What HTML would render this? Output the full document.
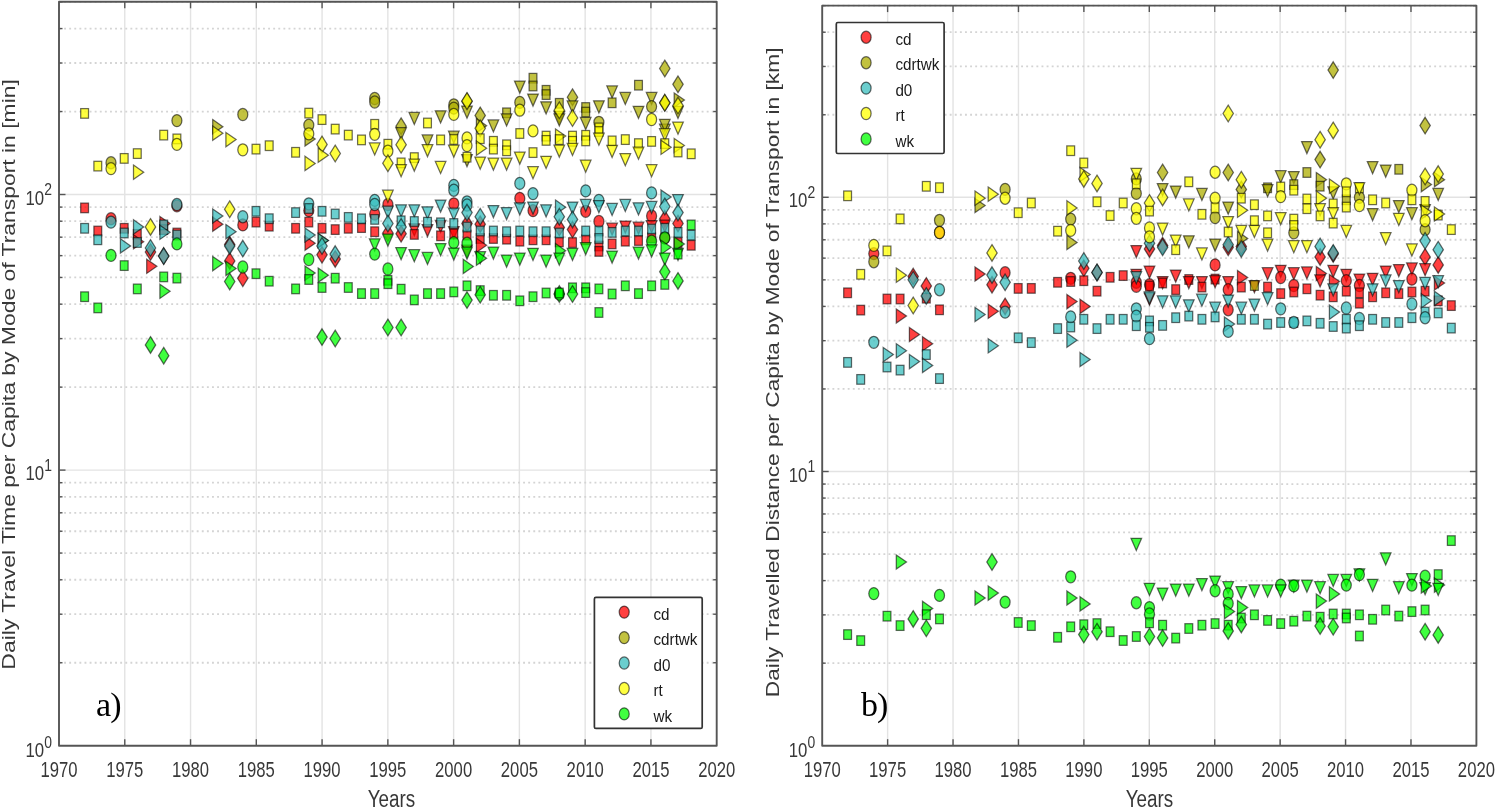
<!DOCTYPE html><html><head><meta charset="utf-8"><style>html,body{margin:0;padding:0;background:#fff;overflow:hidden}svg{display:block;filter:blur(0.3px)}</style></head><body>
<svg width="1496" height="809" viewBox="0 0 1496 809" font-family='"Liberation Sans", sans-serif'>
<rect width="1496" height="809" fill="#fff"/>
<line x1="124.77" y1="1.80" x2="124.77" y2="745.70" stroke="#e3e3e3" stroke-width="1.4"/>
<line x1="190.54" y1="1.80" x2="190.54" y2="745.70" stroke="#e3e3e3" stroke-width="1.4"/>
<line x1="256.31" y1="1.80" x2="256.31" y2="745.70" stroke="#e3e3e3" stroke-width="1.4"/>
<line x1="322.08" y1="1.80" x2="322.08" y2="745.70" stroke="#e3e3e3" stroke-width="1.4"/>
<line x1="387.85" y1="1.80" x2="387.85" y2="745.70" stroke="#e3e3e3" stroke-width="1.4"/>
<line x1="453.62" y1="1.80" x2="453.62" y2="745.70" stroke="#e3e3e3" stroke-width="1.4"/>
<line x1="519.39" y1="1.80" x2="519.39" y2="745.70" stroke="#e3e3e3" stroke-width="1.4"/>
<line x1="585.16" y1="1.80" x2="585.16" y2="745.70" stroke="#e3e3e3" stroke-width="1.4"/>
<line x1="650.93" y1="1.80" x2="650.93" y2="745.70" stroke="#e3e3e3" stroke-width="1.4"/>
<line x1="59.00" y1="662.74" x2="716.70" y2="662.74" stroke="#d4d4d4" stroke-width="1.8" stroke-dasharray="1.9 3.2"/>
<line x1="59.00" y1="614.21" x2="716.70" y2="614.21" stroke="#d4d4d4" stroke-width="1.8" stroke-dasharray="1.9 3.2"/>
<line x1="59.00" y1="579.77" x2="716.70" y2="579.77" stroke="#d4d4d4" stroke-width="1.8" stroke-dasharray="1.9 3.2"/>
<line x1="59.00" y1="553.06" x2="716.70" y2="553.06" stroke="#d4d4d4" stroke-width="1.8" stroke-dasharray="1.9 3.2"/>
<line x1="59.00" y1="531.24" x2="716.70" y2="531.24" stroke="#d4d4d4" stroke-width="1.8" stroke-dasharray="1.9 3.2"/>
<line x1="59.00" y1="512.79" x2="716.70" y2="512.79" stroke="#d4d4d4" stroke-width="1.8" stroke-dasharray="1.9 3.2"/>
<line x1="59.00" y1="496.81" x2="716.70" y2="496.81" stroke="#d4d4d4" stroke-width="1.8" stroke-dasharray="1.9 3.2"/>
<line x1="59.00" y1="482.71" x2="716.70" y2="482.71" stroke="#d4d4d4" stroke-width="1.8" stroke-dasharray="1.9 3.2"/>
<line x1="59.00" y1="387.14" x2="716.70" y2="387.14" stroke="#d4d4d4" stroke-width="1.8" stroke-dasharray="1.9 3.2"/>
<line x1="59.00" y1="338.61" x2="716.70" y2="338.61" stroke="#d4d4d4" stroke-width="1.8" stroke-dasharray="1.9 3.2"/>
<line x1="59.00" y1="304.17" x2="716.70" y2="304.17" stroke="#d4d4d4" stroke-width="1.8" stroke-dasharray="1.9 3.2"/>
<line x1="59.00" y1="277.46" x2="716.70" y2="277.46" stroke="#d4d4d4" stroke-width="1.8" stroke-dasharray="1.9 3.2"/>
<line x1="59.00" y1="255.64" x2="716.70" y2="255.64" stroke="#d4d4d4" stroke-width="1.8" stroke-dasharray="1.9 3.2"/>
<line x1="59.00" y1="237.19" x2="716.70" y2="237.19" stroke="#d4d4d4" stroke-width="1.8" stroke-dasharray="1.9 3.2"/>
<line x1="59.00" y1="221.21" x2="716.70" y2="221.21" stroke="#d4d4d4" stroke-width="1.8" stroke-dasharray="1.9 3.2"/>
<line x1="59.00" y1="207.11" x2="716.70" y2="207.11" stroke="#d4d4d4" stroke-width="1.8" stroke-dasharray="1.9 3.2"/>
<line x1="59.00" y1="111.54" x2="716.70" y2="111.54" stroke="#d4d4d4" stroke-width="1.8" stroke-dasharray="1.9 3.2"/>
<line x1="59.00" y1="63.01" x2="716.70" y2="63.01" stroke="#d4d4d4" stroke-width="1.8" stroke-dasharray="1.9 3.2"/>
<line x1="59.00" y1="28.57" x2="716.70" y2="28.57" stroke="#d4d4d4" stroke-width="1.8" stroke-dasharray="1.9 3.2"/>
<line x1="59.00" y1="1.86" x2="716.70" y2="1.86" stroke="#d4d4d4" stroke-width="1.8" stroke-dasharray="1.9 3.2"/>
<line x1="59.00" y1="470.10" x2="716.70" y2="470.10" stroke="#e3e3e3" stroke-width="1.4"/>
<line x1="59.00" y1="194.50" x2="716.70" y2="194.50" stroke="#e3e3e3" stroke-width="1.4"/>
<line x1="887.62" y1="5.60" x2="887.62" y2="745.70" stroke="#e3e3e3" stroke-width="1.4"/>
<line x1="953.04" y1="5.60" x2="953.04" y2="745.70" stroke="#e3e3e3" stroke-width="1.4"/>
<line x1="1018.46" y1="5.60" x2="1018.46" y2="745.70" stroke="#e3e3e3" stroke-width="1.4"/>
<line x1="1083.88" y1="5.60" x2="1083.88" y2="745.70" stroke="#e3e3e3" stroke-width="1.4"/>
<line x1="1149.30" y1="5.60" x2="1149.30" y2="745.70" stroke="#e3e3e3" stroke-width="1.4"/>
<line x1="1214.72" y1="5.60" x2="1214.72" y2="745.70" stroke="#e3e3e3" stroke-width="1.4"/>
<line x1="1280.14" y1="5.60" x2="1280.14" y2="745.70" stroke="#e3e3e3" stroke-width="1.4"/>
<line x1="1345.56" y1="5.60" x2="1345.56" y2="745.70" stroke="#e3e3e3" stroke-width="1.4"/>
<line x1="1410.98" y1="5.60" x2="1410.98" y2="745.70" stroke="#e3e3e3" stroke-width="1.4"/>
<line x1="822.20" y1="663.16" x2="1476.40" y2="663.16" stroke="#d4d4d4" stroke-width="1.8" stroke-dasharray="1.9 3.2"/>
<line x1="822.20" y1="614.87" x2="1476.40" y2="614.87" stroke="#d4d4d4" stroke-width="1.8" stroke-dasharray="1.9 3.2"/>
<line x1="822.20" y1="580.62" x2="1476.40" y2="580.62" stroke="#d4d4d4" stroke-width="1.8" stroke-dasharray="1.9 3.2"/>
<line x1="822.20" y1="554.04" x2="1476.40" y2="554.04" stroke="#d4d4d4" stroke-width="1.8" stroke-dasharray="1.9 3.2"/>
<line x1="822.20" y1="532.33" x2="1476.40" y2="532.33" stroke="#d4d4d4" stroke-width="1.8" stroke-dasharray="1.9 3.2"/>
<line x1="822.20" y1="513.97" x2="1476.40" y2="513.97" stroke="#d4d4d4" stroke-width="1.8" stroke-dasharray="1.9 3.2"/>
<line x1="822.20" y1="498.07" x2="1476.40" y2="498.07" stroke="#d4d4d4" stroke-width="1.8" stroke-dasharray="1.9 3.2"/>
<line x1="822.20" y1="484.05" x2="1476.40" y2="484.05" stroke="#d4d4d4" stroke-width="1.8" stroke-dasharray="1.9 3.2"/>
<line x1="822.20" y1="388.96" x2="1476.40" y2="388.96" stroke="#d4d4d4" stroke-width="1.8" stroke-dasharray="1.9 3.2"/>
<line x1="822.20" y1="340.67" x2="1476.40" y2="340.67" stroke="#d4d4d4" stroke-width="1.8" stroke-dasharray="1.9 3.2"/>
<line x1="822.20" y1="306.42" x2="1476.40" y2="306.42" stroke="#d4d4d4" stroke-width="1.8" stroke-dasharray="1.9 3.2"/>
<line x1="822.20" y1="279.84" x2="1476.40" y2="279.84" stroke="#d4d4d4" stroke-width="1.8" stroke-dasharray="1.9 3.2"/>
<line x1="822.20" y1="258.13" x2="1476.40" y2="258.13" stroke="#d4d4d4" stroke-width="1.8" stroke-dasharray="1.9 3.2"/>
<line x1="822.20" y1="239.77" x2="1476.40" y2="239.77" stroke="#d4d4d4" stroke-width="1.8" stroke-dasharray="1.9 3.2"/>
<line x1="822.20" y1="223.87" x2="1476.40" y2="223.87" stroke="#d4d4d4" stroke-width="1.8" stroke-dasharray="1.9 3.2"/>
<line x1="822.20" y1="209.85" x2="1476.40" y2="209.85" stroke="#d4d4d4" stroke-width="1.8" stroke-dasharray="1.9 3.2"/>
<line x1="822.20" y1="114.76" x2="1476.40" y2="114.76" stroke="#d4d4d4" stroke-width="1.8" stroke-dasharray="1.9 3.2"/>
<line x1="822.20" y1="66.47" x2="1476.40" y2="66.47" stroke="#d4d4d4" stroke-width="1.8" stroke-dasharray="1.9 3.2"/>
<line x1="822.20" y1="32.22" x2="1476.40" y2="32.22" stroke="#d4d4d4" stroke-width="1.8" stroke-dasharray="1.9 3.2"/>
<line x1="822.20" y1="5.64" x2="1476.40" y2="5.64" stroke="#d4d4d4" stroke-width="1.8" stroke-dasharray="1.9 3.2"/>
<line x1="822.20" y1="471.50" x2="1476.40" y2="471.50" stroke="#e3e3e3" stroke-width="1.4"/>
<line x1="822.20" y1="197.30" x2="1476.40" y2="197.30" stroke="#e3e3e3" stroke-width="1.4"/>
<rect x="80.7" y="203.1" width="7.8" height="9.6" fill="#ff0000" fill-opacity="0.75" stroke="#000" stroke-opacity="0.58" stroke-width="1.25"/>
<rect x="93.9" y="226.2" width="7.8" height="9.6" fill="#ff0000" fill-opacity="0.75" stroke="#000" stroke-opacity="0.58" stroke-width="1.25"/>
<ellipse cx="111.0" cy="218.7" rx="5.0" ry="6.05" fill="#ff0000" fill-opacity="0.75" stroke="#000" stroke-opacity="0.58" stroke-width="1.25"/>
<rect x="120.3" y="223.5" width="7.8" height="9.6" fill="#ff0000" fill-opacity="0.75" stroke="#000" stroke-opacity="0.58" stroke-width="1.25"/>
<rect x="133.4" y="229.6" width="7.8" height="9.6" fill="#ff0000" fill-opacity="0.75" stroke="#000" stroke-opacity="0.58" stroke-width="1.25"/>
<path d="M133.5 234.7L143.7 241.8L133.5 248.9Z" fill="#ff0000" fill-opacity="0.75" stroke="#000" stroke-opacity="0.58" stroke-width="1.25"/>
<path d="M150.5 243.7L155.7 252.0L150.5 260.3L145.3 252.0Z" fill="#ff0000" fill-opacity="0.75" stroke="#000" stroke-opacity="0.58" stroke-width="1.25"/>
<path d="M146.7 259.2L156.9 266.3L146.7 273.4Z" fill="#ff0000" fill-opacity="0.75" stroke="#000" stroke-opacity="0.58" stroke-width="1.25"/>
<path d="M159.9 216.4L170.1 223.5L159.9 230.6Z" fill="#ff0000" fill-opacity="0.75" stroke="#000" stroke-opacity="0.58" stroke-width="1.25"/>
<rect x="159.8" y="224.8" width="7.8" height="9.6" fill="#ff0000" fill-opacity="0.75" stroke="#000" stroke-opacity="0.58" stroke-width="1.25"/>
<path d="M163.7 247.8L168.9 256.1L163.7 264.4L158.5 256.1Z" fill="#ff0000" fill-opacity="0.75" stroke="#000" stroke-opacity="0.58" stroke-width="1.25"/>
<ellipse cx="176.9" cy="205.8" rx="5.0" ry="6.05" fill="#ff0000" fill-opacity="0.75" stroke="#000" stroke-opacity="0.58" stroke-width="1.25"/>
<rect x="173.0" y="228.2" width="7.8" height="9.6" fill="#ff0000" fill-opacity="0.75" stroke="#000" stroke-opacity="0.58" stroke-width="1.25"/>
<path d="M212.7 217.1L222.9 224.2L212.7 231.3Z" fill="#ff0000" fill-opacity="0.75" stroke="#000" stroke-opacity="0.58" stroke-width="1.25"/>
<path d="M229.7 236.3L234.9 244.6L229.7 252.9L224.5 244.6Z" fill="#ff0000" fill-opacity="0.75" stroke="#000" stroke-opacity="0.58" stroke-width="1.25"/>
<path d="M229.7 252.6L234.9 260.9L229.7 269.2L224.5 260.9Z" fill="#ff0000" fill-opacity="0.75" stroke="#000" stroke-opacity="0.58" stroke-width="1.25"/>
<ellipse cx="242.8" cy="224.9" rx="5.0" ry="6.05" fill="#ff0000" fill-opacity="0.75" stroke="#000" stroke-opacity="0.58" stroke-width="1.25"/>
<path d="M242.8 270.0L248.0 278.3L242.8 286.6L237.6 278.3Z" fill="#ff0000" fill-opacity="0.75" stroke="#000" stroke-opacity="0.58" stroke-width="1.25"/>
<rect x="252.1" y="217.3" width="7.8" height="9.6" fill="#ff0000" fill-opacity="0.75" stroke="#000" stroke-opacity="0.58" stroke-width="1.25"/>
<rect x="265.3" y="221.4" width="7.8" height="9.6" fill="#ff0000" fill-opacity="0.75" stroke="#000" stroke-opacity="0.58" stroke-width="1.25"/>
<rect x="291.7" y="223.5" width="7.8" height="9.6" fill="#ff0000" fill-opacity="0.75" stroke="#000" stroke-opacity="0.58" stroke-width="1.25"/>
<ellipse cx="308.8" cy="210.6" rx="5.0" ry="6.05" fill="#ff0000" fill-opacity="0.75" stroke="#000" stroke-opacity="0.58" stroke-width="1.25"/>
<rect x="304.9" y="217.3" width="7.8" height="9.6" fill="#ff0000" fill-opacity="0.75" stroke="#000" stroke-opacity="0.58" stroke-width="1.25"/>
<path d="M305.0 236.1L315.2 243.2L305.0 250.3Z" fill="#ff0000" fill-opacity="0.75" stroke="#000" stroke-opacity="0.58" stroke-width="1.25"/>
<rect x="318.1" y="223.5" width="7.8" height="9.6" fill="#ff0000" fill-opacity="0.75" stroke="#000" stroke-opacity="0.58" stroke-width="1.25"/>
<path d="M322.0 246.5L327.2 254.8L322.0 263.1L316.8 254.8Z" fill="#ff0000" fill-opacity="0.75" stroke="#000" stroke-opacity="0.58" stroke-width="1.25"/>
<rect x="331.3" y="224.8" width="7.8" height="9.6" fill="#ff0000" fill-opacity="0.75" stroke="#000" stroke-opacity="0.58" stroke-width="1.25"/>
<path d="M335.2 250.6L340.4 258.9L335.2 267.2L330.0 258.9Z" fill="#ff0000" fill-opacity="0.75" stroke="#000" stroke-opacity="0.58" stroke-width="1.25"/>
<rect x="344.4" y="223.5" width="7.8" height="9.6" fill="#ff0000" fill-opacity="0.75" stroke="#000" stroke-opacity="0.58" stroke-width="1.25"/>
<rect x="357.6" y="222.8" width="7.8" height="9.6" fill="#ff0000" fill-opacity="0.75" stroke="#000" stroke-opacity="0.58" stroke-width="1.25"/>
<ellipse cx="374.7" cy="214.0" rx="5.0" ry="6.05" fill="#ff0000" fill-opacity="0.75" stroke="#000" stroke-opacity="0.58" stroke-width="1.25"/>
<rect x="370.8" y="226.9" width="7.8" height="9.6" fill="#ff0000" fill-opacity="0.75" stroke="#000" stroke-opacity="0.58" stroke-width="1.25"/>
<ellipse cx="387.9" cy="204.5" rx="5.0" ry="6.05" fill="#ff0000" fill-opacity="0.75" stroke="#000" stroke-opacity="0.58" stroke-width="1.25"/>
<path d="M387.9 224.7L393.1 233.0L387.9 241.3L382.7 233.0Z" fill="#ff0000" fill-opacity="0.75" stroke="#000" stroke-opacity="0.58" stroke-width="1.25"/>
<path d="M401.1 225.4L406.3 233.7L401.1 242.0L395.9 233.7Z" fill="#ff0000" fill-opacity="0.75" stroke="#000" stroke-opacity="0.58" stroke-width="1.25"/>
<path d="M409.0 223.8L419.6 223.8L414.3 235.9Z" fill="#ff0000" fill-opacity="0.75" stroke="#000" stroke-opacity="0.58" stroke-width="1.25"/>
<rect x="410.4" y="229.6" width="7.8" height="9.6" fill="#ff0000" fill-opacity="0.75" stroke="#000" stroke-opacity="0.58" stroke-width="1.25"/>
<path d="M422.2 224.5L432.8 224.5L427.5 236.6Z" fill="#ff0000" fill-opacity="0.75" stroke="#000" stroke-opacity="0.58" stroke-width="1.25"/>
<path d="M435.3 220.4L445.9 220.4L440.6 232.5Z" fill="#ff0000" fill-opacity="0.75" stroke="#000" stroke-opacity="0.58" stroke-width="1.25"/>
<rect x="436.7" y="231.0" width="7.8" height="9.6" fill="#ff0000" fill-opacity="0.75" stroke="#000" stroke-opacity="0.58" stroke-width="1.25"/>
<ellipse cx="453.8" cy="203.8" rx="5.0" ry="6.05" fill="#ff0000" fill-opacity="0.75" stroke="#000" stroke-opacity="0.58" stroke-width="1.25"/>
<path d="M448.5 226.6L459.1 226.6L453.8 238.7Z" fill="#ff0000" fill-opacity="0.75" stroke="#000" stroke-opacity="0.58" stroke-width="1.25"/>
<rect x="449.9" y="229.2" width="7.8" height="9.6" fill="#ff0000" fill-opacity="0.75" stroke="#000" stroke-opacity="0.58" stroke-width="1.25"/>
<path d="M467.0 215.2L472.2 223.5L467.0 231.8L461.8 223.5Z" fill="#ff0000" fill-opacity="0.75" stroke="#000" stroke-opacity="0.58" stroke-width="1.25"/>
<rect x="463.1" y="230.3" width="7.8" height="9.6" fill="#ff0000" fill-opacity="0.75" stroke="#000" stroke-opacity="0.58" stroke-width="1.25"/>
<path d="M461.7 245.2L472.3 245.2L467.0 257.3Z" fill="#ff0000" fill-opacity="0.75" stroke="#000" stroke-opacity="0.58" stroke-width="1.25"/>
<path d="M480.2 215.9L485.4 224.2L480.2 232.5L475.0 224.2Z" fill="#ff0000" fill-opacity="0.75" stroke="#000" stroke-opacity="0.58" stroke-width="1.25"/>
<rect x="476.3" y="233.7" width="7.8" height="9.6" fill="#ff0000" fill-opacity="0.75" stroke="#000" stroke-opacity="0.58" stroke-width="1.25"/>
<path d="M476.4 238.2L486.6 245.3L476.4 252.4Z" fill="#ff0000" fill-opacity="0.75" stroke="#000" stroke-opacity="0.58" stroke-width="1.25"/>
<rect x="489.5" y="233.7" width="7.8" height="9.6" fill="#ff0000" fill-opacity="0.75" stroke="#000" stroke-opacity="0.58" stroke-width="1.25"/>
<rect x="502.7" y="234.4" width="7.8" height="9.6" fill="#ff0000" fill-opacity="0.75" stroke="#000" stroke-opacity="0.58" stroke-width="1.25"/>
<ellipse cx="519.8" cy="198.4" rx="5.0" ry="6.05" fill="#ff0000" fill-opacity="0.75" stroke="#000" stroke-opacity="0.58" stroke-width="1.25"/>
<rect x="515.9" y="236.4" width="7.8" height="9.6" fill="#ff0000" fill-opacity="0.75" stroke="#000" stroke-opacity="0.58" stroke-width="1.25"/>
<ellipse cx="533.0" cy="210.6" rx="5.0" ry="6.05" fill="#ff0000" fill-opacity="0.75" stroke="#000" stroke-opacity="0.58" stroke-width="1.25"/>
<rect x="529.1" y="235.0" width="7.8" height="9.6" fill="#ff0000" fill-opacity="0.75" stroke="#000" stroke-opacity="0.58" stroke-width="1.25"/>
<rect x="542.2" y="235.0" width="7.8" height="9.6" fill="#ff0000" fill-opacity="0.75" stroke="#000" stroke-opacity="0.58" stroke-width="1.25"/>
<path d="M559.3 219.3L564.5 227.6L559.3 235.9L554.1 227.6Z" fill="#ff0000" fill-opacity="0.75" stroke="#000" stroke-opacity="0.58" stroke-width="1.25"/>
<rect x="555.4" y="237.1" width="7.8" height="9.6" fill="#ff0000" fill-opacity="0.75" stroke="#000" stroke-opacity="0.58" stroke-width="1.25"/>
<path d="M572.5 221.3L577.7 229.6L572.5 237.9L567.3 229.6Z" fill="#ff0000" fill-opacity="0.75" stroke="#000" stroke-opacity="0.58" stroke-width="1.25"/>
<rect x="568.6" y="237.8" width="7.8" height="9.6" fill="#ff0000" fill-opacity="0.75" stroke="#000" stroke-opacity="0.58" stroke-width="1.25"/>
<ellipse cx="585.7" cy="211.3" rx="5.0" ry="6.05" fill="#ff0000" fill-opacity="0.75" stroke="#000" stroke-opacity="0.58" stroke-width="1.25"/>
<rect x="581.8" y="235.0" width="7.8" height="9.6" fill="#ff0000" fill-opacity="0.75" stroke="#000" stroke-opacity="0.58" stroke-width="1.25"/>
<ellipse cx="598.9" cy="221.5" rx="5.0" ry="6.05" fill="#ff0000" fill-opacity="0.75" stroke="#000" stroke-opacity="0.58" stroke-width="1.25"/>
<rect x="595.0" y="241.2" width="7.8" height="9.6" fill="#ff0000" fill-opacity="0.75" stroke="#000" stroke-opacity="0.58" stroke-width="1.25"/>
<rect x="595.0" y="246.6" width="7.8" height="9.6" fill="#ff0000" fill-opacity="0.75" stroke="#000" stroke-opacity="0.58" stroke-width="1.25"/>
<path d="M606.8 223.2L617.4 223.2L612.1 235.3Z" fill="#ff0000" fill-opacity="0.75" stroke="#000" stroke-opacity="0.58" stroke-width="1.25"/>
<rect x="608.2" y="239.1" width="7.8" height="9.6" fill="#ff0000" fill-opacity="0.75" stroke="#000" stroke-opacity="0.58" stroke-width="1.25"/>
<path d="M620.0 221.1L630.6 221.1L625.3 233.2Z" fill="#ff0000" fill-opacity="0.75" stroke="#000" stroke-opacity="0.58" stroke-width="1.25"/>
<rect x="621.4" y="236.4" width="7.8" height="9.6" fill="#ff0000" fill-opacity="0.75" stroke="#000" stroke-opacity="0.58" stroke-width="1.25"/>
<path d="M633.2 222.2L643.8 222.2L638.5 234.3Z" fill="#ff0000" fill-opacity="0.75" stroke="#000" stroke-opacity="0.58" stroke-width="1.25"/>
<rect x="634.6" y="235.7" width="7.8" height="9.6" fill="#ff0000" fill-opacity="0.75" stroke="#000" stroke-opacity="0.58" stroke-width="1.25"/>
<ellipse cx="651.6" cy="216.0" rx="5.0" ry="6.05" fill="#ff0000" fill-opacity="0.75" stroke="#000" stroke-opacity="0.58" stroke-width="1.25"/>
<path d="M646.3 220.7L656.9 220.7L651.6 232.8Z" fill="#ff0000" fill-opacity="0.75" stroke="#000" stroke-opacity="0.58" stroke-width="1.25"/>
<rect x="647.7" y="233.0" width="7.8" height="9.6" fill="#ff0000" fill-opacity="0.75" stroke="#000" stroke-opacity="0.58" stroke-width="1.25"/>
<path d="M664.8 210.5L670.0 218.8L664.8 227.1L659.6 218.8Z" fill="#ff0000" fill-opacity="0.75" stroke="#000" stroke-opacity="0.58" stroke-width="1.25"/>
<path d="M659.5 220.2L670.1 220.2L664.8 232.3Z" fill="#ff0000" fill-opacity="0.75" stroke="#000" stroke-opacity="0.58" stroke-width="1.25"/>
<ellipse cx="664.8" cy="237.8" rx="5.0" ry="6.05" fill="#ff0000" fill-opacity="0.75" stroke="#000" stroke-opacity="0.58" stroke-width="1.25"/>
<path d="M678.0 215.2L683.2 223.5L678.0 231.8L672.8 223.5Z" fill="#ff0000" fill-opacity="0.75" stroke="#000" stroke-opacity="0.58" stroke-width="1.25"/>
<rect x="674.1" y="237.8" width="7.8" height="9.6" fill="#ff0000" fill-opacity="0.75" stroke="#000" stroke-opacity="0.58" stroke-width="1.25"/>
<rect x="687.3" y="240.5" width="7.8" height="9.6" fill="#ff0000" fill-opacity="0.75" stroke="#000" stroke-opacity="0.58" stroke-width="1.25"/>
<rect x="843.7" y="288.0" width="7.8" height="9.6" fill="#ff0000" fill-opacity="0.75" stroke="#000" stroke-opacity="0.58" stroke-width="1.25"/>
<rect x="856.8" y="305.3" width="7.8" height="9.6" fill="#ff0000" fill-opacity="0.75" stroke="#000" stroke-opacity="0.58" stroke-width="1.25"/>
<ellipse cx="873.8" cy="253.6" rx="5.0" ry="6.05" fill="#ff0000" fill-opacity="0.75" stroke="#000" stroke-opacity="0.58" stroke-width="1.25"/>
<rect x="883.1" y="294.2" width="7.8" height="9.6" fill="#ff0000" fill-opacity="0.75" stroke="#000" stroke-opacity="0.58" stroke-width="1.25"/>
<rect x="896.2" y="294.2" width="7.8" height="9.6" fill="#ff0000" fill-opacity="0.75" stroke="#000" stroke-opacity="0.58" stroke-width="1.25"/>
<path d="M896.3 308.9L906.5 316.0L896.3 323.1Z" fill="#ff0000" fill-opacity="0.75" stroke="#000" stroke-opacity="0.58" stroke-width="1.25"/>
<path d="M913.2 268.3L918.4 276.6L913.2 284.9L908.0 276.6Z" fill="#ff0000" fill-opacity="0.75" stroke="#000" stroke-opacity="0.58" stroke-width="1.25"/>
<path d="M909.4 327.4L919.6 334.5L909.4 341.6Z" fill="#ff0000" fill-opacity="0.75" stroke="#000" stroke-opacity="0.58" stroke-width="1.25"/>
<path d="M926.3 277.6L931.5 285.9L926.3 294.2L921.1 285.9Z" fill="#ff0000" fill-opacity="0.75" stroke="#000" stroke-opacity="0.58" stroke-width="1.25"/>
<rect x="922.4" y="293.4" width="7.8" height="9.6" fill="#ff0000" fill-opacity="0.75" stroke="#000" stroke-opacity="0.58" stroke-width="1.25"/>
<path d="M922.5 336.7L932.7 343.8L922.5 350.9Z" fill="#ff0000" fill-opacity="0.75" stroke="#000" stroke-opacity="0.58" stroke-width="1.25"/>
<ellipse cx="939.5" cy="232.5" rx="5.0" ry="6.05" fill="#ff0000" fill-opacity="0.75" stroke="#000" stroke-opacity="0.58" stroke-width="1.25"/>
<rect x="935.6" y="305.0" width="7.8" height="9.6" fill="#ff0000" fill-opacity="0.75" stroke="#000" stroke-opacity="0.58" stroke-width="1.25"/>
<path d="M975.0 266.9L985.2 274.0L975.0 281.1Z" fill="#ff0000" fill-opacity="0.75" stroke="#000" stroke-opacity="0.58" stroke-width="1.25"/>
<path d="M992.0 276.4L997.2 284.7L992.0 293.0L986.8 284.7Z" fill="#ff0000" fill-opacity="0.75" stroke="#000" stroke-opacity="0.58" stroke-width="1.25"/>
<path d="M988.2 304.2L998.4 311.3L988.2 318.4Z" fill="#ff0000" fill-opacity="0.75" stroke="#000" stroke-opacity="0.58" stroke-width="1.25"/>
<ellipse cx="1005.1" cy="272.7" rx="5.0" ry="6.05" fill="#ff0000" fill-opacity="0.75" stroke="#000" stroke-opacity="0.58" stroke-width="1.25"/>
<path d="M1005.1 298.1L1010.3 306.4L1005.1 314.7L999.9 306.4Z" fill="#ff0000" fill-opacity="0.75" stroke="#000" stroke-opacity="0.58" stroke-width="1.25"/>
<rect x="1014.3" y="283.6" width="7.8" height="9.6" fill="#ff0000" fill-opacity="0.75" stroke="#000" stroke-opacity="0.58" stroke-width="1.25"/>
<rect x="1027.4" y="283.6" width="7.8" height="9.6" fill="#ff0000" fill-opacity="0.75" stroke="#000" stroke-opacity="0.58" stroke-width="1.25"/>
<rect x="1053.7" y="277.5" width="7.8" height="9.6" fill="#ff0000" fill-opacity="0.75" stroke="#000" stroke-opacity="0.58" stroke-width="1.25"/>
<ellipse cx="1070.7" cy="278.3" rx="5.0" ry="6.05" fill="#ff0000" fill-opacity="0.75" stroke="#000" stroke-opacity="0.58" stroke-width="1.25"/>
<rect x="1066.8" y="276.7" width="7.8" height="9.6" fill="#ff0000" fill-opacity="0.75" stroke="#000" stroke-opacity="0.58" stroke-width="1.25"/>
<path d="M1066.9 294.5L1077.1 301.6L1066.9 308.7Z" fill="#ff0000" fill-opacity="0.75" stroke="#000" stroke-opacity="0.58" stroke-width="1.25"/>
<path d="M1083.8 260.0L1089.0 268.3L1083.8 276.6L1078.6 268.3Z" fill="#ff0000" fill-opacity="0.75" stroke="#000" stroke-opacity="0.58" stroke-width="1.25"/>
<rect x="1079.9" y="275.9" width="7.8" height="9.6" fill="#ff0000" fill-opacity="0.75" stroke="#000" stroke-opacity="0.58" stroke-width="1.25"/>
<path d="M1080.0 299.3L1090.2 306.4L1080.0 313.5Z" fill="#ff0000" fill-opacity="0.75" stroke="#000" stroke-opacity="0.58" stroke-width="1.25"/>
<path d="M1097.0 264.1L1102.2 272.4L1097.0 280.7L1091.8 272.4Z" fill="#ff0000" fill-opacity="0.75" stroke="#000" stroke-opacity="0.58" stroke-width="1.25"/>
<rect x="1093.1" y="286.4" width="7.8" height="9.6" fill="#ff0000" fill-opacity="0.75" stroke="#000" stroke-opacity="0.58" stroke-width="1.25"/>
<rect x="1106.2" y="272.5" width="7.8" height="9.6" fill="#ff0000" fill-opacity="0.75" stroke="#000" stroke-opacity="0.58" stroke-width="1.25"/>
<rect x="1119.3" y="270.8" width="7.8" height="9.6" fill="#ff0000" fill-opacity="0.75" stroke="#000" stroke-opacity="0.58" stroke-width="1.25"/>
<path d="M1131.0 245.5L1141.6 245.5L1136.3 257.6Z" fill="#ff0000" fill-opacity="0.75" stroke="#000" stroke-opacity="0.58" stroke-width="1.25"/>
<path d="M1131.0 269.3L1141.6 269.3L1136.3 281.4Z" fill="#ff0000" fill-opacity="0.75" stroke="#000" stroke-opacity="0.58" stroke-width="1.25"/>
<ellipse cx="1136.3" cy="282.3" rx="5.0" ry="6.05" fill="#ff0000" fill-opacity="0.75" stroke="#000" stroke-opacity="0.58" stroke-width="1.25"/>
<ellipse cx="1136.3" cy="286.3" rx="5.0" ry="6.05" fill="#ff0000" fill-opacity="0.75" stroke="#000" stroke-opacity="0.58" stroke-width="1.25"/>
<path d="M1149.5 240.6L1154.7 248.9L1149.5 257.2L1144.3 248.9Z" fill="#ff0000" fill-opacity="0.75" stroke="#000" stroke-opacity="0.58" stroke-width="1.25"/>
<path d="M1144.2 266.1L1154.8 266.1L1149.5 278.2Z" fill="#ff0000" fill-opacity="0.75" stroke="#000" stroke-opacity="0.58" stroke-width="1.25"/>
<ellipse cx="1149.5" cy="284.7" rx="5.0" ry="6.05" fill="#ff0000" fill-opacity="0.75" stroke="#000" stroke-opacity="0.58" stroke-width="1.25"/>
<rect x="1145.6" y="281.2" width="7.8" height="9.6" fill="#ff0000" fill-opacity="0.75" stroke="#000" stroke-opacity="0.58" stroke-width="1.25"/>
<path d="M1144.2 293.2L1154.8 293.2L1149.5 305.3Z" fill="#ff0000" fill-opacity="0.75" stroke="#000" stroke-opacity="0.58" stroke-width="1.25"/>
<path d="M1162.6 237.3L1167.8 245.6L1162.6 253.9L1157.4 245.6Z" fill="#ff0000" fill-opacity="0.75" stroke="#000" stroke-opacity="0.58" stroke-width="1.25"/>
<path d="M1157.3 276.5L1167.9 276.5L1162.6 288.6Z" fill="#ff0000" fill-opacity="0.75" stroke="#000" stroke-opacity="0.58" stroke-width="1.25"/>
<rect x="1158.7" y="278.2" width="7.8" height="9.6" fill="#ff0000" fill-opacity="0.75" stroke="#000" stroke-opacity="0.58" stroke-width="1.25"/>
<path d="M1170.4 270.1L1181.0 270.1L1175.7 282.2Z" fill="#ff0000" fill-opacity="0.75" stroke="#000" stroke-opacity="0.58" stroke-width="1.25"/>
<rect x="1171.8" y="284.8" width="7.8" height="9.6" fill="#ff0000" fill-opacity="0.75" stroke="#000" stroke-opacity="0.58" stroke-width="1.25"/>
<rect x="1184.9" y="274.7" width="7.8" height="9.6" fill="#ff0000" fill-opacity="0.75" stroke="#000" stroke-opacity="0.58" stroke-width="1.25"/>
<path d="M1183.5 276.5L1194.1 276.5L1188.8 288.6Z" fill="#ff0000" fill-opacity="0.75" stroke="#000" stroke-opacity="0.58" stroke-width="1.25"/>
<path d="M1196.6 276.5L1207.2 276.5L1201.9 288.6Z" fill="#ff0000" fill-opacity="0.75" stroke="#000" stroke-opacity="0.58" stroke-width="1.25"/>
<rect x="1198.0" y="282.3" width="7.8" height="9.6" fill="#ff0000" fill-opacity="0.75" stroke="#000" stroke-opacity="0.58" stroke-width="1.25"/>
<ellipse cx="1215.1" cy="264.9" rx="5.0" ry="6.05" fill="#ff0000" fill-opacity="0.75" stroke="#000" stroke-opacity="0.58" stroke-width="1.25"/>
<rect x="1211.2" y="274.3" width="7.8" height="9.6" fill="#ff0000" fill-opacity="0.75" stroke="#000" stroke-opacity="0.58" stroke-width="1.25"/>
<path d="M1209.8 275.7L1220.4 275.7L1215.1 287.8Z" fill="#ff0000" fill-opacity="0.75" stroke="#000" stroke-opacity="0.58" stroke-width="1.25"/>
<path d="M1228.2 239.0L1233.4 247.3L1228.2 255.6L1223.0 247.3Z" fill="#ff0000" fill-opacity="0.75" stroke="#000" stroke-opacity="0.58" stroke-width="1.25"/>
<path d="M1222.9 276.5L1233.5 276.5L1228.2 288.6Z" fill="#ff0000" fill-opacity="0.75" stroke="#000" stroke-opacity="0.58" stroke-width="1.25"/>
<ellipse cx="1228.2" cy="289.6" rx="5.0" ry="6.05" fill="#ff0000" fill-opacity="0.75" stroke="#000" stroke-opacity="0.58" stroke-width="1.25"/>
<ellipse cx="1228.2" cy="309.7" rx="5.0" ry="6.05" fill="#ff0000" fill-opacity="0.75" stroke="#000" stroke-opacity="0.58" stroke-width="1.25"/>
<path d="M1241.3 238.1L1246.5 246.4L1241.3 254.7L1236.1 246.4Z" fill="#ff0000" fill-opacity="0.75" stroke="#000" stroke-opacity="0.58" stroke-width="1.25"/>
<path d="M1237.5 270.4L1247.7 277.5L1237.5 284.6Z" fill="#ff0000" fill-opacity="0.75" stroke="#000" stroke-opacity="0.58" stroke-width="1.25"/>
<rect x="1237.4" y="282.3" width="7.8" height="9.6" fill="#ff0000" fill-opacity="0.75" stroke="#000" stroke-opacity="0.58" stroke-width="1.25"/>
<path d="M1249.1 280.7L1259.7 280.7L1254.4 292.8Z" fill="#ff0000" fill-opacity="0.75" stroke="#000" stroke-opacity="0.58" stroke-width="1.25"/>
<path d="M1262.3 267.7L1272.9 267.7L1267.6 279.8Z" fill="#ff0000" fill-opacity="0.75" stroke="#000" stroke-opacity="0.58" stroke-width="1.25"/>
<rect x="1263.7" y="282.3" width="7.8" height="9.6" fill="#ff0000" fill-opacity="0.75" stroke="#000" stroke-opacity="0.58" stroke-width="1.25"/>
<path d="M1275.4 265.3L1286.0 265.3L1280.7 277.4Z" fill="#ff0000" fill-opacity="0.75" stroke="#000" stroke-opacity="0.58" stroke-width="1.25"/>
<ellipse cx="1280.7" cy="277.5" rx="5.0" ry="6.05" fill="#ff0000" fill-opacity="0.75" stroke="#000" stroke-opacity="0.58" stroke-width="1.25"/>
<rect x="1276.8" y="288.8" width="7.8" height="9.6" fill="#ff0000" fill-opacity="0.75" stroke="#000" stroke-opacity="0.58" stroke-width="1.25"/>
<path d="M1288.5 267.7L1299.1 267.7L1293.8 279.8Z" fill="#ff0000" fill-opacity="0.75" stroke="#000" stroke-opacity="0.58" stroke-width="1.25"/>
<ellipse cx="1293.8" cy="285.5" rx="5.0" ry="6.05" fill="#ff0000" fill-opacity="0.75" stroke="#000" stroke-opacity="0.58" stroke-width="1.25"/>
<rect x="1289.9" y="287.2" width="7.8" height="9.6" fill="#ff0000" fill-opacity="0.75" stroke="#000" stroke-opacity="0.58" stroke-width="1.25"/>
<path d="M1301.6 266.9L1312.2 266.9L1306.9 279.0Z" fill="#ff0000" fill-opacity="0.75" stroke="#000" stroke-opacity="0.58" stroke-width="1.25"/>
<rect x="1303.0" y="284.0" width="7.8" height="9.6" fill="#ff0000" fill-opacity="0.75" stroke="#000" stroke-opacity="0.58" stroke-width="1.25"/>
<path d="M1320.1 248.6L1325.3 256.9L1320.1 265.2L1314.9 256.9Z" fill="#ff0000" fill-opacity="0.75" stroke="#000" stroke-opacity="0.58" stroke-width="1.25"/>
<path d="M1316.3 266.4L1326.5 273.5L1316.3 280.6Z" fill="#ff0000" fill-opacity="0.75" stroke="#000" stroke-opacity="0.58" stroke-width="1.25"/>
<path d="M1314.8 274.9L1325.4 274.9L1320.1 287.0Z" fill="#ff0000" fill-opacity="0.75" stroke="#000" stroke-opacity="0.58" stroke-width="1.25"/>
<rect x="1316.2" y="290.4" width="7.8" height="9.6" fill="#ff0000" fill-opacity="0.75" stroke="#000" stroke-opacity="0.58" stroke-width="1.25"/>
<path d="M1333.2 245.7L1338.4 254.0L1333.2 262.3L1328.0 254.0Z" fill="#ff0000" fill-opacity="0.75" stroke="#000" stroke-opacity="0.58" stroke-width="1.25"/>
<path d="M1327.9 265.3L1338.5 265.3L1333.2 277.4Z" fill="#ff0000" fill-opacity="0.75" stroke="#000" stroke-opacity="0.58" stroke-width="1.25"/>
<path d="M1329.4 274.4L1339.6 281.5L1329.4 288.6Z" fill="#ff0000" fill-opacity="0.75" stroke="#000" stroke-opacity="0.58" stroke-width="1.25"/>
<rect x="1329.3" y="292.0" width="7.8" height="9.6" fill="#ff0000" fill-opacity="0.75" stroke="#000" stroke-opacity="0.58" stroke-width="1.25"/>
<path d="M1341.0 269.3L1351.6 269.3L1346.3 281.4Z" fill="#ff0000" fill-opacity="0.75" stroke="#000" stroke-opacity="0.58" stroke-width="1.25"/>
<ellipse cx="1346.3" cy="280.7" rx="5.0" ry="6.05" fill="#ff0000" fill-opacity="0.75" stroke="#000" stroke-opacity="0.58" stroke-width="1.25"/>
<rect x="1342.4" y="286.4" width="7.8" height="9.6" fill="#ff0000" fill-opacity="0.75" stroke="#000" stroke-opacity="0.58" stroke-width="1.25"/>
<path d="M1354.1 274.1L1364.7 274.1L1359.4 286.2Z" fill="#ff0000" fill-opacity="0.75" stroke="#000" stroke-opacity="0.58" stroke-width="1.25"/>
<ellipse cx="1359.4" cy="285.5" rx="5.0" ry="6.05" fill="#ff0000" fill-opacity="0.75" stroke="#000" stroke-opacity="0.58" stroke-width="1.25"/>
<rect x="1355.5" y="288.0" width="7.8" height="9.6" fill="#ff0000" fill-opacity="0.75" stroke="#000" stroke-opacity="0.58" stroke-width="1.25"/>
<rect x="1355.5" y="298.4" width="7.8" height="9.6" fill="#ff0000" fill-opacity="0.75" stroke="#000" stroke-opacity="0.58" stroke-width="1.25"/>
<path d="M1367.3 273.3L1377.9 273.3L1372.6 285.4Z" fill="#ff0000" fill-opacity="0.75" stroke="#000" stroke-opacity="0.58" stroke-width="1.25"/>
<rect x="1368.7" y="292.0" width="7.8" height="9.6" fill="#ff0000" fill-opacity="0.75" stroke="#000" stroke-opacity="0.58" stroke-width="1.25"/>
<path d="M1380.4 266.1L1391.0 266.1L1385.7 278.2Z" fill="#ff0000" fill-opacity="0.75" stroke="#000" stroke-opacity="0.58" stroke-width="1.25"/>
<rect x="1381.8" y="288.0" width="7.8" height="9.6" fill="#ff0000" fill-opacity="0.75" stroke="#000" stroke-opacity="0.58" stroke-width="1.25"/>
<path d="M1393.5 264.5L1404.1 264.5L1398.8 276.6Z" fill="#ff0000" fill-opacity="0.75" stroke="#000" stroke-opacity="0.58" stroke-width="1.25"/>
<rect x="1394.9" y="288.8" width="7.8" height="9.6" fill="#ff0000" fill-opacity="0.75" stroke="#000" stroke-opacity="0.58" stroke-width="1.25"/>
<path d="M1406.6 262.9L1417.2 262.9L1411.9 275.0Z" fill="#ff0000" fill-opacity="0.75" stroke="#000" stroke-opacity="0.58" stroke-width="1.25"/>
<ellipse cx="1411.9" cy="279.1" rx="5.0" ry="6.05" fill="#ff0000" fill-opacity="0.75" stroke="#000" stroke-opacity="0.58" stroke-width="1.25"/>
<rect x="1408.0" y="287.2" width="7.8" height="9.6" fill="#ff0000" fill-opacity="0.75" stroke="#000" stroke-opacity="0.58" stroke-width="1.25"/>
<path d="M1425.1 248.6L1430.3 256.9L1425.1 265.2L1419.9 256.9Z" fill="#ff0000" fill-opacity="0.75" stroke="#000" stroke-opacity="0.58" stroke-width="1.25"/>
<path d="M1419.8 263.7L1430.4 263.7L1425.1 275.8Z" fill="#ff0000" fill-opacity="0.75" stroke="#000" stroke-opacity="0.58" stroke-width="1.25"/>
<rect x="1421.2" y="286.4" width="7.8" height="9.6" fill="#ff0000" fill-opacity="0.75" stroke="#000" stroke-opacity="0.58" stroke-width="1.25"/>
<path d="M1438.2 256.6L1443.4 264.9L1438.2 273.2L1433.0 264.9Z" fill="#ff0000" fill-opacity="0.75" stroke="#000" stroke-opacity="0.58" stroke-width="1.25"/>
<path d="M1434.4 275.9L1444.6 283.0L1434.4 290.1Z" fill="#ff0000" fill-opacity="0.75" stroke="#000" stroke-opacity="0.58" stroke-width="1.25"/>
<rect x="1434.3" y="296.0" width="7.8" height="9.6" fill="#ff0000" fill-opacity="0.75" stroke="#000" stroke-opacity="0.58" stroke-width="1.25"/>
<rect x="1447.4" y="300.8" width="7.8" height="9.6" fill="#ff0000" fill-opacity="0.75" stroke="#000" stroke-opacity="0.58" stroke-width="1.25"/>
<ellipse cx="111.0" cy="162.7" rx="5.0" ry="6.05" fill="#aeae00" fill-opacity="0.75" stroke="#000" stroke-opacity="0.58" stroke-width="1.25"/>
<ellipse cx="176.9" cy="120.6" rx="5.0" ry="6.05" fill="#aeae00" fill-opacity="0.75" stroke="#000" stroke-opacity="0.58" stroke-width="1.25"/>
<path d="M212.7 119.6L222.9 126.7L212.7 133.8Z" fill="#aeae00" fill-opacity="0.75" stroke="#000" stroke-opacity="0.58" stroke-width="1.25"/>
<ellipse cx="242.8" cy="114.5" rx="5.0" ry="6.05" fill="#aeae00" fill-opacity="0.75" stroke="#000" stroke-opacity="0.58" stroke-width="1.25"/>
<ellipse cx="308.8" cy="125.1" rx="5.0" ry="6.05" fill="#aeae00" fill-opacity="0.75" stroke="#000" stroke-opacity="0.58" stroke-width="1.25"/>
<path d="M305.0 131.9L315.2 139.0L305.0 146.1Z" fill="#aeae00" fill-opacity="0.75" stroke="#000" stroke-opacity="0.58" stroke-width="1.25"/>
<ellipse cx="374.7" cy="98.5" rx="5.0" ry="6.05" fill="#aeae00" fill-opacity="0.75" stroke="#000" stroke-opacity="0.58" stroke-width="1.25"/>
<ellipse cx="374.7" cy="102.0" rx="5.0" ry="6.05" fill="#aeae00" fill-opacity="0.75" stroke="#000" stroke-opacity="0.58" stroke-width="1.25"/>
<path d="M401.1 117.9L406.3 126.2L401.1 134.5L395.9 126.2Z" fill="#aeae00" fill-opacity="0.75" stroke="#000" stroke-opacity="0.58" stroke-width="1.25"/>
<path d="M395.8 127.7L406.4 127.7L401.1 139.8Z" fill="#aeae00" fill-opacity="0.75" stroke="#000" stroke-opacity="0.58" stroke-width="1.25"/>
<path d="M409.0 112.4L419.6 112.4L414.3 124.5Z" fill="#aeae00" fill-opacity="0.75" stroke="#000" stroke-opacity="0.58" stroke-width="1.25"/>
<path d="M422.2 134.9L432.8 134.9L427.5 147.0Z" fill="#aeae00" fill-opacity="0.75" stroke="#000" stroke-opacity="0.58" stroke-width="1.25"/>
<path d="M435.3 110.8L445.9 110.8L440.6 122.9Z" fill="#aeae00" fill-opacity="0.75" stroke="#000" stroke-opacity="0.58" stroke-width="1.25"/>
<ellipse cx="453.8" cy="104.8" rx="5.0" ry="6.05" fill="#aeae00" fill-opacity="0.75" stroke="#000" stroke-opacity="0.58" stroke-width="1.25"/>
<ellipse cx="453.8" cy="108.1" rx="5.0" ry="6.05" fill="#aeae00" fill-opacity="0.75" stroke="#000" stroke-opacity="0.58" stroke-width="1.25"/>
<path d="M448.5 131.2L459.1 131.2L453.8 143.3Z" fill="#aeae00" fill-opacity="0.75" stroke="#000" stroke-opacity="0.58" stroke-width="1.25"/>
<path d="M467.0 93.2L472.2 101.5L467.0 109.8L461.8 101.5Z" fill="#aeae00" fill-opacity="0.75" stroke="#000" stroke-opacity="0.58" stroke-width="1.25"/>
<path d="M461.7 106.1L472.3 106.1L467.0 118.2Z" fill="#aeae00" fill-opacity="0.75" stroke="#000" stroke-opacity="0.58" stroke-width="1.25"/>
<path d="M461.7 154.5L472.3 154.5L467.0 166.6Z" fill="#aeae00" fill-opacity="0.75" stroke="#000" stroke-opacity="0.58" stroke-width="1.25"/>
<path d="M480.2 107.1L485.4 115.4L480.2 123.7L475.0 115.4Z" fill="#aeae00" fill-opacity="0.75" stroke="#000" stroke-opacity="0.58" stroke-width="1.25"/>
<path d="M476.4 118.6L486.6 125.7L476.4 132.8Z" fill="#aeae00" fill-opacity="0.75" stroke="#000" stroke-opacity="0.58" stroke-width="1.25"/>
<path d="M488.1 119.9L498.7 119.9L493.4 132.0Z" fill="#aeae00" fill-opacity="0.75" stroke="#000" stroke-opacity="0.58" stroke-width="1.25"/>
<rect x="502.7" y="108.0" width="7.8" height="9.6" fill="#aeae00" fill-opacity="0.75" stroke="#000" stroke-opacity="0.58" stroke-width="1.25"/>
<path d="M501.3 113.9L511.9 113.9L506.6 126.0Z" fill="#aeae00" fill-opacity="0.75" stroke="#000" stroke-opacity="0.58" stroke-width="1.25"/>
<path d="M514.5 81.0L525.1 81.0L519.8 93.1Z" fill="#aeae00" fill-opacity="0.75" stroke="#000" stroke-opacity="0.58" stroke-width="1.25"/>
<ellipse cx="519.8" cy="102.4" rx="5.0" ry="6.05" fill="#aeae00" fill-opacity="0.75" stroke="#000" stroke-opacity="0.58" stroke-width="1.25"/>
<rect x="529.1" y="73.4" width="7.8" height="9.6" fill="#aeae00" fill-opacity="0.75" stroke="#000" stroke-opacity="0.58" stroke-width="1.25"/>
<rect x="529.1" y="81.2" width="7.8" height="9.6" fill="#aeae00" fill-opacity="0.75" stroke="#000" stroke-opacity="0.58" stroke-width="1.25"/>
<path d="M527.7 94.0L538.3 94.0L533.0 106.1Z" fill="#aeae00" fill-opacity="0.75" stroke="#000" stroke-opacity="0.58" stroke-width="1.25"/>
<rect x="542.2" y="85.5" width="7.8" height="9.6" fill="#aeae00" fill-opacity="0.75" stroke="#000" stroke-opacity="0.58" stroke-width="1.25"/>
<rect x="542.2" y="89.8" width="7.8" height="9.6" fill="#aeae00" fill-opacity="0.75" stroke="#000" stroke-opacity="0.58" stroke-width="1.25"/>
<path d="M540.8 101.8L551.4 101.8L546.1 113.9Z" fill="#aeae00" fill-opacity="0.75" stroke="#000" stroke-opacity="0.58" stroke-width="1.25"/>
<rect x="555.4" y="98.5" width="7.8" height="9.6" fill="#aeae00" fill-opacity="0.75" stroke="#000" stroke-opacity="0.58" stroke-width="1.25"/>
<path d="M554.0 111.3L564.6 111.3L559.3 123.4Z" fill="#aeae00" fill-opacity="0.75" stroke="#000" stroke-opacity="0.58" stroke-width="1.25"/>
<path d="M554.0 113.9L564.6 113.9L559.3 126.0Z" fill="#aeae00" fill-opacity="0.75" stroke="#000" stroke-opacity="0.58" stroke-width="1.25"/>
<path d="M572.5 88.9L577.7 97.2L572.5 105.5L567.3 97.2Z" fill="#aeae00" fill-opacity="0.75" stroke="#000" stroke-opacity="0.58" stroke-width="1.25"/>
<path d="M567.2 100.9L577.8 100.9L572.5 113.0Z" fill="#aeae00" fill-opacity="0.75" stroke="#000" stroke-opacity="0.58" stroke-width="1.25"/>
<rect x="581.8" y="102.7" width="7.8" height="9.6" fill="#aeae00" fill-opacity="0.75" stroke="#000" stroke-opacity="0.58" stroke-width="1.25"/>
<rect x="581.8" y="107.3" width="7.8" height="9.6" fill="#aeae00" fill-opacity="0.75" stroke="#000" stroke-opacity="0.58" stroke-width="1.25"/>
<path d="M580.4 117.4L591.0 117.4L585.7 129.5Z" fill="#aeae00" fill-opacity="0.75" stroke="#000" stroke-opacity="0.58" stroke-width="1.25"/>
<path d="M593.6 100.8L604.2 100.8L598.9 112.9Z" fill="#aeae00" fill-opacity="0.75" stroke="#000" stroke-opacity="0.58" stroke-width="1.25"/>
<ellipse cx="598.9" cy="122.3" rx="5.0" ry="6.05" fill="#aeae00" fill-opacity="0.75" stroke="#000" stroke-opacity="0.58" stroke-width="1.25"/>
<path d="M606.8 85.9L617.4 85.9L612.1 98.0Z" fill="#aeae00" fill-opacity="0.75" stroke="#000" stroke-opacity="0.58" stroke-width="1.25"/>
<rect x="608.2" y="98.0" width="7.8" height="9.6" fill="#aeae00" fill-opacity="0.75" stroke="#000" stroke-opacity="0.58" stroke-width="1.25"/>
<path d="M620.0 92.4L630.6 92.4L625.3 104.5Z" fill="#aeae00" fill-opacity="0.75" stroke="#000" stroke-opacity="0.58" stroke-width="1.25"/>
<rect x="634.6" y="80.4" width="7.8" height="9.6" fill="#aeae00" fill-opacity="0.75" stroke="#000" stroke-opacity="0.58" stroke-width="1.25"/>
<path d="M633.2 106.3L643.8 106.3L638.5 118.4Z" fill="#aeae00" fill-opacity="0.75" stroke="#000" stroke-opacity="0.58" stroke-width="1.25"/>
<path d="M646.3 92.4L656.9 92.4L651.6 104.5Z" fill="#aeae00" fill-opacity="0.75" stroke="#000" stroke-opacity="0.58" stroke-width="1.25"/>
<ellipse cx="651.6" cy="106.6" rx="5.0" ry="6.05" fill="#aeae00" fill-opacity="0.75" stroke="#000" stroke-opacity="0.58" stroke-width="1.25"/>
<path d="M664.8 60.2L670.0 68.5L664.8 76.8L659.6 68.5Z" fill="#aeae00" fill-opacity="0.75" stroke="#000" stroke-opacity="0.58" stroke-width="1.25"/>
<path d="M664.8 94.5L670.0 102.8L664.8 111.1L659.6 102.8Z" fill="#aeae00" fill-opacity="0.75" stroke="#000" stroke-opacity="0.58" stroke-width="1.25"/>
<path d="M659.5 124.2L670.1 124.2L664.8 136.3Z" fill="#aeae00" fill-opacity="0.75" stroke="#000" stroke-opacity="0.58" stroke-width="1.25"/>
<path d="M659.5 119.3L670.1 119.3L664.8 131.4Z" fill="#aeae00" fill-opacity="0.75" stroke="#000" stroke-opacity="0.58" stroke-width="1.25"/>
<path d="M678.0 76.0L683.2 84.3L678.0 92.6L672.8 84.3Z" fill="#aeae00" fill-opacity="0.75" stroke="#000" stroke-opacity="0.58" stroke-width="1.25"/>
<path d="M674.2 93.0L684.4 100.1L674.2 107.2Z" fill="#aeae00" fill-opacity="0.75" stroke="#000" stroke-opacity="0.58" stroke-width="1.25"/>
<path d="M672.7 106.3L683.3 106.3L678.0 118.4Z" fill="#aeae00" fill-opacity="0.75" stroke="#000" stroke-opacity="0.58" stroke-width="1.25"/>
<path d="M318.2 233.4L328.4 240.5L318.2 247.6Z" fill="#aeae00" fill-opacity="0.75" stroke="#000" stroke-opacity="0.58" stroke-width="1.25"/>
<ellipse cx="873.8" cy="261.7" rx="5.0" ry="6.05" fill="#aeae00" fill-opacity="0.75" stroke="#000" stroke-opacity="0.58" stroke-width="1.25"/>
<ellipse cx="939.5" cy="220.3" rx="5.0" ry="6.05" fill="#aeae00" fill-opacity="0.75" stroke="#000" stroke-opacity="0.58" stroke-width="1.25"/>
<path d="M975.0 198.4L985.2 205.5L975.0 212.6Z" fill="#aeae00" fill-opacity="0.75" stroke="#000" stroke-opacity="0.58" stroke-width="1.25"/>
<ellipse cx="1005.1" cy="189.4" rx="5.0" ry="6.05" fill="#aeae00" fill-opacity="0.75" stroke="#000" stroke-opacity="0.58" stroke-width="1.25"/>
<ellipse cx="1070.7" cy="219.1" rx="5.0" ry="6.05" fill="#aeae00" fill-opacity="0.75" stroke="#000" stroke-opacity="0.58" stroke-width="1.25"/>
<path d="M1066.9 235.3L1077.1 242.4L1066.9 249.5Z" fill="#aeae00" fill-opacity="0.75" stroke="#000" stroke-opacity="0.58" stroke-width="1.25"/>
<ellipse cx="1136.3" cy="178.9" rx="5.0" ry="6.05" fill="#aeae00" fill-opacity="0.75" stroke="#000" stroke-opacity="0.58" stroke-width="1.25"/>
<ellipse cx="1136.3" cy="193.4" rx="5.0" ry="6.05" fill="#aeae00" fill-opacity="0.75" stroke="#000" stroke-opacity="0.58" stroke-width="1.25"/>
<path d="M1162.6 164.2L1167.8 172.5L1162.6 180.8L1157.4 172.5Z" fill="#aeae00" fill-opacity="0.75" stroke="#000" stroke-opacity="0.58" stroke-width="1.25"/>
<path d="M1157.3 183.6L1167.9 183.6L1162.6 195.7Z" fill="#aeae00" fill-opacity="0.75" stroke="#000" stroke-opacity="0.58" stroke-width="1.25"/>
<path d="M1170.4 186.0L1181.0 186.0L1175.7 198.1Z" fill="#aeae00" fill-opacity="0.75" stroke="#000" stroke-opacity="0.58" stroke-width="1.25"/>
<path d="M1183.5 235.8L1194.1 235.8L1188.8 247.9Z" fill="#aeae00" fill-opacity="0.75" stroke="#000" stroke-opacity="0.58" stroke-width="1.25"/>
<path d="M1196.6 188.4L1207.2 188.4L1201.9 200.5Z" fill="#aeae00" fill-opacity="0.75" stroke="#000" stroke-opacity="0.58" stroke-width="1.25"/>
<ellipse cx="1215.1" cy="217.5" rx="5.0" ry="6.05" fill="#aeae00" fill-opacity="0.75" stroke="#000" stroke-opacity="0.58" stroke-width="1.25"/>
<path d="M1209.8 239.0L1220.4 239.0L1215.1 251.1Z" fill="#aeae00" fill-opacity="0.75" stroke="#000" stroke-opacity="0.58" stroke-width="1.25"/>
<path d="M1228.2 164.2L1233.4 172.5L1228.2 180.8L1223.0 172.5Z" fill="#aeae00" fill-opacity="0.75" stroke="#000" stroke-opacity="0.58" stroke-width="1.25"/>
<path d="M1222.9 202.1L1233.5 202.1L1228.2 214.2Z" fill="#aeae00" fill-opacity="0.75" stroke="#000" stroke-opacity="0.58" stroke-width="1.25"/>
<path d="M1241.3 181.1L1246.5 189.4L1241.3 197.7L1236.1 189.4Z" fill="#aeae00" fill-opacity="0.75" stroke="#000" stroke-opacity="0.58" stroke-width="1.25"/>
<path d="M1237.5 231.3L1247.7 238.4L1237.5 245.5Z" fill="#aeae00" fill-opacity="0.75" stroke="#000" stroke-opacity="0.58" stroke-width="1.25"/>
<rect x="1250.5" y="280.7" width="7.8" height="9.6" fill="#aeae00" fill-opacity="0.75" stroke="#000" stroke-opacity="0.58" stroke-width="1.25"/>
<rect x="1263.7" y="183.0" width="7.8" height="9.6" fill="#aeae00" fill-opacity="0.75" stroke="#000" stroke-opacity="0.58" stroke-width="1.25"/>
<path d="M1262.3 184.7L1272.9 184.7L1267.6 196.8Z" fill="#aeae00" fill-opacity="0.75" stroke="#000" stroke-opacity="0.58" stroke-width="1.25"/>
<path d="M1275.4 170.7L1286.0 170.7L1280.7 182.8Z" fill="#aeae00" fill-opacity="0.75" stroke="#000" stroke-opacity="0.58" stroke-width="1.25"/>
<path d="M1288.5 171.5L1299.1 171.5L1293.8 183.6Z" fill="#aeae00" fill-opacity="0.75" stroke="#000" stroke-opacity="0.58" stroke-width="1.25"/>
<rect x="1289.9" y="179.8" width="7.8" height="9.6" fill="#aeae00" fill-opacity="0.75" stroke="#000" stroke-opacity="0.58" stroke-width="1.25"/>
<ellipse cx="1293.8" cy="232.8" rx="5.0" ry="6.05" fill="#aeae00" fill-opacity="0.75" stroke="#000" stroke-opacity="0.58" stroke-width="1.25"/>
<path d="M1301.6 141.5L1312.2 141.5L1306.9 153.6Z" fill="#aeae00" fill-opacity="0.75" stroke="#000" stroke-opacity="0.58" stroke-width="1.25"/>
<rect x="1303.0" y="167.7" width="7.8" height="9.6" fill="#aeae00" fill-opacity="0.75" stroke="#000" stroke-opacity="0.58" stroke-width="1.25"/>
<path d="M1320.1 151.3L1325.3 159.6L1320.1 167.9L1314.9 159.6Z" fill="#aeae00" fill-opacity="0.75" stroke="#000" stroke-opacity="0.58" stroke-width="1.25"/>
<path d="M1316.3 172.6L1326.5 179.7L1316.3 186.8Z" fill="#aeae00" fill-opacity="0.75" stroke="#000" stroke-opacity="0.58" stroke-width="1.25"/>
<rect x="1316.2" y="181.4" width="7.8" height="9.6" fill="#aeae00" fill-opacity="0.75" stroke="#000" stroke-opacity="0.58" stroke-width="1.25"/>
<path d="M1333.2 61.8L1338.4 70.1L1333.2 78.4L1328.0 70.1Z" fill="#aeae00" fill-opacity="0.75" stroke="#000" stroke-opacity="0.58" stroke-width="1.25"/>
<path d="M1327.9 186.8L1338.5 186.8L1333.2 198.9Z" fill="#aeae00" fill-opacity="0.75" stroke="#000" stroke-opacity="0.58" stroke-width="1.25"/>
<rect x="1342.4" y="195.0" width="7.8" height="9.6" fill="#aeae00" fill-opacity="0.75" stroke="#000" stroke-opacity="0.58" stroke-width="1.25"/>
<ellipse cx="1359.4" cy="197.4" rx="5.0" ry="6.05" fill="#aeae00" fill-opacity="0.75" stroke="#000" stroke-opacity="0.58" stroke-width="1.25"/>
<path d="M1367.3 161.6L1377.9 161.6L1372.6 173.7Z" fill="#aeae00" fill-opacity="0.75" stroke="#000" stroke-opacity="0.58" stroke-width="1.25"/>
<path d="M1367.3 208.5L1377.9 208.5L1372.6 220.6Z" fill="#aeae00" fill-opacity="0.75" stroke="#000" stroke-opacity="0.58" stroke-width="1.25"/>
<path d="M1380.4 165.1L1391.0 165.1L1385.7 177.2Z" fill="#aeae00" fill-opacity="0.75" stroke="#000" stroke-opacity="0.58" stroke-width="1.25"/>
<rect x="1394.9" y="164.5" width="7.8" height="9.6" fill="#aeae00" fill-opacity="0.75" stroke="#000" stroke-opacity="0.58" stroke-width="1.25"/>
<path d="M1393.5 200.5L1404.1 200.5L1398.8 212.6Z" fill="#aeae00" fill-opacity="0.75" stroke="#000" stroke-opacity="0.58" stroke-width="1.25"/>
<path d="M1406.6 207.7L1417.2 207.7L1411.9 219.8Z" fill="#aeae00" fill-opacity="0.75" stroke="#000" stroke-opacity="0.58" stroke-width="1.25"/>
<path d="M1425.1 117.3L1430.3 125.6L1425.1 133.9L1419.9 125.6Z" fill="#aeae00" fill-opacity="0.75" stroke="#000" stroke-opacity="0.58" stroke-width="1.25"/>
<path d="M1421.3 177.5L1431.5 184.6L1421.3 191.7Z" fill="#aeae00" fill-opacity="0.75" stroke="#000" stroke-opacity="0.58" stroke-width="1.25"/>
<path d="M1419.8 204.5L1430.4 204.5L1425.1 216.6Z" fill="#aeae00" fill-opacity="0.75" stroke="#000" stroke-opacity="0.58" stroke-width="1.25"/>
<ellipse cx="1425.1" cy="229.6" rx="5.0" ry="6.05" fill="#aeae00" fill-opacity="0.75" stroke="#000" stroke-opacity="0.58" stroke-width="1.25"/>
<path d="M1434.4 172.6L1444.6 179.7L1434.4 186.8Z" fill="#aeae00" fill-opacity="0.75" stroke="#000" stroke-opacity="0.58" stroke-width="1.25"/>
<path d="M1432.9 188.4L1443.5 188.4L1438.2 200.5Z" fill="#aeae00" fill-opacity="0.75" stroke="#000" stroke-opacity="0.58" stroke-width="1.25"/>
<rect x="80.7" y="223.5" width="7.8" height="9.6" fill="#3abebe" fill-opacity="0.75" stroke="#000" stroke-opacity="0.58" stroke-width="1.25"/>
<rect x="93.9" y="235.0" width="7.8" height="9.6" fill="#3abebe" fill-opacity="0.75" stroke="#000" stroke-opacity="0.58" stroke-width="1.25"/>
<ellipse cx="111.0" cy="222.1" rx="5.0" ry="6.05" fill="#3abebe" fill-opacity="0.75" stroke="#000" stroke-opacity="0.58" stroke-width="1.25"/>
<rect x="120.3" y="228.2" width="7.8" height="9.6" fill="#3abebe" fill-opacity="0.75" stroke="#000" stroke-opacity="0.58" stroke-width="1.25"/>
<path d="M120.4 238.8L130.6 245.9L120.4 253.0Z" fill="#3abebe" fill-opacity="0.75" stroke="#000" stroke-opacity="0.58" stroke-width="1.25"/>
<path d="M133.5 219.8L143.7 226.9L133.5 234.0Z" fill="#3abebe" fill-opacity="0.75" stroke="#000" stroke-opacity="0.58" stroke-width="1.25"/>
<rect x="133.4" y="237.7" width="7.8" height="9.6" fill="#3abebe" fill-opacity="0.75" stroke="#000" stroke-opacity="0.58" stroke-width="1.25"/>
<path d="M150.5 239.7L155.7 248.0L150.5 256.3L145.3 248.0Z" fill="#3abebe" fill-opacity="0.75" stroke="#000" stroke-opacity="0.58" stroke-width="1.25"/>
<rect x="159.8" y="220.1" width="7.8" height="9.6" fill="#3abebe" fill-opacity="0.75" stroke="#000" stroke-opacity="0.58" stroke-width="1.25"/>
<path d="M159.9 225.2L170.1 232.3L159.9 239.4Z" fill="#3abebe" fill-opacity="0.75" stroke="#000" stroke-opacity="0.58" stroke-width="1.25"/>
<path d="M163.7 247.8L168.9 256.1L163.7 264.4L158.5 256.1Z" fill="#3abebe" fill-opacity="0.75" stroke="#000" stroke-opacity="0.58" stroke-width="1.25"/>
<ellipse cx="176.9" cy="204.5" rx="5.0" ry="6.05" fill="#3abebe" fill-opacity="0.75" stroke="#000" stroke-opacity="0.58" stroke-width="1.25"/>
<rect x="173.0" y="230.2" width="7.8" height="9.6" fill="#3abebe" fill-opacity="0.75" stroke="#000" stroke-opacity="0.58" stroke-width="1.25"/>
<path d="M212.7 208.9L222.9 216.0L212.7 223.1Z" fill="#3abebe" fill-opacity="0.75" stroke="#000" stroke-opacity="0.58" stroke-width="1.25"/>
<path d="M225.9 224.6L236.1 231.7L225.9 238.8Z" fill="#3abebe" fill-opacity="0.75" stroke="#000" stroke-opacity="0.58" stroke-width="1.25"/>
<path d="M229.7 237.6L234.9 245.9L229.7 254.2L224.5 245.9Z" fill="#3abebe" fill-opacity="0.75" stroke="#000" stroke-opacity="0.58" stroke-width="1.25"/>
<ellipse cx="242.8" cy="216.7" rx="5.0" ry="6.05" fill="#3abebe" fill-opacity="0.75" stroke="#000" stroke-opacity="0.58" stroke-width="1.25"/>
<path d="M242.8 240.3L248.0 248.6L242.8 256.9L237.6 248.6Z" fill="#3abebe" fill-opacity="0.75" stroke="#000" stroke-opacity="0.58" stroke-width="1.25"/>
<rect x="252.1" y="206.5" width="7.8" height="9.6" fill="#3abebe" fill-opacity="0.75" stroke="#000" stroke-opacity="0.58" stroke-width="1.25"/>
<rect x="265.3" y="213.9" width="7.8" height="9.6" fill="#3abebe" fill-opacity="0.75" stroke="#000" stroke-opacity="0.58" stroke-width="1.25"/>
<rect x="291.7" y="207.8" width="7.8" height="9.6" fill="#3abebe" fill-opacity="0.75" stroke="#000" stroke-opacity="0.58" stroke-width="1.25"/>
<ellipse cx="308.8" cy="203.8" rx="5.0" ry="6.05" fill="#3abebe" fill-opacity="0.75" stroke="#000" stroke-opacity="0.58" stroke-width="1.25"/>
<rect x="304.9" y="203.7" width="7.8" height="9.6" fill="#3abebe" fill-opacity="0.75" stroke="#000" stroke-opacity="0.58" stroke-width="1.25"/>
<path d="M305.0 227.9L315.2 235.0L305.0 242.1Z" fill="#3abebe" fill-opacity="0.75" stroke="#000" stroke-opacity="0.58" stroke-width="1.25"/>
<rect x="318.1" y="206.5" width="7.8" height="9.6" fill="#3abebe" fill-opacity="0.75" stroke="#000" stroke-opacity="0.58" stroke-width="1.25"/>
<path d="M318.2 233.4L328.4 240.5L318.2 247.6Z" fill="#3abebe" fill-opacity="0.75" stroke="#000" stroke-opacity="0.58" stroke-width="1.25"/>
<path d="M322.0 237.7L327.2 246.0L322.0 254.3L316.8 246.0Z" fill="#3abebe" fill-opacity="0.75" stroke="#000" stroke-opacity="0.58" stroke-width="1.25"/>
<rect x="331.3" y="209.2" width="7.8" height="9.6" fill="#3abebe" fill-opacity="0.75" stroke="#000" stroke-opacity="0.58" stroke-width="1.25"/>
<path d="M335.2 245.8L340.4 254.1L335.2 262.4L330.0 254.1Z" fill="#3abebe" fill-opacity="0.75" stroke="#000" stroke-opacity="0.58" stroke-width="1.25"/>
<rect x="344.4" y="212.6" width="7.8" height="9.6" fill="#3abebe" fill-opacity="0.75" stroke="#000" stroke-opacity="0.58" stroke-width="1.25"/>
<rect x="357.6" y="214.0" width="7.8" height="9.6" fill="#3abebe" fill-opacity="0.75" stroke="#000" stroke-opacity="0.58" stroke-width="1.25"/>
<ellipse cx="374.7" cy="200.4" rx="5.0" ry="6.05" fill="#3abebe" fill-opacity="0.75" stroke="#000" stroke-opacity="0.58" stroke-width="1.25"/>
<ellipse cx="374.7" cy="204.5" rx="5.0" ry="6.05" fill="#3abebe" fill-opacity="0.75" stroke="#000" stroke-opacity="0.58" stroke-width="1.25"/>
<rect x="370.8" y="214.6" width="7.8" height="9.6" fill="#3abebe" fill-opacity="0.75" stroke="#000" stroke-opacity="0.58" stroke-width="1.25"/>
<path d="M382.6 206.2L393.2 206.2L387.9 218.3Z" fill="#3abebe" fill-opacity="0.75" stroke="#000" stroke-opacity="0.58" stroke-width="1.25"/>
<path d="M387.9 215.2L393.1 223.5L387.9 231.8L382.7 223.5Z" fill="#3abebe" fill-opacity="0.75" stroke="#000" stroke-opacity="0.58" stroke-width="1.25"/>
<path d="M395.8 204.8L406.4 204.8L401.1 216.9Z" fill="#3abebe" fill-opacity="0.75" stroke="#000" stroke-opacity="0.58" stroke-width="1.25"/>
<rect x="397.2" y="216.0" width="7.8" height="9.6" fill="#3abebe" fill-opacity="0.75" stroke="#000" stroke-opacity="0.58" stroke-width="1.25"/>
<path d="M401.1 218.6L406.3 226.9L401.1 235.2L395.9 226.9Z" fill="#3abebe" fill-opacity="0.75" stroke="#000" stroke-opacity="0.58" stroke-width="1.25"/>
<path d="M409.0 204.8L419.6 204.8L414.3 216.9Z" fill="#3abebe" fill-opacity="0.75" stroke="#000" stroke-opacity="0.58" stroke-width="1.25"/>
<rect x="410.4" y="216.7" width="7.8" height="9.6" fill="#3abebe" fill-opacity="0.75" stroke="#000" stroke-opacity="0.58" stroke-width="1.25"/>
<path d="M422.2 206.8L432.8 206.8L427.5 218.9Z" fill="#3abebe" fill-opacity="0.75" stroke="#000" stroke-opacity="0.58" stroke-width="1.25"/>
<rect x="423.6" y="217.4" width="7.8" height="9.6" fill="#3abebe" fill-opacity="0.75" stroke="#000" stroke-opacity="0.58" stroke-width="1.25"/>
<path d="M435.3 200.0L445.9 200.0L440.6 212.1Z" fill="#3abebe" fill-opacity="0.75" stroke="#000" stroke-opacity="0.58" stroke-width="1.25"/>
<rect x="436.7" y="218.0" width="7.8" height="9.6" fill="#3abebe" fill-opacity="0.75" stroke="#000" stroke-opacity="0.58" stroke-width="1.25"/>
<ellipse cx="453.8" cy="185.4" rx="5.0" ry="6.05" fill="#3abebe" fill-opacity="0.75" stroke="#000" stroke-opacity="0.58" stroke-width="1.25"/>
<ellipse cx="453.8" cy="190.2" rx="5.0" ry="6.05" fill="#3abebe" fill-opacity="0.75" stroke="#000" stroke-opacity="0.58" stroke-width="1.25"/>
<path d="M448.5 208.2L459.1 208.2L453.8 220.3Z" fill="#3abebe" fill-opacity="0.75" stroke="#000" stroke-opacity="0.58" stroke-width="1.25"/>
<rect x="449.9" y="218.7" width="7.8" height="9.6" fill="#3abebe" fill-opacity="0.75" stroke="#000" stroke-opacity="0.58" stroke-width="1.25"/>
<ellipse cx="467.0" cy="201.8" rx="5.0" ry="6.05" fill="#3abebe" fill-opacity="0.75" stroke="#000" stroke-opacity="0.58" stroke-width="1.25"/>
<ellipse cx="467.0" cy="205.0" rx="5.0" ry="6.05" fill="#3abebe" fill-opacity="0.75" stroke="#000" stroke-opacity="0.58" stroke-width="1.25"/>
<path d="M467.0 204.3L472.2 212.6L467.0 220.9L461.8 212.6Z" fill="#3abebe" fill-opacity="0.75" stroke="#000" stroke-opacity="0.58" stroke-width="1.25"/>
<rect x="463.1" y="222.2" width="7.8" height="9.6" fill="#3abebe" fill-opacity="0.75" stroke="#000" stroke-opacity="0.58" stroke-width="1.25"/>
<path d="M480.2 208.4L485.4 216.7L480.2 225.0L475.0 216.7Z" fill="#3abebe" fill-opacity="0.75" stroke="#000" stroke-opacity="0.58" stroke-width="1.25"/>
<rect x="476.3" y="226.2" width="7.8" height="9.6" fill="#3abebe" fill-opacity="0.75" stroke="#000" stroke-opacity="0.58" stroke-width="1.25"/>
<path d="M488.1 205.5L498.7 205.5L493.4 217.6Z" fill="#3abebe" fill-opacity="0.75" stroke="#000" stroke-opacity="0.58" stroke-width="1.25"/>
<rect x="489.5" y="226.2" width="7.8" height="9.6" fill="#3abebe" fill-opacity="0.75" stroke="#000" stroke-opacity="0.58" stroke-width="1.25"/>
<path d="M501.3 207.5L511.9 207.5L506.6 219.6Z" fill="#3abebe" fill-opacity="0.75" stroke="#000" stroke-opacity="0.58" stroke-width="1.25"/>
<rect x="502.7" y="226.9" width="7.8" height="9.6" fill="#3abebe" fill-opacity="0.75" stroke="#000" stroke-opacity="0.58" stroke-width="1.25"/>
<ellipse cx="519.8" cy="183.4" rx="5.0" ry="6.05" fill="#3abebe" fill-opacity="0.75" stroke="#000" stroke-opacity="0.58" stroke-width="1.25"/>
<path d="M514.5 202.8L525.1 202.8L519.8 214.9Z" fill="#3abebe" fill-opacity="0.75" stroke="#000" stroke-opacity="0.58" stroke-width="1.25"/>
<rect x="515.9" y="226.2" width="7.8" height="9.6" fill="#3abebe" fill-opacity="0.75" stroke="#000" stroke-opacity="0.58" stroke-width="1.25"/>
<ellipse cx="533.0" cy="193.6" rx="5.0" ry="6.05" fill="#3abebe" fill-opacity="0.75" stroke="#000" stroke-opacity="0.58" stroke-width="1.25"/>
<path d="M527.7 202.1L538.3 202.1L533.0 214.2Z" fill="#3abebe" fill-opacity="0.75" stroke="#000" stroke-opacity="0.58" stroke-width="1.25"/>
<rect x="529.1" y="226.9" width="7.8" height="9.6" fill="#3abebe" fill-opacity="0.75" stroke="#000" stroke-opacity="0.58" stroke-width="1.25"/>
<path d="M540.8 204.8L551.4 204.8L546.1 216.9Z" fill="#3abebe" fill-opacity="0.75" stroke="#000" stroke-opacity="0.58" stroke-width="1.25"/>
<rect x="542.2" y="226.9" width="7.8" height="9.6" fill="#3abebe" fill-opacity="0.75" stroke="#000" stroke-opacity="0.58" stroke-width="1.25"/>
<path d="M555.5 200.1L565.7 207.2L555.5 214.3Z" fill="#3abebe" fill-opacity="0.75" stroke="#000" stroke-opacity="0.58" stroke-width="1.25"/>
<path d="M559.3 208.4L564.5 216.7L559.3 225.0L554.1 216.7Z" fill="#3abebe" fill-opacity="0.75" stroke="#000" stroke-opacity="0.58" stroke-width="1.25"/>
<rect x="555.4" y="228.2" width="7.8" height="9.6" fill="#3abebe" fill-opacity="0.75" stroke="#000" stroke-opacity="0.58" stroke-width="1.25"/>
<path d="M567.2 202.1L577.8 202.1L572.5 214.2Z" fill="#3abebe" fill-opacity="0.75" stroke="#000" stroke-opacity="0.58" stroke-width="1.25"/>
<path d="M572.5 211.1L577.7 219.4L572.5 227.7L567.3 219.4Z" fill="#3abebe" fill-opacity="0.75" stroke="#000" stroke-opacity="0.58" stroke-width="1.25"/>
<ellipse cx="585.7" cy="190.9" rx="5.0" ry="6.05" fill="#3abebe" fill-opacity="0.75" stroke="#000" stroke-opacity="0.58" stroke-width="1.25"/>
<path d="M580.4 199.4L591.0 199.4L585.7 211.5Z" fill="#3abebe" fill-opacity="0.75" stroke="#000" stroke-opacity="0.58" stroke-width="1.25"/>
<rect x="581.8" y="226.2" width="7.8" height="9.6" fill="#3abebe" fill-opacity="0.75" stroke="#000" stroke-opacity="0.58" stroke-width="1.25"/>
<ellipse cx="598.9" cy="200.4" rx="5.0" ry="6.05" fill="#3abebe" fill-opacity="0.75" stroke="#000" stroke-opacity="0.58" stroke-width="1.25"/>
<path d="M593.6 200.7L604.2 200.7L598.9 212.8Z" fill="#3abebe" fill-opacity="0.75" stroke="#000" stroke-opacity="0.58" stroke-width="1.25"/>
<rect x="595.0" y="226.2" width="7.8" height="9.6" fill="#3abebe" fill-opacity="0.75" stroke="#000" stroke-opacity="0.58" stroke-width="1.25"/>
<rect x="595.0" y="233.7" width="7.8" height="9.6" fill="#3abebe" fill-opacity="0.75" stroke="#000" stroke-opacity="0.58" stroke-width="1.25"/>
<path d="M606.8 203.4L617.4 203.4L612.1 215.5Z" fill="#3abebe" fill-opacity="0.75" stroke="#000" stroke-opacity="0.58" stroke-width="1.25"/>
<rect x="608.2" y="227.6" width="7.8" height="9.6" fill="#3abebe" fill-opacity="0.75" stroke="#000" stroke-opacity="0.58" stroke-width="1.25"/>
<path d="M620.0 199.4L630.6 199.4L625.3 211.5Z" fill="#3abebe" fill-opacity="0.75" stroke="#000" stroke-opacity="0.58" stroke-width="1.25"/>
<rect x="621.4" y="226.2" width="7.8" height="9.6" fill="#3abebe" fill-opacity="0.75" stroke="#000" stroke-opacity="0.58" stroke-width="1.25"/>
<path d="M633.2 202.8L643.8 202.8L638.5 214.9Z" fill="#3abebe" fill-opacity="0.75" stroke="#000" stroke-opacity="0.58" stroke-width="1.25"/>
<rect x="634.6" y="226.2" width="7.8" height="9.6" fill="#3abebe" fill-opacity="0.75" stroke="#000" stroke-opacity="0.58" stroke-width="1.25"/>
<ellipse cx="651.6" cy="192.9" rx="5.0" ry="6.05" fill="#3abebe" fill-opacity="0.75" stroke="#000" stroke-opacity="0.58" stroke-width="1.25"/>
<path d="M646.3 201.4L656.9 201.4L651.6 213.5Z" fill="#3abebe" fill-opacity="0.75" stroke="#000" stroke-opacity="0.58" stroke-width="1.25"/>
<rect x="647.7" y="224.2" width="7.8" height="9.6" fill="#3abebe" fill-opacity="0.75" stroke="#000" stroke-opacity="0.58" stroke-width="1.25"/>
<path d="M661.0 189.9L671.2 197.0L661.0 204.1Z" fill="#3abebe" fill-opacity="0.75" stroke="#000" stroke-opacity="0.58" stroke-width="1.25"/>
<path d="M664.8 198.2L670.0 206.5L664.8 214.8L659.6 206.5Z" fill="#3abebe" fill-opacity="0.75" stroke="#000" stroke-opacity="0.58" stroke-width="1.25"/>
<rect x="660.9" y="223.5" width="7.8" height="9.6" fill="#3abebe" fill-opacity="0.75" stroke="#000" stroke-opacity="0.58" stroke-width="1.25"/>
<path d="M672.7 194.6L683.3 194.6L678.0 206.7Z" fill="#3abebe" fill-opacity="0.75" stroke="#000" stroke-opacity="0.58" stroke-width="1.25"/>
<path d="M678.0 204.3L683.2 212.6L678.0 220.9L672.8 212.6Z" fill="#3abebe" fill-opacity="0.75" stroke="#000" stroke-opacity="0.58" stroke-width="1.25"/>
<rect x="674.1" y="227.6" width="7.8" height="9.6" fill="#3abebe" fill-opacity="0.75" stroke="#000" stroke-opacity="0.58" stroke-width="1.25"/>
<rect x="687.3" y="230.3" width="7.8" height="9.6" fill="#3abebe" fill-opacity="0.75" stroke="#000" stroke-opacity="0.58" stroke-width="1.25"/>
<rect x="843.7" y="357.6" width="7.8" height="9.6" fill="#3abebe" fill-opacity="0.75" stroke="#000" stroke-opacity="0.58" stroke-width="1.25"/>
<rect x="856.8" y="374.6" width="7.8" height="9.6" fill="#3abebe" fill-opacity="0.75" stroke="#000" stroke-opacity="0.58" stroke-width="1.25"/>
<ellipse cx="873.8" cy="342.3" rx="5.0" ry="6.05" fill="#3abebe" fill-opacity="0.75" stroke="#000" stroke-opacity="0.58" stroke-width="1.25"/>
<path d="M883.2 347.5L893.4 354.6L883.2 361.7Z" fill="#3abebe" fill-opacity="0.75" stroke="#000" stroke-opacity="0.58" stroke-width="1.25"/>
<rect x="883.1" y="362.2" width="7.8" height="9.6" fill="#3abebe" fill-opacity="0.75" stroke="#000" stroke-opacity="0.58" stroke-width="1.25"/>
<path d="M896.3 343.7L906.5 350.8L896.3 357.9Z" fill="#3abebe" fill-opacity="0.75" stroke="#000" stroke-opacity="0.58" stroke-width="1.25"/>
<rect x="896.2" y="365.3" width="7.8" height="9.6" fill="#3abebe" fill-opacity="0.75" stroke="#000" stroke-opacity="0.58" stroke-width="1.25"/>
<path d="M913.2 271.4L918.4 279.7L913.2 288.0L908.0 279.7Z" fill="#3abebe" fill-opacity="0.75" stroke="#000" stroke-opacity="0.58" stroke-width="1.25"/>
<path d="M909.4 354.5L919.6 361.6L909.4 368.7Z" fill="#3abebe" fill-opacity="0.75" stroke="#000" stroke-opacity="0.58" stroke-width="1.25"/>
<path d="M926.3 287.6L931.5 295.9L926.3 304.2L921.1 295.9Z" fill="#3abebe" fill-opacity="0.75" stroke="#000" stroke-opacity="0.58" stroke-width="1.25"/>
<rect x="922.4" y="349.8" width="7.8" height="9.6" fill="#3abebe" fill-opacity="0.75" stroke="#000" stroke-opacity="0.58" stroke-width="1.25"/>
<path d="M922.5 358.3L932.7 365.4L922.5 372.5Z" fill="#3abebe" fill-opacity="0.75" stroke="#000" stroke-opacity="0.58" stroke-width="1.25"/>
<ellipse cx="939.5" cy="289.7" rx="5.0" ry="6.05" fill="#3abebe" fill-opacity="0.75" stroke="#000" stroke-opacity="0.58" stroke-width="1.25"/>
<rect x="935.6" y="373.8" width="7.8" height="9.6" fill="#3abebe" fill-opacity="0.75" stroke="#000" stroke-opacity="0.58" stroke-width="1.25"/>
<path d="M975.0 307.4L985.2 314.5L975.0 321.6Z" fill="#3abebe" fill-opacity="0.75" stroke="#000" stroke-opacity="0.58" stroke-width="1.25"/>
<path d="M992.0 266.8L997.2 275.1L992.0 283.4L986.8 275.1Z" fill="#3abebe" fill-opacity="0.75" stroke="#000" stroke-opacity="0.58" stroke-width="1.25"/>
<path d="M988.2 338.7L998.4 345.8L988.2 352.9Z" fill="#3abebe" fill-opacity="0.75" stroke="#000" stroke-opacity="0.58" stroke-width="1.25"/>
<path d="M1005.1 274.0L1010.3 282.3L1005.1 290.6L999.9 282.3Z" fill="#3abebe" fill-opacity="0.75" stroke="#000" stroke-opacity="0.58" stroke-width="1.25"/>
<ellipse cx="1005.1" cy="312.1" rx="5.0" ry="6.05" fill="#3abebe" fill-opacity="0.75" stroke="#000" stroke-opacity="0.58" stroke-width="1.25"/>
<rect x="1014.3" y="333.0" width="7.8" height="9.6" fill="#3abebe" fill-opacity="0.75" stroke="#000" stroke-opacity="0.58" stroke-width="1.25"/>
<rect x="1027.4" y="337.8" width="7.8" height="9.6" fill="#3abebe" fill-opacity="0.75" stroke="#000" stroke-opacity="0.58" stroke-width="1.25"/>
<rect x="1053.7" y="323.8" width="7.8" height="9.6" fill="#3abebe" fill-opacity="0.75" stroke="#000" stroke-opacity="0.58" stroke-width="1.25"/>
<ellipse cx="1070.7" cy="316.9" rx="5.0" ry="6.05" fill="#3abebe" fill-opacity="0.75" stroke="#000" stroke-opacity="0.58" stroke-width="1.25"/>
<rect x="1066.8" y="322.2" width="7.8" height="9.6" fill="#3abebe" fill-opacity="0.75" stroke="#000" stroke-opacity="0.58" stroke-width="1.25"/>
<path d="M1066.9 333.1L1077.1 340.2L1066.9 347.3Z" fill="#3abebe" fill-opacity="0.75" stroke="#000" stroke-opacity="0.58" stroke-width="1.25"/>
<path d="M1083.8 252.7L1089.0 261.0L1083.8 269.3L1078.6 261.0Z" fill="#3abebe" fill-opacity="0.75" stroke="#000" stroke-opacity="0.58" stroke-width="1.25"/>
<rect x="1079.9" y="314.5" width="7.8" height="9.6" fill="#3abebe" fill-opacity="0.75" stroke="#000" stroke-opacity="0.58" stroke-width="1.25"/>
<path d="M1080.0 352.4L1090.2 359.5L1080.0 366.6Z" fill="#3abebe" fill-opacity="0.75" stroke="#000" stroke-opacity="0.58" stroke-width="1.25"/>
<path d="M1097.0 264.1L1102.2 272.4L1097.0 280.7L1091.8 272.4Z" fill="#3abebe" fill-opacity="0.75" stroke="#000" stroke-opacity="0.58" stroke-width="1.25"/>
<rect x="1093.1" y="323.8" width="7.8" height="9.6" fill="#3abebe" fill-opacity="0.75" stroke="#000" stroke-opacity="0.58" stroke-width="1.25"/>
<rect x="1106.2" y="314.5" width="7.8" height="9.6" fill="#3abebe" fill-opacity="0.75" stroke="#000" stroke-opacity="0.58" stroke-width="1.25"/>
<rect x="1119.3" y="314.5" width="7.8" height="9.6" fill="#3abebe" fill-opacity="0.75" stroke="#000" stroke-opacity="0.58" stroke-width="1.25"/>
<path d="M1131.0 271.7L1141.6 271.7L1136.3 283.8Z" fill="#3abebe" fill-opacity="0.75" stroke="#000" stroke-opacity="0.58" stroke-width="1.25"/>
<ellipse cx="1136.3" cy="308.8" rx="5.0" ry="6.05" fill="#3abebe" fill-opacity="0.75" stroke="#000" stroke-opacity="0.58" stroke-width="1.25"/>
<ellipse cx="1136.3" cy="316.1" rx="5.0" ry="6.05" fill="#3abebe" fill-opacity="0.75" stroke="#000" stroke-opacity="0.58" stroke-width="1.25"/>
<rect x="1132.4" y="320.9" width="7.8" height="9.6" fill="#3abebe" fill-opacity="0.75" stroke="#000" stroke-opacity="0.58" stroke-width="1.25"/>
<path d="M1149.5 234.9L1154.7 243.2L1149.5 251.5L1144.3 243.2Z" fill="#3abebe" fill-opacity="0.75" stroke="#000" stroke-opacity="0.58" stroke-width="1.25"/>
<path d="M1144.2 291.8L1154.8 291.8L1149.5 303.9Z" fill="#3abebe" fill-opacity="0.75" stroke="#000" stroke-opacity="0.58" stroke-width="1.25"/>
<rect x="1145.6" y="316.1" width="7.8" height="9.6" fill="#3abebe" fill-opacity="0.75" stroke="#000" stroke-opacity="0.58" stroke-width="1.25"/>
<rect x="1145.6" y="322.5" width="7.8" height="9.6" fill="#3abebe" fill-opacity="0.75" stroke="#000" stroke-opacity="0.58" stroke-width="1.25"/>
<ellipse cx="1149.5" cy="338.6" rx="5.0" ry="6.05" fill="#3abebe" fill-opacity="0.75" stroke="#000" stroke-opacity="0.58" stroke-width="1.25"/>
<path d="M1162.6 239.0L1167.8 247.3L1162.6 255.6L1157.4 247.3Z" fill="#3abebe" fill-opacity="0.75" stroke="#000" stroke-opacity="0.58" stroke-width="1.25"/>
<path d="M1157.3 295.8L1167.9 295.8L1162.6 307.9Z" fill="#3abebe" fill-opacity="0.75" stroke="#000" stroke-opacity="0.58" stroke-width="1.25"/>
<rect x="1158.7" y="320.6" width="7.8" height="9.6" fill="#3abebe" fill-opacity="0.75" stroke="#000" stroke-opacity="0.58" stroke-width="1.25"/>
<path d="M1170.4 295.8L1181.0 295.8L1175.7 307.9Z" fill="#3abebe" fill-opacity="0.75" stroke="#000" stroke-opacity="0.58" stroke-width="1.25"/>
<rect x="1171.8" y="312.9" width="7.8" height="9.6" fill="#3abebe" fill-opacity="0.75" stroke="#000" stroke-opacity="0.58" stroke-width="1.25"/>
<path d="M1183.5 299.8L1194.1 299.8L1188.8 311.9Z" fill="#3abebe" fill-opacity="0.75" stroke="#000" stroke-opacity="0.58" stroke-width="1.25"/>
<rect x="1184.9" y="311.3" width="7.8" height="9.6" fill="#3abebe" fill-opacity="0.75" stroke="#000" stroke-opacity="0.58" stroke-width="1.25"/>
<path d="M1196.6 294.2L1207.2 294.2L1201.9 306.3Z" fill="#3abebe" fill-opacity="0.75" stroke="#000" stroke-opacity="0.58" stroke-width="1.25"/>
<rect x="1198.0" y="314.5" width="7.8" height="9.6" fill="#3abebe" fill-opacity="0.75" stroke="#000" stroke-opacity="0.58" stroke-width="1.25"/>
<path d="M1209.8 302.2L1220.4 302.2L1215.1 314.3Z" fill="#3abebe" fill-opacity="0.75" stroke="#000" stroke-opacity="0.58" stroke-width="1.25"/>
<rect x="1211.2" y="312.1" width="7.8" height="9.6" fill="#3abebe" fill-opacity="0.75" stroke="#000" stroke-opacity="0.58" stroke-width="1.25"/>
<path d="M1228.2 236.5L1233.4 244.8L1228.2 253.1L1223.0 244.8Z" fill="#3abebe" fill-opacity="0.75" stroke="#000" stroke-opacity="0.58" stroke-width="1.25"/>
<path d="M1222.9 295.0L1233.5 295.0L1228.2 307.1Z" fill="#3abebe" fill-opacity="0.75" stroke="#000" stroke-opacity="0.58" stroke-width="1.25"/>
<path d="M1224.4 317.0L1234.6 324.1L1224.4 331.2Z" fill="#3abebe" fill-opacity="0.75" stroke="#000" stroke-opacity="0.58" stroke-width="1.25"/>
<ellipse cx="1228.2" cy="331.4" rx="5.0" ry="6.05" fill="#3abebe" fill-opacity="0.75" stroke="#000" stroke-opacity="0.58" stroke-width="1.25"/>
<path d="M1241.3 240.6L1246.5 248.9L1241.3 257.2L1236.1 248.9Z" fill="#3abebe" fill-opacity="0.75" stroke="#000" stroke-opacity="0.58" stroke-width="1.25"/>
<path d="M1236.0 302.2L1246.6 302.2L1241.3 314.3Z" fill="#3abebe" fill-opacity="0.75" stroke="#000" stroke-opacity="0.58" stroke-width="1.25"/>
<rect x="1237.4" y="314.5" width="7.8" height="9.6" fill="#3abebe" fill-opacity="0.75" stroke="#000" stroke-opacity="0.58" stroke-width="1.25"/>
<path d="M1249.1 299.0L1259.7 299.0L1254.4 311.1Z" fill="#3abebe" fill-opacity="0.75" stroke="#000" stroke-opacity="0.58" stroke-width="1.25"/>
<rect x="1250.5" y="314.5" width="7.8" height="9.6" fill="#3abebe" fill-opacity="0.75" stroke="#000" stroke-opacity="0.58" stroke-width="1.25"/>
<path d="M1262.3 292.6L1272.9 292.6L1267.6 304.7Z" fill="#3abebe" fill-opacity="0.75" stroke="#000" stroke-opacity="0.58" stroke-width="1.25"/>
<rect x="1263.7" y="319.3" width="7.8" height="9.6" fill="#3abebe" fill-opacity="0.75" stroke="#000" stroke-opacity="0.58" stroke-width="1.25"/>
<ellipse cx="1280.7" cy="308.8" rx="5.0" ry="6.05" fill="#3abebe" fill-opacity="0.75" stroke="#000" stroke-opacity="0.58" stroke-width="1.25"/>
<rect x="1276.8" y="317.7" width="7.8" height="9.6" fill="#3abebe" fill-opacity="0.75" stroke="#000" stroke-opacity="0.58" stroke-width="1.25"/>
<rect x="1289.9" y="317.7" width="7.8" height="9.6" fill="#3abebe" fill-opacity="0.75" stroke="#000" stroke-opacity="0.58" stroke-width="1.25"/>
<ellipse cx="1293.8" cy="322.5" rx="5.0" ry="6.05" fill="#3abebe" fill-opacity="0.75" stroke="#000" stroke-opacity="0.58" stroke-width="1.25"/>
<rect x="1303.0" y="316.1" width="7.8" height="9.6" fill="#3abebe" fill-opacity="0.75" stroke="#000" stroke-opacity="0.58" stroke-width="1.25"/>
<path d="M1320.1 238.1L1325.3 246.4L1320.1 254.7L1314.9 246.4Z" fill="#3abebe" fill-opacity="0.75" stroke="#000" stroke-opacity="0.58" stroke-width="1.25"/>
<rect x="1316.2" y="318.5" width="7.8" height="9.6" fill="#3abebe" fill-opacity="0.75" stroke="#000" stroke-opacity="0.58" stroke-width="1.25"/>
<path d="M1333.2 244.6L1338.4 252.9L1333.2 261.2L1328.0 252.9Z" fill="#3abebe" fill-opacity="0.75" stroke="#000" stroke-opacity="0.58" stroke-width="1.25"/>
<path d="M1327.9 283.8L1338.5 283.8L1333.2 295.9Z" fill="#3abebe" fill-opacity="0.75" stroke="#000" stroke-opacity="0.58" stroke-width="1.25"/>
<path d="M1329.4 305.0L1339.6 312.1L1329.4 319.2Z" fill="#3abebe" fill-opacity="0.75" stroke="#000" stroke-opacity="0.58" stroke-width="1.25"/>
<rect x="1329.3" y="321.7" width="7.8" height="9.6" fill="#3abebe" fill-opacity="0.75" stroke="#000" stroke-opacity="0.58" stroke-width="1.25"/>
<ellipse cx="1346.3" cy="308.0" rx="5.0" ry="6.05" fill="#3abebe" fill-opacity="0.75" stroke="#000" stroke-opacity="0.58" stroke-width="1.25"/>
<rect x="1342.4" y="314.5" width="7.8" height="9.6" fill="#3abebe" fill-opacity="0.75" stroke="#000" stroke-opacity="0.58" stroke-width="1.25"/>
<rect x="1342.4" y="323.3" width="7.8" height="9.6" fill="#3abebe" fill-opacity="0.75" stroke="#000" stroke-opacity="0.58" stroke-width="1.25"/>
<ellipse cx="1359.4" cy="318.5" rx="5.0" ry="6.05" fill="#3abebe" fill-opacity="0.75" stroke="#000" stroke-opacity="0.58" stroke-width="1.25"/>
<rect x="1355.5" y="320.9" width="7.8" height="9.6" fill="#3abebe" fill-opacity="0.75" stroke="#000" stroke-opacity="0.58" stroke-width="1.25"/>
<path d="M1367.3 283.8L1377.9 283.8L1372.6 295.9Z" fill="#3abebe" fill-opacity="0.75" stroke="#000" stroke-opacity="0.58" stroke-width="1.25"/>
<rect x="1368.7" y="314.5" width="7.8" height="9.6" fill="#3abebe" fill-opacity="0.75" stroke="#000" stroke-opacity="0.58" stroke-width="1.25"/>
<path d="M1380.4 274.9L1391.0 274.9L1385.7 287.0Z" fill="#3abebe" fill-opacity="0.75" stroke="#000" stroke-opacity="0.58" stroke-width="1.25"/>
<rect x="1381.8" y="317.7" width="7.8" height="9.6" fill="#3abebe" fill-opacity="0.75" stroke="#000" stroke-opacity="0.58" stroke-width="1.25"/>
<path d="M1393.5 280.5L1404.1 280.5L1398.8 292.6Z" fill="#3abebe" fill-opacity="0.75" stroke="#000" stroke-opacity="0.58" stroke-width="1.25"/>
<rect x="1394.9" y="317.7" width="7.8" height="9.6" fill="#3abebe" fill-opacity="0.75" stroke="#000" stroke-opacity="0.58" stroke-width="1.25"/>
<ellipse cx="1411.9" cy="304.0" rx="5.0" ry="6.05" fill="#3abebe" fill-opacity="0.75" stroke="#000" stroke-opacity="0.58" stroke-width="1.25"/>
<rect x="1408.0" y="312.9" width="7.8" height="9.6" fill="#3abebe" fill-opacity="0.75" stroke="#000" stroke-opacity="0.58" stroke-width="1.25"/>
<path d="M1425.1 232.5L1430.3 240.8L1425.1 249.1L1419.9 240.8Z" fill="#3abebe" fill-opacity="0.75" stroke="#000" stroke-opacity="0.58" stroke-width="1.25"/>
<path d="M1419.8 277.3L1430.4 277.3L1425.1 289.4Z" fill="#3abebe" fill-opacity="0.75" stroke="#000" stroke-opacity="0.58" stroke-width="1.25"/>
<path d="M1421.3 293.7L1431.5 300.8L1421.3 307.9Z" fill="#3abebe" fill-opacity="0.75" stroke="#000" stroke-opacity="0.58" stroke-width="1.25"/>
<rect x="1421.2" y="307.3" width="7.8" height="9.6" fill="#3abebe" fill-opacity="0.75" stroke="#000" stroke-opacity="0.58" stroke-width="1.25"/>
<ellipse cx="1425.1" cy="317.7" rx="5.0" ry="6.05" fill="#3abebe" fill-opacity="0.75" stroke="#000" stroke-opacity="0.58" stroke-width="1.25"/>
<path d="M1438.2 241.4L1443.4 249.7L1438.2 258.0L1433.0 249.7Z" fill="#3abebe" fill-opacity="0.75" stroke="#000" stroke-opacity="0.58" stroke-width="1.25"/>
<path d="M1432.9 275.7L1443.5 275.7L1438.2 287.8Z" fill="#3abebe" fill-opacity="0.75" stroke="#000" stroke-opacity="0.58" stroke-width="1.25"/>
<path d="M1434.4 291.3L1444.6 298.4L1434.4 305.5Z" fill="#3abebe" fill-opacity="0.75" stroke="#000" stroke-opacity="0.58" stroke-width="1.25"/>
<rect x="1434.3" y="308.1" width="7.8" height="9.6" fill="#3abebe" fill-opacity="0.75" stroke="#000" stroke-opacity="0.58" stroke-width="1.25"/>
<rect x="1447.4" y="323.3" width="7.8" height="9.6" fill="#3abebe" fill-opacity="0.75" stroke="#000" stroke-opacity="0.58" stroke-width="1.25"/>
<rect x="80.7" y="108.6" width="7.8" height="9.6" fill="#ffff00" fill-opacity="0.75" stroke="#000" stroke-opacity="0.58" stroke-width="1.25"/>
<rect x="93.9" y="161.3" width="7.8" height="9.6" fill="#ffff00" fill-opacity="0.75" stroke="#000" stroke-opacity="0.58" stroke-width="1.25"/>
<ellipse cx="111.0" cy="168.6" rx="5.0" ry="6.05" fill="#ffff00" fill-opacity="0.75" stroke="#000" stroke-opacity="0.58" stroke-width="1.25"/>
<rect x="120.3" y="153.6" width="7.8" height="9.6" fill="#ffff00" fill-opacity="0.75" stroke="#000" stroke-opacity="0.58" stroke-width="1.25"/>
<rect x="133.4" y="148.8" width="7.8" height="9.6" fill="#ffff00" fill-opacity="0.75" stroke="#000" stroke-opacity="0.58" stroke-width="1.25"/>
<path d="M133.5 165.1L143.7 172.2L133.5 179.3Z" fill="#ffff00" fill-opacity="0.75" stroke="#000" stroke-opacity="0.58" stroke-width="1.25"/>
<rect x="159.8" y="130.3" width="7.8" height="9.6" fill="#ffff00" fill-opacity="0.75" stroke="#000" stroke-opacity="0.58" stroke-width="1.25"/>
<rect x="173.0" y="134.1" width="7.8" height="9.6" fill="#ffff00" fill-opacity="0.75" stroke="#000" stroke-opacity="0.58" stroke-width="1.25"/>
<ellipse cx="176.9" cy="144.4" rx="5.0" ry="6.05" fill="#ffff00" fill-opacity="0.75" stroke="#000" stroke-opacity="0.58" stroke-width="1.25"/>
<path d="M212.7 126.1L222.9 133.2L212.7 140.3Z" fill="#ffff00" fill-opacity="0.75" stroke="#000" stroke-opacity="0.58" stroke-width="1.25"/>
<path d="M225.9 132.5L236.1 139.6L225.9 146.7Z" fill="#ffff00" fill-opacity="0.75" stroke="#000" stroke-opacity="0.58" stroke-width="1.25"/>
<ellipse cx="242.8" cy="149.8" rx="5.0" ry="6.05" fill="#ffff00" fill-opacity="0.75" stroke="#000" stroke-opacity="0.58" stroke-width="1.25"/>
<rect x="252.1" y="144.3" width="7.8" height="9.6" fill="#ffff00" fill-opacity="0.75" stroke="#000" stroke-opacity="0.58" stroke-width="1.25"/>
<rect x="265.3" y="140.9" width="7.8" height="9.6" fill="#ffff00" fill-opacity="0.75" stroke="#000" stroke-opacity="0.58" stroke-width="1.25"/>
<rect x="291.7" y="147.5" width="7.8" height="9.6" fill="#ffff00" fill-opacity="0.75" stroke="#000" stroke-opacity="0.58" stroke-width="1.25"/>
<rect x="304.9" y="108.3" width="7.8" height="9.6" fill="#ffff00" fill-opacity="0.75" stroke="#000" stroke-opacity="0.58" stroke-width="1.25"/>
<ellipse cx="308.8" cy="133.8" rx="5.0" ry="6.05" fill="#ffff00" fill-opacity="0.75" stroke="#000" stroke-opacity="0.58" stroke-width="1.25"/>
<path d="M305.0 156.3L315.2 163.4L305.0 170.5Z" fill="#ffff00" fill-opacity="0.75" stroke="#000" stroke-opacity="0.58" stroke-width="1.25"/>
<rect x="318.1" y="114.8" width="7.8" height="9.6" fill="#ffff00" fill-opacity="0.75" stroke="#000" stroke-opacity="0.58" stroke-width="1.25"/>
<path d="M322.0 136.1L327.2 144.4L322.0 152.7L316.8 144.4Z" fill="#ffff00" fill-opacity="0.75" stroke="#000" stroke-opacity="0.58" stroke-width="1.25"/>
<path d="M318.2 148.1L328.4 155.2L318.2 162.3Z" fill="#ffff00" fill-opacity="0.75" stroke="#000" stroke-opacity="0.58" stroke-width="1.25"/>
<rect x="331.3" y="124.3" width="7.8" height="9.6" fill="#ffff00" fill-opacity="0.75" stroke="#000" stroke-opacity="0.58" stroke-width="1.25"/>
<path d="M335.2 145.2L340.4 153.5L335.2 161.8L330.0 153.5Z" fill="#ffff00" fill-opacity="0.75" stroke="#000" stroke-opacity="0.58" stroke-width="1.25"/>
<rect x="344.4" y="130.3" width="7.8" height="9.6" fill="#ffff00" fill-opacity="0.75" stroke="#000" stroke-opacity="0.58" stroke-width="1.25"/>
<rect x="357.6" y="135.1" width="7.8" height="9.6" fill="#ffff00" fill-opacity="0.75" stroke="#000" stroke-opacity="0.58" stroke-width="1.25"/>
<rect x="370.8" y="119.5" width="7.8" height="9.6" fill="#ffff00" fill-opacity="0.75" stroke="#000" stroke-opacity="0.58" stroke-width="1.25"/>
<ellipse cx="374.7" cy="134.3" rx="5.0" ry="6.05" fill="#ffff00" fill-opacity="0.75" stroke="#000" stroke-opacity="0.58" stroke-width="1.25"/>
<path d="M369.4 142.9L380.0 142.9L374.7 155.0Z" fill="#ffff00" fill-opacity="0.75" stroke="#000" stroke-opacity="0.58" stroke-width="1.25"/>
<rect x="384.0" y="139.4" width="7.8" height="9.6" fill="#ffff00" fill-opacity="0.75" stroke="#000" stroke-opacity="0.58" stroke-width="1.25"/>
<ellipse cx="387.9" cy="151.1" rx="5.0" ry="6.05" fill="#ffff00" fill-opacity="0.75" stroke="#000" stroke-opacity="0.58" stroke-width="1.25"/>
<path d="M387.9 154.9L393.1 163.2L387.9 171.5L382.7 163.2Z" fill="#ffff00" fill-opacity="0.75" stroke="#000" stroke-opacity="0.58" stroke-width="1.25"/>
<path d="M382.6 190.2L393.2 190.2L387.9 202.3Z" fill="#ffff00" fill-opacity="0.75" stroke="#000" stroke-opacity="0.58" stroke-width="1.25"/>
<path d="M401.1 136.4L406.3 144.7L401.1 153.0L395.9 144.7Z" fill="#ffff00" fill-opacity="0.75" stroke="#000" stroke-opacity="0.58" stroke-width="1.25"/>
<rect x="397.2" y="158.1" width="7.8" height="9.6" fill="#ffff00" fill-opacity="0.75" stroke="#000" stroke-opacity="0.58" stroke-width="1.25"/>
<path d="M395.8 164.6L406.4 164.6L401.1 176.7Z" fill="#ffff00" fill-opacity="0.75" stroke="#000" stroke-opacity="0.58" stroke-width="1.25"/>
<rect x="410.4" y="152.8" width="7.8" height="9.6" fill="#ffff00" fill-opacity="0.75" stroke="#000" stroke-opacity="0.58" stroke-width="1.25"/>
<path d="M409.0 159.0L419.6 159.0L414.3 171.1Z" fill="#ffff00" fill-opacity="0.75" stroke="#000" stroke-opacity="0.58" stroke-width="1.25"/>
<rect x="423.6" y="118.2" width="7.8" height="9.6" fill="#ffff00" fill-opacity="0.75" stroke="#000" stroke-opacity="0.58" stroke-width="1.25"/>
<path d="M422.2 144.5L432.8 144.5L427.5 156.6Z" fill="#ffff00" fill-opacity="0.75" stroke="#000" stroke-opacity="0.58" stroke-width="1.25"/>
<rect x="436.7" y="135.1" width="7.8" height="9.6" fill="#ffff00" fill-opacity="0.75" stroke="#000" stroke-opacity="0.58" stroke-width="1.25"/>
<path d="M435.3 161.4L445.9 161.4L440.6 173.5Z" fill="#ffff00" fill-opacity="0.75" stroke="#000" stroke-opacity="0.58" stroke-width="1.25"/>
<ellipse cx="453.8" cy="114.4" rx="5.0" ry="6.05" fill="#ffff00" fill-opacity="0.75" stroke="#000" stroke-opacity="0.58" stroke-width="1.25"/>
<rect x="449.9" y="134.7" width="7.8" height="9.6" fill="#ffff00" fill-opacity="0.75" stroke="#000" stroke-opacity="0.58" stroke-width="1.25"/>
<path d="M448.5 145.1L459.1 145.1L453.8 157.2Z" fill="#ffff00" fill-opacity="0.75" stroke="#000" stroke-opacity="0.58" stroke-width="1.25"/>
<path d="M467.0 92.7L472.2 101.0L467.0 109.3L461.8 101.0Z" fill="#ffff00" fill-opacity="0.75" stroke="#000" stroke-opacity="0.58" stroke-width="1.25"/>
<ellipse cx="467.0" cy="137.9" rx="5.0" ry="6.05" fill="#ffff00" fill-opacity="0.75" stroke="#000" stroke-opacity="0.58" stroke-width="1.25"/>
<ellipse cx="467.0" cy="145.6" rx="5.0" ry="6.05" fill="#ffff00" fill-opacity="0.75" stroke="#000" stroke-opacity="0.58" stroke-width="1.25"/>
<rect x="463.1" y="152.4" width="7.8" height="9.6" fill="#ffff00" fill-opacity="0.75" stroke="#000" stroke-opacity="0.58" stroke-width="1.25"/>
<path d="M480.2 120.0L485.4 128.3L480.2 136.6L475.0 128.3Z" fill="#ffff00" fill-opacity="0.75" stroke="#000" stroke-opacity="0.58" stroke-width="1.25"/>
<rect x="476.3" y="133.9" width="7.8" height="9.6" fill="#ffff00" fill-opacity="0.75" stroke="#000" stroke-opacity="0.58" stroke-width="1.25"/>
<path d="M476.4 141.1L486.6 148.2L476.4 155.3Z" fill="#ffff00" fill-opacity="0.75" stroke="#000" stroke-opacity="0.58" stroke-width="1.25"/>
<path d="M474.9 157.1L485.5 157.1L480.2 169.2Z" fill="#ffff00" fill-opacity="0.75" stroke="#000" stroke-opacity="0.58" stroke-width="1.25"/>
<rect x="489.5" y="136.5" width="7.8" height="9.6" fill="#ffff00" fill-opacity="0.75" stroke="#000" stroke-opacity="0.58" stroke-width="1.25"/>
<rect x="489.5" y="144.3" width="7.8" height="9.6" fill="#ffff00" fill-opacity="0.75" stroke="#000" stroke-opacity="0.58" stroke-width="1.25"/>
<path d="M488.1 158.0L498.7 158.0L493.4 170.1Z" fill="#ffff00" fill-opacity="0.75" stroke="#000" stroke-opacity="0.58" stroke-width="1.25"/>
<rect x="502.7" y="140.0" width="7.8" height="9.6" fill="#ffff00" fill-opacity="0.75" stroke="#000" stroke-opacity="0.58" stroke-width="1.25"/>
<rect x="502.7" y="146.0" width="7.8" height="9.6" fill="#ffff00" fill-opacity="0.75" stroke="#000" stroke-opacity="0.58" stroke-width="1.25"/>
<path d="M501.3 158.0L511.9 158.0L506.6 170.1Z" fill="#ffff00" fill-opacity="0.75" stroke="#000" stroke-opacity="0.58" stroke-width="1.25"/>
<ellipse cx="519.8" cy="110.2" rx="5.0" ry="6.05" fill="#ffff00" fill-opacity="0.75" stroke="#000" stroke-opacity="0.58" stroke-width="1.25"/>
<rect x="515.9" y="128.7" width="7.8" height="9.6" fill="#ffff00" fill-opacity="0.75" stroke="#000" stroke-opacity="0.58" stroke-width="1.25"/>
<path d="M514.5 152.0L525.1 152.0L519.8 164.1Z" fill="#ffff00" fill-opacity="0.75" stroke="#000" stroke-opacity="0.58" stroke-width="1.25"/>
<ellipse cx="533.0" cy="130.9" rx="5.0" ry="6.05" fill="#ffff00" fill-opacity="0.75" stroke="#000" stroke-opacity="0.58" stroke-width="1.25"/>
<rect x="529.1" y="147.8" width="7.8" height="9.6" fill="#ffff00" fill-opacity="0.75" stroke="#000" stroke-opacity="0.58" stroke-width="1.25"/>
<path d="M527.7 166.7L538.3 166.7L533.0 178.8Z" fill="#ffff00" fill-opacity="0.75" stroke="#000" stroke-opacity="0.58" stroke-width="1.25"/>
<rect x="542.2" y="131.3" width="7.8" height="9.6" fill="#ffff00" fill-opacity="0.75" stroke="#000" stroke-opacity="0.58" stroke-width="1.25"/>
<rect x="542.2" y="135.6" width="7.8" height="9.6" fill="#ffff00" fill-opacity="0.75" stroke="#000" stroke-opacity="0.58" stroke-width="1.25"/>
<path d="M540.8 156.3L551.4 156.3L546.1 168.4Z" fill="#ffff00" fill-opacity="0.75" stroke="#000" stroke-opacity="0.58" stroke-width="1.25"/>
<path d="M559.3 101.9L564.5 110.2L559.3 118.5L554.1 110.2Z" fill="#ffff00" fill-opacity="0.75" stroke="#000" stroke-opacity="0.58" stroke-width="1.25"/>
<path d="M555.5 129.0L565.7 136.1L555.5 143.2Z" fill="#ffff00" fill-opacity="0.75" stroke="#000" stroke-opacity="0.58" stroke-width="1.25"/>
<rect x="555.4" y="134.8" width="7.8" height="9.6" fill="#ffff00" fill-opacity="0.75" stroke="#000" stroke-opacity="0.58" stroke-width="1.25"/>
<path d="M554.0 145.0L564.6 145.0L559.3 157.1Z" fill="#ffff00" fill-opacity="0.75" stroke="#000" stroke-opacity="0.58" stroke-width="1.25"/>
<path d="M572.5 109.7L577.7 118.0L572.5 126.3L567.3 118.0Z" fill="#ffff00" fill-opacity="0.75" stroke="#000" stroke-opacity="0.58" stroke-width="1.25"/>
<rect x="568.6" y="131.3" width="7.8" height="9.6" fill="#ffff00" fill-opacity="0.75" stroke="#000" stroke-opacity="0.58" stroke-width="1.25"/>
<rect x="568.6" y="136.5" width="7.8" height="9.6" fill="#ffff00" fill-opacity="0.75" stroke="#000" stroke-opacity="0.58" stroke-width="1.25"/>
<path d="M567.2 143.3L577.8 143.3L572.5 155.4Z" fill="#ffff00" fill-opacity="0.75" stroke="#000" stroke-opacity="0.58" stroke-width="1.25"/>
<rect x="581.8" y="130.5" width="7.8" height="9.6" fill="#ffff00" fill-opacity="0.75" stroke="#000" stroke-opacity="0.58" stroke-width="1.25"/>
<rect x="581.8" y="136.1" width="7.8" height="9.6" fill="#ffff00" fill-opacity="0.75" stroke="#000" stroke-opacity="0.58" stroke-width="1.25"/>
<path d="M580.4 160.1L591.0 160.1L585.7 172.2Z" fill="#ffff00" fill-opacity="0.75" stroke="#000" stroke-opacity="0.58" stroke-width="1.25"/>
<rect x="595.0" y="123.1" width="7.8" height="9.6" fill="#ffff00" fill-opacity="0.75" stroke="#000" stroke-opacity="0.58" stroke-width="1.25"/>
<rect x="595.0" y="126.7" width="7.8" height="9.6" fill="#ffff00" fill-opacity="0.75" stroke="#000" stroke-opacity="0.58" stroke-width="1.25"/>
<path d="M593.6 133.2L604.2 133.2L598.9 145.3Z" fill="#ffff00" fill-opacity="0.75" stroke="#000" stroke-opacity="0.58" stroke-width="1.25"/>
<rect x="608.2" y="136.1" width="7.8" height="9.6" fill="#ffff00" fill-opacity="0.75" stroke="#000" stroke-opacity="0.58" stroke-width="1.25"/>
<path d="M606.8 145.3L617.4 145.3L612.1 157.4Z" fill="#ffff00" fill-opacity="0.75" stroke="#000" stroke-opacity="0.58" stroke-width="1.25"/>
<rect x="621.4" y="134.8" width="7.8" height="9.6" fill="#ffff00" fill-opacity="0.75" stroke="#000" stroke-opacity="0.58" stroke-width="1.25"/>
<path d="M620.0 153.6L630.6 153.6L625.3 165.7Z" fill="#ffff00" fill-opacity="0.75" stroke="#000" stroke-opacity="0.58" stroke-width="1.25"/>
<rect x="634.6" y="138.8" width="7.8" height="9.6" fill="#ffff00" fill-opacity="0.75" stroke="#000" stroke-opacity="0.58" stroke-width="1.25"/>
<path d="M633.2 147.1L643.8 147.1L638.5 159.2Z" fill="#ffff00" fill-opacity="0.75" stroke="#000" stroke-opacity="0.58" stroke-width="1.25"/>
<ellipse cx="651.6" cy="119.5" rx="5.0" ry="6.05" fill="#ffff00" fill-opacity="0.75" stroke="#000" stroke-opacity="0.58" stroke-width="1.25"/>
<rect x="647.7" y="136.6" width="7.8" height="9.6" fill="#ffff00" fill-opacity="0.75" stroke="#000" stroke-opacity="0.58" stroke-width="1.25"/>
<path d="M646.3 164.7L656.9 164.7L651.6 176.8Z" fill="#ffff00" fill-opacity="0.75" stroke="#000" stroke-opacity="0.58" stroke-width="1.25"/>
<path d="M664.8 94.5L670.0 102.8L664.8 111.1L659.6 102.8Z" fill="#ffff00" fill-opacity="0.75" stroke="#000" stroke-opacity="0.58" stroke-width="1.25"/>
<path d="M659.5 128.6L670.1 128.6L664.8 140.7Z" fill="#ffff00" fill-opacity="0.75" stroke="#000" stroke-opacity="0.58" stroke-width="1.25"/>
<rect x="660.9" y="138.8" width="7.8" height="9.6" fill="#ffff00" fill-opacity="0.75" stroke="#000" stroke-opacity="0.58" stroke-width="1.25"/>
<path d="M661.0 140.2L671.2 147.3L661.0 154.4Z" fill="#ffff00" fill-opacity="0.75" stroke="#000" stroke-opacity="0.58" stroke-width="1.25"/>
<path d="M678.0 97.3L683.2 105.6L678.0 113.9L672.8 105.6Z" fill="#ffff00" fill-opacity="0.75" stroke="#000" stroke-opacity="0.58" stroke-width="1.25"/>
<path d="M672.7 122.1L683.3 122.1L678.0 134.2Z" fill="#ffff00" fill-opacity="0.75" stroke="#000" stroke-opacity="0.58" stroke-width="1.25"/>
<path d="M674.2 138.4L684.4 145.5L674.2 152.6Z" fill="#ffff00" fill-opacity="0.75" stroke="#000" stroke-opacity="0.58" stroke-width="1.25"/>
<rect x="674.1" y="147.2" width="7.8" height="9.6" fill="#ffff00" fill-opacity="0.75" stroke="#000" stroke-opacity="0.58" stroke-width="1.25"/>
<rect x="687.3" y="149.0" width="7.8" height="9.6" fill="#ffff00" fill-opacity="0.75" stroke="#000" stroke-opacity="0.58" stroke-width="1.25"/>
<path d="M150.5 218.6L155.7 226.9L150.5 235.2L145.3 226.9Z" fill="#ffff00" fill-opacity="0.75" stroke="#000" stroke-opacity="0.58" stroke-width="1.25"/>
<path d="M229.7 200.9L234.9 209.2L229.7 217.5L224.5 209.2Z" fill="#ffff00" fill-opacity="0.75" stroke="#000" stroke-opacity="0.58" stroke-width="1.25"/>
<rect x="843.7" y="191.0" width="7.8" height="9.6" fill="#ffff00" fill-opacity="0.75" stroke="#000" stroke-opacity="0.58" stroke-width="1.25"/>
<rect x="856.8" y="269.5" width="7.8" height="9.6" fill="#ffff00" fill-opacity="0.75" stroke="#000" stroke-opacity="0.58" stroke-width="1.25"/>
<ellipse cx="873.8" cy="245.4" rx="5.0" ry="6.05" fill="#ffff00" fill-opacity="0.75" stroke="#000" stroke-opacity="0.58" stroke-width="1.25"/>
<rect x="883.1" y="246.1" width="7.8" height="9.6" fill="#ffff00" fill-opacity="0.75" stroke="#000" stroke-opacity="0.58" stroke-width="1.25"/>
<rect x="896.2" y="214.1" width="7.8" height="9.6" fill="#ffff00" fill-opacity="0.75" stroke="#000" stroke-opacity="0.58" stroke-width="1.25"/>
<path d="M896.3 268.1L906.5 275.2L896.3 282.3Z" fill="#ffff00" fill-opacity="0.75" stroke="#000" stroke-opacity="0.58" stroke-width="1.25"/>
<path d="M913.2 297.2L918.4 305.5L913.2 313.8L908.0 305.5Z" fill="#ffff00" fill-opacity="0.75" stroke="#000" stroke-opacity="0.58" stroke-width="1.25"/>
<rect x="922.4" y="181.5" width="7.8" height="9.6" fill="#ffff00" fill-opacity="0.75" stroke="#000" stroke-opacity="0.58" stroke-width="1.25"/>
<rect x="935.6" y="182.9" width="7.8" height="9.6" fill="#ffff00" fill-opacity="0.75" stroke="#000" stroke-opacity="0.58" stroke-width="1.25"/>
<ellipse cx="939.5" cy="232.5" rx="5.0" ry="6.05" fill="#ffff00" fill-opacity="0.75" stroke="#000" stroke-opacity="0.58" stroke-width="1.25"/>
<path d="M975.0 191.1L985.2 198.2L975.0 205.3Z" fill="#ffff00" fill-opacity="0.75" stroke="#000" stroke-opacity="0.58" stroke-width="1.25"/>
<path d="M988.2 187.1L998.4 194.2L988.2 201.3Z" fill="#ffff00" fill-opacity="0.75" stroke="#000" stroke-opacity="0.58" stroke-width="1.25"/>
<path d="M992.0 244.6L997.2 252.9L992.0 261.2L986.8 252.9Z" fill="#ffff00" fill-opacity="0.75" stroke="#000" stroke-opacity="0.58" stroke-width="1.25"/>
<ellipse cx="1005.1" cy="198.2" rx="5.0" ry="6.05" fill="#ffff00" fill-opacity="0.75" stroke="#000" stroke-opacity="0.58" stroke-width="1.25"/>
<rect x="1014.3" y="207.9" width="7.8" height="9.6" fill="#ffff00" fill-opacity="0.75" stroke="#000" stroke-opacity="0.58" stroke-width="1.25"/>
<rect x="1027.4" y="198.2" width="7.8" height="9.6" fill="#ffff00" fill-opacity="0.75" stroke="#000" stroke-opacity="0.58" stroke-width="1.25"/>
<rect x="1053.7" y="226.4" width="7.8" height="9.6" fill="#ffff00" fill-opacity="0.75" stroke="#000" stroke-opacity="0.58" stroke-width="1.25"/>
<rect x="1066.8" y="145.9" width="7.8" height="9.6" fill="#ffff00" fill-opacity="0.75" stroke="#000" stroke-opacity="0.58" stroke-width="1.25"/>
<path d="M1066.9 200.8L1077.1 207.9L1066.9 215.0Z" fill="#ffff00" fill-opacity="0.75" stroke="#000" stroke-opacity="0.58" stroke-width="1.25"/>
<ellipse cx="1070.7" cy="230.4" rx="5.0" ry="6.05" fill="#ffff00" fill-opacity="0.75" stroke="#000" stroke-opacity="0.58" stroke-width="1.25"/>
<rect x="1079.9" y="158.2" width="7.8" height="9.6" fill="#ffff00" fill-opacity="0.75" stroke="#000" stroke-opacity="0.58" stroke-width="1.25"/>
<path d="M1080.0 167.4L1090.2 174.5L1080.0 181.6Z" fill="#ffff00" fill-opacity="0.75" stroke="#000" stroke-opacity="0.58" stroke-width="1.25"/>
<path d="M1083.8 170.6L1089.0 178.9L1083.8 187.2L1078.6 178.9Z" fill="#ffff00" fill-opacity="0.75" stroke="#000" stroke-opacity="0.58" stroke-width="1.25"/>
<path d="M1097.0 175.1L1102.2 183.4L1097.0 191.7L1091.8 183.4Z" fill="#ffff00" fill-opacity="0.75" stroke="#000" stroke-opacity="0.58" stroke-width="1.25"/>
<rect x="1093.1" y="197.0" width="7.8" height="9.6" fill="#ffff00" fill-opacity="0.75" stroke="#000" stroke-opacity="0.58" stroke-width="1.25"/>
<rect x="1106.2" y="210.8" width="7.8" height="9.6" fill="#ffff00" fill-opacity="0.75" stroke="#000" stroke-opacity="0.58" stroke-width="1.25"/>
<rect x="1119.3" y="198.2" width="7.8" height="9.6" fill="#ffff00" fill-opacity="0.75" stroke="#000" stroke-opacity="0.58" stroke-width="1.25"/>
<path d="M1131.0 168.3L1141.6 168.3L1136.3 180.4Z" fill="#ffff00" fill-opacity="0.75" stroke="#000" stroke-opacity="0.58" stroke-width="1.25"/>
<rect x="1132.4" y="179.0" width="7.8" height="9.6" fill="#ffff00" fill-opacity="0.75" stroke="#000" stroke-opacity="0.58" stroke-width="1.25"/>
<ellipse cx="1136.3" cy="208.7" rx="5.0" ry="6.05" fill="#ffff00" fill-opacity="0.75" stroke="#000" stroke-opacity="0.58" stroke-width="1.25"/>
<ellipse cx="1136.3" cy="218.3" rx="5.0" ry="6.05" fill="#ffff00" fill-opacity="0.75" stroke="#000" stroke-opacity="0.58" stroke-width="1.25"/>
<path d="M1149.5 194.7L1154.7 203.0L1149.5 211.3L1144.3 203.0Z" fill="#ffff00" fill-opacity="0.75" stroke="#000" stroke-opacity="0.58" stroke-width="1.25"/>
<rect x="1145.6" y="206.3" width="7.8" height="9.6" fill="#ffff00" fill-opacity="0.75" stroke="#000" stroke-opacity="0.58" stroke-width="1.25"/>
<ellipse cx="1149.5" cy="228.0" rx="5.0" ry="6.05" fill="#ffff00" fill-opacity="0.75" stroke="#000" stroke-opacity="0.58" stroke-width="1.25"/>
<ellipse cx="1149.5" cy="236.8" rx="5.0" ry="6.05" fill="#ffff00" fill-opacity="0.75" stroke="#000" stroke-opacity="0.58" stroke-width="1.25"/>
<path d="M1162.6 189.1L1167.8 197.4L1162.6 205.7L1157.4 197.4Z" fill="#ffff00" fill-opacity="0.75" stroke="#000" stroke-opacity="0.58" stroke-width="1.25"/>
<path d="M1157.3 223.0L1167.9 223.0L1162.6 235.1Z" fill="#ffff00" fill-opacity="0.75" stroke="#000" stroke-opacity="0.58" stroke-width="1.25"/>
<path d="M1170.4 235.0L1181.0 235.0L1175.7 247.1Z" fill="#ffff00" fill-opacity="0.75" stroke="#000" stroke-opacity="0.58" stroke-width="1.25"/>
<rect x="1171.8" y="244.9" width="7.8" height="9.6" fill="#ffff00" fill-opacity="0.75" stroke="#000" stroke-opacity="0.58" stroke-width="1.25"/>
<rect x="1184.9" y="177.0" width="7.8" height="9.6" fill="#ffff00" fill-opacity="0.75" stroke="#000" stroke-opacity="0.58" stroke-width="1.25"/>
<path d="M1183.5 198.9L1194.1 198.9L1188.8 211.0Z" fill="#ffff00" fill-opacity="0.75" stroke="#000" stroke-opacity="0.58" stroke-width="1.25"/>
<rect x="1198.0" y="209.5" width="7.8" height="9.6" fill="#ffff00" fill-opacity="0.75" stroke="#000" stroke-opacity="0.58" stroke-width="1.25"/>
<path d="M1196.6 247.9L1207.2 247.9L1201.9 260.0Z" fill="#ffff00" fill-opacity="0.75" stroke="#000" stroke-opacity="0.58" stroke-width="1.25"/>
<ellipse cx="1215.1" cy="172.2" rx="5.0" ry="6.05" fill="#ffff00" fill-opacity="0.75" stroke="#000" stroke-opacity="0.58" stroke-width="1.25"/>
<ellipse cx="1215.1" cy="198.2" rx="5.0" ry="6.05" fill="#ffff00" fill-opacity="0.75" stroke="#000" stroke-opacity="0.58" stroke-width="1.25"/>
<rect x="1211.2" y="203.1" width="7.8" height="9.6" fill="#ffff00" fill-opacity="0.75" stroke="#000" stroke-opacity="0.58" stroke-width="1.25"/>
<path d="M1228.2 105.2L1233.4 113.5L1228.2 121.8L1223.0 113.5Z" fill="#ffff00" fill-opacity="0.75" stroke="#000" stroke-opacity="0.58" stroke-width="1.25"/>
<path d="M1222.9 216.5L1233.5 216.5L1228.2 228.6Z" fill="#ffff00" fill-opacity="0.75" stroke="#000" stroke-opacity="0.58" stroke-width="1.25"/>
<rect x="1224.3" y="227.2" width="7.8" height="9.6" fill="#ffff00" fill-opacity="0.75" stroke="#000" stroke-opacity="0.58" stroke-width="1.25"/>
<path d="M1241.3 171.4L1246.5 179.7L1241.3 188.0L1236.1 179.7Z" fill="#ffff00" fill-opacity="0.75" stroke="#000" stroke-opacity="0.58" stroke-width="1.25"/>
<rect x="1237.4" y="193.4" width="7.8" height="9.6" fill="#ffff00" fill-opacity="0.75" stroke="#000" stroke-opacity="0.58" stroke-width="1.25"/>
<path d="M1237.5 203.2L1247.7 210.3L1237.5 217.4Z" fill="#ffff00" fill-opacity="0.75" stroke="#000" stroke-opacity="0.58" stroke-width="1.25"/>
<path d="M1236.0 225.4L1246.6 225.4L1241.3 237.5Z" fill="#ffff00" fill-opacity="0.75" stroke="#000" stroke-opacity="0.58" stroke-width="1.25"/>
<rect x="1250.5" y="199.9" width="7.8" height="9.6" fill="#ffff00" fill-opacity="0.75" stroke="#000" stroke-opacity="0.58" stroke-width="1.25"/>
<rect x="1250.5" y="215.9" width="7.8" height="9.6" fill="#ffff00" fill-opacity="0.75" stroke="#000" stroke-opacity="0.58" stroke-width="1.25"/>
<path d="M1249.1 225.4L1259.7 225.4L1254.4 237.5Z" fill="#ffff00" fill-opacity="0.75" stroke="#000" stroke-opacity="0.58" stroke-width="1.25"/>
<rect x="1263.7" y="211.1" width="7.8" height="9.6" fill="#ffff00" fill-opacity="0.75" stroke="#000" stroke-opacity="0.58" stroke-width="1.25"/>
<rect x="1263.7" y="228.0" width="7.8" height="9.6" fill="#ffff00" fill-opacity="0.75" stroke="#000" stroke-opacity="0.58" stroke-width="1.25"/>
<path d="M1262.3 239.0L1272.9 239.0L1267.6 251.1Z" fill="#ffff00" fill-opacity="0.75" stroke="#000" stroke-opacity="0.58" stroke-width="1.25"/>
<rect x="1276.8" y="182.2" width="7.8" height="9.6" fill="#ffff00" fill-opacity="0.75" stroke="#000" stroke-opacity="0.58" stroke-width="1.25"/>
<ellipse cx="1280.7" cy="196.6" rx="5.0" ry="6.05" fill="#ffff00" fill-opacity="0.75" stroke="#000" stroke-opacity="0.58" stroke-width="1.25"/>
<path d="M1275.4 212.5L1286.0 212.5L1280.7 224.6Z" fill="#ffff00" fill-opacity="0.75" stroke="#000" stroke-opacity="0.58" stroke-width="1.25"/>
<rect x="1289.9" y="185.4" width="7.8" height="9.6" fill="#ffff00" fill-opacity="0.75" stroke="#000" stroke-opacity="0.58" stroke-width="1.25"/>
<rect x="1289.9" y="214.3" width="7.8" height="9.6" fill="#ffff00" fill-opacity="0.75" stroke="#000" stroke-opacity="0.58" stroke-width="1.25"/>
<rect x="1289.9" y="220.7" width="7.8" height="9.6" fill="#ffff00" fill-opacity="0.75" stroke="#000" stroke-opacity="0.58" stroke-width="1.25"/>
<path d="M1288.5 240.6L1299.1 240.6L1293.8 252.7Z" fill="#ffff00" fill-opacity="0.75" stroke="#000" stroke-opacity="0.58" stroke-width="1.25"/>
<rect x="1303.0" y="194.2" width="7.8" height="9.6" fill="#ffff00" fill-opacity="0.75" stroke="#000" stroke-opacity="0.58" stroke-width="1.25"/>
<rect x="1303.0" y="203.9" width="7.8" height="9.6" fill="#ffff00" fill-opacity="0.75" stroke="#000" stroke-opacity="0.58" stroke-width="1.25"/>
<path d="M1301.6 240.6L1312.2 240.6L1306.9 252.7Z" fill="#ffff00" fill-opacity="0.75" stroke="#000" stroke-opacity="0.58" stroke-width="1.25"/>
<path d="M1320.1 131.4L1325.3 139.7L1320.1 148.0L1314.9 139.7Z" fill="#ffff00" fill-opacity="0.75" stroke="#000" stroke-opacity="0.58" stroke-width="1.25"/>
<path d="M1316.3 191.1L1326.5 198.2L1316.3 205.3Z" fill="#ffff00" fill-opacity="0.75" stroke="#000" stroke-opacity="0.58" stroke-width="1.25"/>
<path d="M1314.8 203.7L1325.4 203.7L1320.1 215.8Z" fill="#ffff00" fill-opacity="0.75" stroke="#000" stroke-opacity="0.58" stroke-width="1.25"/>
<rect x="1316.2" y="211.1" width="7.8" height="9.6" fill="#ffff00" fill-opacity="0.75" stroke="#000" stroke-opacity="0.58" stroke-width="1.25"/>
<path d="M1333.2 122.1L1338.4 130.4L1333.2 138.7L1328.0 130.4Z" fill="#ffff00" fill-opacity="0.75" stroke="#000" stroke-opacity="0.58" stroke-width="1.25"/>
<path d="M1329.4 179.1L1339.6 186.2L1329.4 193.3Z" fill="#ffff00" fill-opacity="0.75" stroke="#000" stroke-opacity="0.58" stroke-width="1.25"/>
<rect x="1329.3" y="199.1" width="7.8" height="9.6" fill="#ffff00" fill-opacity="0.75" stroke="#000" stroke-opacity="0.58" stroke-width="1.25"/>
<path d="M1327.9 207.7L1338.5 207.7L1333.2 219.8Z" fill="#ffff00" fill-opacity="0.75" stroke="#000" stroke-opacity="0.58" stroke-width="1.25"/>
<rect x="1329.3" y="218.3" width="7.8" height="9.6" fill="#ffff00" fill-opacity="0.75" stroke="#000" stroke-opacity="0.58" stroke-width="1.25"/>
<ellipse cx="1346.3" cy="183.8" rx="5.0" ry="6.05" fill="#ffff00" fill-opacity="0.75" stroke="#000" stroke-opacity="0.58" stroke-width="1.25"/>
<rect x="1342.4" y="187.0" width="7.8" height="9.6" fill="#ffff00" fill-opacity="0.75" stroke="#000" stroke-opacity="0.58" stroke-width="1.25"/>
<rect x="1342.4" y="202.3" width="7.8" height="9.6" fill="#ffff00" fill-opacity="0.75" stroke="#000" stroke-opacity="0.58" stroke-width="1.25"/>
<path d="M1341.0 225.4L1351.6 225.4L1346.3 237.5Z" fill="#ffff00" fill-opacity="0.75" stroke="#000" stroke-opacity="0.58" stroke-width="1.25"/>
<rect x="1355.5" y="183.0" width="7.8" height="9.6" fill="#ffff00" fill-opacity="0.75" stroke="#000" stroke-opacity="0.58" stroke-width="1.25"/>
<path d="M1354.1 182.7L1364.7 182.7L1359.4 194.8Z" fill="#ffff00" fill-opacity="0.75" stroke="#000" stroke-opacity="0.58" stroke-width="1.25"/>
<ellipse cx="1359.4" cy="205.5" rx="5.0" ry="6.05" fill="#ffff00" fill-opacity="0.75" stroke="#000" stroke-opacity="0.58" stroke-width="1.25"/>
<rect x="1368.7" y="195.0" width="7.8" height="9.6" fill="#ffff00" fill-opacity="0.75" stroke="#000" stroke-opacity="0.58" stroke-width="1.25"/>
<rect x="1381.8" y="198.2" width="7.8" height="9.6" fill="#ffff00" fill-opacity="0.75" stroke="#000" stroke-opacity="0.58" stroke-width="1.25"/>
<path d="M1380.4 232.6L1391.0 232.6L1385.7 244.7Z" fill="#ffff00" fill-opacity="0.75" stroke="#000" stroke-opacity="0.58" stroke-width="1.25"/>
<path d="M1393.5 213.3L1404.1 213.3L1398.8 225.4Z" fill="#ffff00" fill-opacity="0.75" stroke="#000" stroke-opacity="0.58" stroke-width="1.25"/>
<ellipse cx="1411.9" cy="190.2" rx="5.0" ry="6.05" fill="#ffff00" fill-opacity="0.75" stroke="#000" stroke-opacity="0.58" stroke-width="1.25"/>
<rect x="1408.0" y="195.0" width="7.8" height="9.6" fill="#ffff00" fill-opacity="0.75" stroke="#000" stroke-opacity="0.58" stroke-width="1.25"/>
<path d="M1406.6 243.9L1417.2 243.9L1411.9 256.0Z" fill="#ffff00" fill-opacity="0.75" stroke="#000" stroke-opacity="0.58" stroke-width="1.25"/>
<path d="M1425.1 168.2L1430.3 176.5L1425.1 184.8L1419.9 176.5Z" fill="#ffff00" fill-opacity="0.75" stroke="#000" stroke-opacity="0.58" stroke-width="1.25"/>
<rect x="1421.2" y="196.6" width="7.8" height="9.6" fill="#ffff00" fill-opacity="0.75" stroke="#000" stroke-opacity="0.58" stroke-width="1.25"/>
<path d="M1421.3 204.9L1431.5 212.0L1421.3 219.1Z" fill="#ffff00" fill-opacity="0.75" stroke="#000" stroke-opacity="0.58" stroke-width="1.25"/>
<ellipse cx="1425.1" cy="220.7" rx="5.0" ry="6.05" fill="#ffff00" fill-opacity="0.75" stroke="#000" stroke-opacity="0.58" stroke-width="1.25"/>
<path d="M1438.2 165.8L1443.4 174.1L1438.2 182.4L1433.0 174.1Z" fill="#ffff00" fill-opacity="0.75" stroke="#000" stroke-opacity="0.58" stroke-width="1.25"/>
<rect x="1434.3" y="210.3" width="7.8" height="9.6" fill="#ffff00" fill-opacity="0.75" stroke="#000" stroke-opacity="0.58" stroke-width="1.25"/>
<path d="M1434.4 206.9L1444.6 214.0L1434.4 221.1Z" fill="#ffff00" fill-opacity="0.75" stroke="#000" stroke-opacity="0.58" stroke-width="1.25"/>
<rect x="1447.4" y="224.8" width="7.8" height="9.6" fill="#ffff00" fill-opacity="0.75" stroke="#000" stroke-opacity="0.58" stroke-width="1.25"/>
<rect x="80.7" y="291.9" width="7.8" height="9.6" fill="#00ff00" fill-opacity="0.75" stroke="#000" stroke-opacity="0.58" stroke-width="1.25"/>
<rect x="93.9" y="303.1" width="7.8" height="9.6" fill="#00ff00" fill-opacity="0.75" stroke="#000" stroke-opacity="0.58" stroke-width="1.25"/>
<ellipse cx="111.0" cy="255.4" rx="5.0" ry="6.05" fill="#00ff00" fill-opacity="0.75" stroke="#000" stroke-opacity="0.58" stroke-width="1.25"/>
<rect x="120.3" y="260.8" width="7.8" height="9.6" fill="#00ff00" fill-opacity="0.75" stroke="#000" stroke-opacity="0.58" stroke-width="1.25"/>
<rect x="133.4" y="284.1" width="7.8" height="9.6" fill="#00ff00" fill-opacity="0.75" stroke="#000" stroke-opacity="0.58" stroke-width="1.25"/>
<path d="M150.5 336.6L155.7 344.9L150.5 353.2L145.3 344.9Z" fill="#00ff00" fill-opacity="0.75" stroke="#000" stroke-opacity="0.58" stroke-width="1.25"/>
<rect x="159.8" y="272.1" width="7.8" height="9.6" fill="#00ff00" fill-opacity="0.75" stroke="#000" stroke-opacity="0.58" stroke-width="1.25"/>
<path d="M159.9 284.2L170.1 291.3L159.9 298.4Z" fill="#00ff00" fill-opacity="0.75" stroke="#000" stroke-opacity="0.58" stroke-width="1.25"/>
<path d="M163.7 347.4L168.9 355.7L163.7 364.0L158.5 355.7Z" fill="#00ff00" fill-opacity="0.75" stroke="#000" stroke-opacity="0.58" stroke-width="1.25"/>
<ellipse cx="176.9" cy="243.9" rx="5.0" ry="6.05" fill="#00ff00" fill-opacity="0.75" stroke="#000" stroke-opacity="0.58" stroke-width="1.25"/>
<rect x="173.0" y="273.3" width="7.8" height="9.6" fill="#00ff00" fill-opacity="0.75" stroke="#000" stroke-opacity="0.58" stroke-width="1.25"/>
<path d="M212.7 256.5L222.9 263.6L212.7 270.7Z" fill="#00ff00" fill-opacity="0.75" stroke="#000" stroke-opacity="0.58" stroke-width="1.25"/>
<path d="M225.9 261.3L236.1 268.4L225.9 275.5Z" fill="#00ff00" fill-opacity="0.75" stroke="#000" stroke-opacity="0.58" stroke-width="1.25"/>
<path d="M229.7 273.2L234.9 281.5L229.7 289.8L224.5 281.5Z" fill="#00ff00" fill-opacity="0.75" stroke="#000" stroke-opacity="0.58" stroke-width="1.25"/>
<ellipse cx="242.8" cy="267.0" rx="5.0" ry="6.05" fill="#00ff00" fill-opacity="0.75" stroke="#000" stroke-opacity="0.58" stroke-width="1.25"/>
<rect x="252.1" y="268.9" width="7.8" height="9.6" fill="#00ff00" fill-opacity="0.75" stroke="#000" stroke-opacity="0.58" stroke-width="1.25"/>
<rect x="265.3" y="276.4" width="7.8" height="9.6" fill="#00ff00" fill-opacity="0.75" stroke="#000" stroke-opacity="0.58" stroke-width="1.25"/>
<rect x="291.7" y="284.1" width="7.8" height="9.6" fill="#00ff00" fill-opacity="0.75" stroke="#000" stroke-opacity="0.58" stroke-width="1.25"/>
<ellipse cx="308.8" cy="259.5" rx="5.0" ry="6.05" fill="#00ff00" fill-opacity="0.75" stroke="#000" stroke-opacity="0.58" stroke-width="1.25"/>
<path d="M305.0 266.0L315.2 273.1L305.0 280.2Z" fill="#00ff00" fill-opacity="0.75" stroke="#000" stroke-opacity="0.58" stroke-width="1.25"/>
<rect x="304.9" y="274.7" width="7.8" height="9.6" fill="#00ff00" fill-opacity="0.75" stroke="#000" stroke-opacity="0.58" stroke-width="1.25"/>
<path d="M318.2 268.1L328.4 275.2L318.2 282.3Z" fill="#00ff00" fill-opacity="0.75" stroke="#000" stroke-opacity="0.58" stroke-width="1.25"/>
<rect x="318.1" y="282.7" width="7.8" height="9.6" fill="#00ff00" fill-opacity="0.75" stroke="#000" stroke-opacity="0.58" stroke-width="1.25"/>
<path d="M322.0 328.8L327.2 337.1L322.0 345.4L316.8 337.1Z" fill="#00ff00" fill-opacity="0.75" stroke="#000" stroke-opacity="0.58" stroke-width="1.25"/>
<rect x="331.3" y="273.4" width="7.8" height="9.6" fill="#00ff00" fill-opacity="0.75" stroke="#000" stroke-opacity="0.58" stroke-width="1.25"/>
<path d="M335.2 330.2L340.4 338.5L335.2 346.8L330.0 338.5Z" fill="#00ff00" fill-opacity="0.75" stroke="#000" stroke-opacity="0.58" stroke-width="1.25"/>
<rect x="344.4" y="282.7" width="7.8" height="9.6" fill="#00ff00" fill-opacity="0.75" stroke="#000" stroke-opacity="0.58" stroke-width="1.25"/>
<rect x="357.6" y="288.8" width="7.8" height="9.6" fill="#00ff00" fill-opacity="0.75" stroke="#000" stroke-opacity="0.58" stroke-width="1.25"/>
<path d="M369.4 238.8L380.0 238.8L374.7 250.9Z" fill="#00ff00" fill-opacity="0.75" stroke="#000" stroke-opacity="0.58" stroke-width="1.25"/>
<ellipse cx="374.7" cy="254.1" rx="5.0" ry="6.05" fill="#00ff00" fill-opacity="0.75" stroke="#000" stroke-opacity="0.58" stroke-width="1.25"/>
<rect x="370.8" y="288.8" width="7.8" height="9.6" fill="#00ff00" fill-opacity="0.75" stroke="#000" stroke-opacity="0.58" stroke-width="1.25"/>
<path d="M382.6 234.0L393.2 234.0L387.9 246.1Z" fill="#00ff00" fill-opacity="0.75" stroke="#000" stroke-opacity="0.58" stroke-width="1.25"/>
<ellipse cx="387.9" cy="269.0" rx="5.0" ry="6.05" fill="#00ff00" fill-opacity="0.75" stroke="#000" stroke-opacity="0.58" stroke-width="1.25"/>
<rect x="384.0" y="275.5" width="7.8" height="9.6" fill="#00ff00" fill-opacity="0.75" stroke="#000" stroke-opacity="0.58" stroke-width="1.25"/>
<rect x="384.0" y="278.9" width="7.8" height="9.6" fill="#00ff00" fill-opacity="0.75" stroke="#000" stroke-opacity="0.58" stroke-width="1.25"/>
<path d="M387.9 319.2L393.1 327.5L387.9 335.8L382.7 327.5Z" fill="#00ff00" fill-opacity="0.75" stroke="#000" stroke-opacity="0.58" stroke-width="1.25"/>
<path d="M395.8 247.6L406.4 247.6L401.1 259.7Z" fill="#00ff00" fill-opacity="0.75" stroke="#000" stroke-opacity="0.58" stroke-width="1.25"/>
<rect x="397.2" y="284.4" width="7.8" height="9.6" fill="#00ff00" fill-opacity="0.75" stroke="#000" stroke-opacity="0.58" stroke-width="1.25"/>
<path d="M401.1 319.2L406.3 327.5L401.1 335.8L395.9 327.5Z" fill="#00ff00" fill-opacity="0.75" stroke="#000" stroke-opacity="0.58" stroke-width="1.25"/>
<path d="M409.0 249.7L419.6 249.7L414.3 261.8Z" fill="#00ff00" fill-opacity="0.75" stroke="#000" stroke-opacity="0.58" stroke-width="1.25"/>
<rect x="410.4" y="295.1" width="7.8" height="9.6" fill="#00ff00" fill-opacity="0.75" stroke="#000" stroke-opacity="0.58" stroke-width="1.25"/>
<path d="M422.2 252.4L432.8 252.4L427.5 264.5Z" fill="#00ff00" fill-opacity="0.75" stroke="#000" stroke-opacity="0.58" stroke-width="1.25"/>
<rect x="423.6" y="288.8" width="7.8" height="9.6" fill="#00ff00" fill-opacity="0.75" stroke="#000" stroke-opacity="0.58" stroke-width="1.25"/>
<path d="M435.3 243.6L445.9 243.6L440.6 255.7Z" fill="#00ff00" fill-opacity="0.75" stroke="#000" stroke-opacity="0.58" stroke-width="1.25"/>
<rect x="436.7" y="288.8" width="7.8" height="9.6" fill="#00ff00" fill-opacity="0.75" stroke="#000" stroke-opacity="0.58" stroke-width="1.25"/>
<ellipse cx="453.8" cy="242.6" rx="5.0" ry="6.05" fill="#00ff00" fill-opacity="0.75" stroke="#000" stroke-opacity="0.58" stroke-width="1.25"/>
<path d="M448.5 248.0L459.1 248.0L453.8 260.1Z" fill="#00ff00" fill-opacity="0.75" stroke="#000" stroke-opacity="0.58" stroke-width="1.25"/>
<rect x="449.9" y="287.1" width="7.8" height="9.6" fill="#00ff00" fill-opacity="0.75" stroke="#000" stroke-opacity="0.58" stroke-width="1.25"/>
<ellipse cx="467.0" cy="243.2" rx="5.0" ry="6.05" fill="#00ff00" fill-opacity="0.75" stroke="#000" stroke-opacity="0.58" stroke-width="1.25"/>
<path d="M461.7 247.0L472.3 247.0L467.0 259.1Z" fill="#00ff00" fill-opacity="0.75" stroke="#000" stroke-opacity="0.58" stroke-width="1.25"/>
<path d="M463.2 259.3L473.4 266.4L463.2 273.5Z" fill="#00ff00" fill-opacity="0.75" stroke="#000" stroke-opacity="0.58" stroke-width="1.25"/>
<rect x="463.1" y="281.0" width="7.8" height="9.6" fill="#00ff00" fill-opacity="0.75" stroke="#000" stroke-opacity="0.58" stroke-width="1.25"/>
<path d="M467.0 291.8L472.2 300.1L467.0 308.4L461.8 300.1Z" fill="#00ff00" fill-opacity="0.75" stroke="#000" stroke-opacity="0.58" stroke-width="1.25"/>
<path d="M474.9 251.7L485.5 251.7L480.2 263.8Z" fill="#00ff00" fill-opacity="0.75" stroke="#000" stroke-opacity="0.58" stroke-width="1.25"/>
<path d="M476.4 251.1L486.6 258.2L476.4 265.3Z" fill="#00ff00" fill-opacity="0.75" stroke="#000" stroke-opacity="0.58" stroke-width="1.25"/>
<rect x="476.3" y="285.8" width="7.8" height="9.6" fill="#00ff00" fill-opacity="0.75" stroke="#000" stroke-opacity="0.58" stroke-width="1.25"/>
<path d="M480.2 286.4L485.4 294.7L480.2 303.0L475.0 294.7Z" fill="#00ff00" fill-opacity="0.75" stroke="#000" stroke-opacity="0.58" stroke-width="1.25"/>
<path d="M488.1 247.0L498.7 247.0L493.4 259.1Z" fill="#00ff00" fill-opacity="0.75" stroke="#000" stroke-opacity="0.58" stroke-width="1.25"/>
<rect x="489.5" y="290.5" width="7.8" height="9.6" fill="#00ff00" fill-opacity="0.75" stroke="#000" stroke-opacity="0.58" stroke-width="1.25"/>
<path d="M501.3 255.1L511.9 255.1L506.6 267.2Z" fill="#00ff00" fill-opacity="0.75" stroke="#000" stroke-opacity="0.58" stroke-width="1.25"/>
<rect x="502.7" y="290.5" width="7.8" height="9.6" fill="#00ff00" fill-opacity="0.75" stroke="#000" stroke-opacity="0.58" stroke-width="1.25"/>
<path d="M514.5 253.1L525.1 253.1L519.8 265.2Z" fill="#00ff00" fill-opacity="0.75" stroke="#000" stroke-opacity="0.58" stroke-width="1.25"/>
<rect x="515.9" y="296.0" width="7.8" height="9.6" fill="#00ff00" fill-opacity="0.75" stroke="#000" stroke-opacity="0.58" stroke-width="1.25"/>
<path d="M527.7 248.3L538.3 248.3L533.0 260.4Z" fill="#00ff00" fill-opacity="0.75" stroke="#000" stroke-opacity="0.58" stroke-width="1.25"/>
<rect x="529.1" y="291.9" width="7.8" height="9.6" fill="#00ff00" fill-opacity="0.75" stroke="#000" stroke-opacity="0.58" stroke-width="1.25"/>
<path d="M540.8 255.1L551.4 255.1L546.1 267.2Z" fill="#00ff00" fill-opacity="0.75" stroke="#000" stroke-opacity="0.58" stroke-width="1.25"/>
<rect x="542.2" y="288.2" width="7.8" height="9.6" fill="#00ff00" fill-opacity="0.75" stroke="#000" stroke-opacity="0.58" stroke-width="1.25"/>
<path d="M555.5 243.6L565.7 250.7L555.5 257.8Z" fill="#00ff00" fill-opacity="0.75" stroke="#000" stroke-opacity="0.58" stroke-width="1.25"/>
<path d="M554.0 253.1L564.6 253.1L559.3 265.2Z" fill="#00ff00" fill-opacity="0.75" stroke="#000" stroke-opacity="0.58" stroke-width="1.25"/>
<path d="M559.3 285.7L564.5 294.0L559.3 302.3L554.1 294.0Z" fill="#00ff00" fill-opacity="0.75" stroke="#000" stroke-opacity="0.58" stroke-width="1.25"/>
<ellipse cx="559.3" cy="294.0" rx="5.0" ry="6.05" fill="#00ff00" fill-opacity="0.75" stroke="#000" stroke-opacity="0.58" stroke-width="1.25"/>
<rect x="555.4" y="288.2" width="7.8" height="9.6" fill="#00ff00" fill-opacity="0.75" stroke="#000" stroke-opacity="0.58" stroke-width="1.25"/>
<path d="M567.2 248.3L577.8 248.3L572.5 260.4Z" fill="#00ff00" fill-opacity="0.75" stroke="#000" stroke-opacity="0.58" stroke-width="1.25"/>
<rect x="568.6" y="283.0" width="7.8" height="9.6" fill="#00ff00" fill-opacity="0.75" stroke="#000" stroke-opacity="0.58" stroke-width="1.25"/>
<path d="M572.5 285.7L577.7 294.0L572.5 302.3L567.3 294.0Z" fill="#00ff00" fill-opacity="0.75" stroke="#000" stroke-opacity="0.58" stroke-width="1.25"/>
<path d="M580.4 242.6L591.0 242.6L585.7 254.7Z" fill="#00ff00" fill-opacity="0.75" stroke="#000" stroke-opacity="0.58" stroke-width="1.25"/>
<rect x="581.8" y="283.0" width="7.8" height="9.6" fill="#00ff00" fill-opacity="0.75" stroke="#000" stroke-opacity="0.58" stroke-width="1.25"/>
<rect x="581.8" y="287.8" width="7.8" height="9.6" fill="#00ff00" fill-opacity="0.75" stroke="#000" stroke-opacity="0.58" stroke-width="1.25"/>
<rect x="595.0" y="284.1" width="7.8" height="9.6" fill="#00ff00" fill-opacity="0.75" stroke="#000" stroke-opacity="0.58" stroke-width="1.25"/>
<rect x="595.0" y="307.7" width="7.8" height="9.6" fill="#00ff00" fill-opacity="0.75" stroke="#000" stroke-opacity="0.58" stroke-width="1.25"/>
<path d="M606.8 251.0L617.4 251.0L612.1 263.1Z" fill="#00ff00" fill-opacity="0.75" stroke="#000" stroke-opacity="0.58" stroke-width="1.25"/>
<rect x="608.2" y="289.2" width="7.8" height="9.6" fill="#00ff00" fill-opacity="0.75" stroke="#000" stroke-opacity="0.58" stroke-width="1.25"/>
<rect x="621.4" y="281.0" width="7.8" height="9.6" fill="#00ff00" fill-opacity="0.75" stroke="#000" stroke-opacity="0.58" stroke-width="1.25"/>
<path d="M633.2 247.0L643.8 247.0L638.5 259.1Z" fill="#00ff00" fill-opacity="0.75" stroke="#000" stroke-opacity="0.58" stroke-width="1.25"/>
<rect x="634.6" y="288.8" width="7.8" height="9.6" fill="#00ff00" fill-opacity="0.75" stroke="#000" stroke-opacity="0.58" stroke-width="1.25"/>
<ellipse cx="651.6" cy="241.2" rx="5.0" ry="6.05" fill="#00ff00" fill-opacity="0.75" stroke="#000" stroke-opacity="0.58" stroke-width="1.25"/>
<path d="M646.3 244.9L656.9 244.9L651.6 257.0Z" fill="#00ff00" fill-opacity="0.75" stroke="#000" stroke-opacity="0.58" stroke-width="1.25"/>
<rect x="647.7" y="281.0" width="7.8" height="9.6" fill="#00ff00" fill-opacity="0.75" stroke="#000" stroke-opacity="0.58" stroke-width="1.25"/>
<ellipse cx="664.8" cy="237.8" rx="5.0" ry="6.05" fill="#00ff00" fill-opacity="0.75" stroke="#000" stroke-opacity="0.58" stroke-width="1.25"/>
<path d="M661.0 240.2L671.2 247.3L661.0 254.4Z" fill="#00ff00" fill-opacity="0.75" stroke="#000" stroke-opacity="0.58" stroke-width="1.25"/>
<path d="M659.5 253.1L670.1 253.1L664.8 265.2Z" fill="#00ff00" fill-opacity="0.75" stroke="#000" stroke-opacity="0.58" stroke-width="1.25"/>
<path d="M664.8 263.5L670.0 271.8L664.8 280.1L659.6 271.8Z" fill="#00ff00" fill-opacity="0.75" stroke="#000" stroke-opacity="0.58" stroke-width="1.25"/>
<rect x="660.9" y="279.6" width="7.8" height="9.6" fill="#00ff00" fill-opacity="0.75" stroke="#000" stroke-opacity="0.58" stroke-width="1.25"/>
<path d="M674.2 236.9L684.4 244.0L674.2 251.1Z" fill="#00ff00" fill-opacity="0.75" stroke="#000" stroke-opacity="0.58" stroke-width="1.25"/>
<path d="M672.7 248.3L683.3 248.3L678.0 260.4Z" fill="#00ff00" fill-opacity="0.75" stroke="#000" stroke-opacity="0.58" stroke-width="1.25"/>
<rect x="674.1" y="249.3" width="7.8" height="9.6" fill="#00ff00" fill-opacity="0.75" stroke="#000" stroke-opacity="0.58" stroke-width="1.25"/>
<path d="M678.0 272.6L683.2 280.9L678.0 289.2L672.8 280.9Z" fill="#00ff00" fill-opacity="0.75" stroke="#000" stroke-opacity="0.58" stroke-width="1.25"/>
<rect x="687.3" y="220.1" width="7.8" height="9.6" fill="#00ff00" fill-opacity="0.75" stroke="#000" stroke-opacity="0.58" stroke-width="1.25"/>
<rect x="843.7" y="629.8" width="7.8" height="9.6" fill="#00ff00" fill-opacity="0.75" stroke="#000" stroke-opacity="0.58" stroke-width="1.25"/>
<rect x="856.8" y="635.8" width="7.8" height="9.6" fill="#00ff00" fill-opacity="0.75" stroke="#000" stroke-opacity="0.58" stroke-width="1.25"/>
<ellipse cx="873.8" cy="593.6" rx="5.0" ry="6.05" fill="#00ff00" fill-opacity="0.75" stroke="#000" stroke-opacity="0.58" stroke-width="1.25"/>
<rect x="883.1" y="611.4" width="7.8" height="9.6" fill="#00ff00" fill-opacity="0.75" stroke="#000" stroke-opacity="0.58" stroke-width="1.25"/>
<path d="M896.3 554.9L906.5 562.0L896.3 569.1Z" fill="#00ff00" fill-opacity="0.75" stroke="#000" stroke-opacity="0.58" stroke-width="1.25"/>
<rect x="896.2" y="620.8" width="7.8" height="9.6" fill="#00ff00" fill-opacity="0.75" stroke="#000" stroke-opacity="0.58" stroke-width="1.25"/>
<path d="M913.2 610.6L918.4 618.9L913.2 627.2L908.0 618.9Z" fill="#00ff00" fill-opacity="0.75" stroke="#000" stroke-opacity="0.58" stroke-width="1.25"/>
<path d="M922.5 601.3L932.7 608.4L922.5 615.5Z" fill="#00ff00" fill-opacity="0.75" stroke="#000" stroke-opacity="0.58" stroke-width="1.25"/>
<rect x="922.4" y="609.9" width="7.8" height="9.6" fill="#00ff00" fill-opacity="0.75" stroke="#000" stroke-opacity="0.58" stroke-width="1.25"/>
<path d="M926.3 620.0L931.5 628.3L926.3 636.6L921.1 628.3Z" fill="#00ff00" fill-opacity="0.75" stroke="#000" stroke-opacity="0.58" stroke-width="1.25"/>
<ellipse cx="939.5" cy="595.4" rx="5.0" ry="6.05" fill="#00ff00" fill-opacity="0.75" stroke="#000" stroke-opacity="0.58" stroke-width="1.25"/>
<rect x="935.6" y="614.1" width="7.8" height="9.6" fill="#00ff00" fill-opacity="0.75" stroke="#000" stroke-opacity="0.58" stroke-width="1.25"/>
<path d="M975.0 590.9L985.2 598.0L975.0 605.1Z" fill="#00ff00" fill-opacity="0.75" stroke="#000" stroke-opacity="0.58" stroke-width="1.25"/>
<path d="M992.0 553.7L997.2 562.0L992.0 570.3L986.8 562.0Z" fill="#00ff00" fill-opacity="0.75" stroke="#000" stroke-opacity="0.58" stroke-width="1.25"/>
<path d="M988.2 586.0L998.4 593.1L988.2 600.2Z" fill="#00ff00" fill-opacity="0.75" stroke="#000" stroke-opacity="0.58" stroke-width="1.25"/>
<ellipse cx="1005.1" cy="602.1" rx="5.0" ry="6.05" fill="#00ff00" fill-opacity="0.75" stroke="#000" stroke-opacity="0.58" stroke-width="1.25"/>
<rect x="1014.3" y="617.7" width="7.8" height="9.6" fill="#00ff00" fill-opacity="0.75" stroke="#000" stroke-opacity="0.58" stroke-width="1.25"/>
<rect x="1027.4" y="620.8" width="7.8" height="9.6" fill="#00ff00" fill-opacity="0.75" stroke="#000" stroke-opacity="0.58" stroke-width="1.25"/>
<rect x="1053.7" y="632.5" width="7.8" height="9.6" fill="#00ff00" fill-opacity="0.75" stroke="#000" stroke-opacity="0.58" stroke-width="1.25"/>
<ellipse cx="1070.7" cy="576.8" rx="5.0" ry="6.05" fill="#00ff00" fill-opacity="0.75" stroke="#000" stroke-opacity="0.58" stroke-width="1.25"/>
<path d="M1066.9 590.9L1077.1 598.0L1066.9 605.1Z" fill="#00ff00" fill-opacity="0.75" stroke="#000" stroke-opacity="0.58" stroke-width="1.25"/>
<rect x="1066.8" y="622.0" width="7.8" height="9.6" fill="#00ff00" fill-opacity="0.75" stroke="#000" stroke-opacity="0.58" stroke-width="1.25"/>
<path d="M1080.0 596.8L1090.2 603.9L1080.0 611.0Z" fill="#00ff00" fill-opacity="0.75" stroke="#000" stroke-opacity="0.58" stroke-width="1.25"/>
<rect x="1079.9" y="619.9" width="7.8" height="9.6" fill="#00ff00" fill-opacity="0.75" stroke="#000" stroke-opacity="0.58" stroke-width="1.25"/>
<path d="M1083.8 626.3L1089.0 634.6L1083.8 642.9L1078.6 634.6Z" fill="#00ff00" fill-opacity="0.75" stroke="#000" stroke-opacity="0.58" stroke-width="1.25"/>
<rect x="1093.1" y="618.8" width="7.8" height="9.6" fill="#00ff00" fill-opacity="0.75" stroke="#000" stroke-opacity="0.58" stroke-width="1.25"/>
<path d="M1097.0 623.4L1102.2 631.7L1097.0 640.0L1091.8 631.7Z" fill="#00ff00" fill-opacity="0.75" stroke="#000" stroke-opacity="0.58" stroke-width="1.25"/>
<rect x="1106.2" y="626.9" width="7.8" height="9.6" fill="#00ff00" fill-opacity="0.75" stroke="#000" stroke-opacity="0.58" stroke-width="1.25"/>
<rect x="1119.3" y="635.7" width="7.8" height="9.6" fill="#00ff00" fill-opacity="0.75" stroke="#000" stroke-opacity="0.58" stroke-width="1.25"/>
<path d="M1131.0 538.3L1141.6 538.3L1136.3 550.4Z" fill="#00ff00" fill-opacity="0.75" stroke="#000" stroke-opacity="0.58" stroke-width="1.25"/>
<ellipse cx="1136.3" cy="602.7" rx="5.0" ry="6.05" fill="#00ff00" fill-opacity="0.75" stroke="#000" stroke-opacity="0.58" stroke-width="1.25"/>
<rect x="1132.4" y="631.7" width="7.8" height="9.6" fill="#00ff00" fill-opacity="0.75" stroke="#000" stroke-opacity="0.58" stroke-width="1.25"/>
<path d="M1144.2 583.3L1154.8 583.3L1149.5 595.4Z" fill="#00ff00" fill-opacity="0.75" stroke="#000" stroke-opacity="0.58" stroke-width="1.25"/>
<ellipse cx="1149.5" cy="607.6" rx="5.0" ry="6.05" fill="#00ff00" fill-opacity="0.75" stroke="#000" stroke-opacity="0.58" stroke-width="1.25"/>
<ellipse cx="1149.5" cy="614.0" rx="5.0" ry="6.05" fill="#00ff00" fill-opacity="0.75" stroke="#000" stroke-opacity="0.58" stroke-width="1.25"/>
<rect x="1145.6" y="618.0" width="7.8" height="9.6" fill="#00ff00" fill-opacity="0.75" stroke="#000" stroke-opacity="0.58" stroke-width="1.25"/>
<path d="M1149.5 628.2L1154.7 636.5L1149.5 644.8L1144.3 636.5Z" fill="#00ff00" fill-opacity="0.75" stroke="#000" stroke-opacity="0.58" stroke-width="1.25"/>
<path d="M1157.3 588.1L1167.9 588.1L1162.6 600.2Z" fill="#00ff00" fill-opacity="0.75" stroke="#000" stroke-opacity="0.58" stroke-width="1.25"/>
<rect x="1158.7" y="620.4" width="7.8" height="9.6" fill="#00ff00" fill-opacity="0.75" stroke="#000" stroke-opacity="0.58" stroke-width="1.25"/>
<path d="M1162.6 629.8L1167.8 638.1L1162.6 646.4L1157.4 638.1Z" fill="#00ff00" fill-opacity="0.75" stroke="#000" stroke-opacity="0.58" stroke-width="1.25"/>
<path d="M1170.4 584.1L1181.0 584.1L1175.7 596.2Z" fill="#00ff00" fill-opacity="0.75" stroke="#000" stroke-opacity="0.58" stroke-width="1.25"/>
<rect x="1171.8" y="633.3" width="7.8" height="9.6" fill="#00ff00" fill-opacity="0.75" stroke="#000" stroke-opacity="0.58" stroke-width="1.25"/>
<path d="M1183.5 584.1L1194.1 584.1L1188.8 596.2Z" fill="#00ff00" fill-opacity="0.75" stroke="#000" stroke-opacity="0.58" stroke-width="1.25"/>
<rect x="1184.9" y="623.7" width="7.8" height="9.6" fill="#00ff00" fill-opacity="0.75" stroke="#000" stroke-opacity="0.58" stroke-width="1.25"/>
<path d="M1196.6 578.5L1207.2 578.5L1201.9 590.6Z" fill="#00ff00" fill-opacity="0.75" stroke="#000" stroke-opacity="0.58" stroke-width="1.25"/>
<rect x="1198.0" y="620.4" width="7.8" height="9.6" fill="#00ff00" fill-opacity="0.75" stroke="#000" stroke-opacity="0.58" stroke-width="1.25"/>
<path d="M1209.8 576.1L1220.4 576.1L1215.1 588.2Z" fill="#00ff00" fill-opacity="0.75" stroke="#000" stroke-opacity="0.58" stroke-width="1.25"/>
<ellipse cx="1215.1" cy="590.7" rx="5.0" ry="6.05" fill="#00ff00" fill-opacity="0.75" stroke="#000" stroke-opacity="0.58" stroke-width="1.25"/>
<rect x="1211.2" y="618.8" width="7.8" height="9.6" fill="#00ff00" fill-opacity="0.75" stroke="#000" stroke-opacity="0.58" stroke-width="1.25"/>
<path d="M1222.9 581.7L1233.5 581.7L1228.2 593.8Z" fill="#00ff00" fill-opacity="0.75" stroke="#000" stroke-opacity="0.58" stroke-width="1.25"/>
<ellipse cx="1228.2" cy="593.9" rx="5.0" ry="6.05" fill="#00ff00" fill-opacity="0.75" stroke="#000" stroke-opacity="0.58" stroke-width="1.25"/>
<ellipse cx="1228.2" cy="603.5" rx="5.0" ry="6.05" fill="#00ff00" fill-opacity="0.75" stroke="#000" stroke-opacity="0.58" stroke-width="1.25"/>
<path d="M1224.4 604.5L1234.6 611.6L1224.4 618.7Z" fill="#00ff00" fill-opacity="0.75" stroke="#000" stroke-opacity="0.58" stroke-width="1.25"/>
<rect x="1224.3" y="620.4" width="7.8" height="9.6" fill="#00ff00" fill-opacity="0.75" stroke="#000" stroke-opacity="0.58" stroke-width="1.25"/>
<path d="M1228.2 622.6L1233.4 630.9L1228.2 639.2L1223.0 630.9Z" fill="#00ff00" fill-opacity="0.75" stroke="#000" stroke-opacity="0.58" stroke-width="1.25"/>
<path d="M1236.0 586.5L1246.6 586.5L1241.3 598.6Z" fill="#00ff00" fill-opacity="0.75" stroke="#000" stroke-opacity="0.58" stroke-width="1.25"/>
<path d="M1237.5 600.5L1247.7 607.6L1237.5 614.7Z" fill="#00ff00" fill-opacity="0.75" stroke="#000" stroke-opacity="0.58" stroke-width="1.25"/>
<rect x="1237.4" y="613.2" width="7.8" height="9.6" fill="#00ff00" fill-opacity="0.75" stroke="#000" stroke-opacity="0.58" stroke-width="1.25"/>
<path d="M1241.3 616.1L1246.5 624.4L1241.3 632.7L1236.1 624.4Z" fill="#00ff00" fill-opacity="0.75" stroke="#000" stroke-opacity="0.58" stroke-width="1.25"/>
<path d="M1249.1 584.9L1259.7 584.9L1254.4 597.0Z" fill="#00ff00" fill-opacity="0.75" stroke="#000" stroke-opacity="0.58" stroke-width="1.25"/>
<rect x="1250.5" y="610.0" width="7.8" height="9.6" fill="#00ff00" fill-opacity="0.75" stroke="#000" stroke-opacity="0.58" stroke-width="1.25"/>
<path d="M1262.3 584.9L1272.9 584.9L1267.6 597.0Z" fill="#00ff00" fill-opacity="0.75" stroke="#000" stroke-opacity="0.58" stroke-width="1.25"/>
<rect x="1263.7" y="615.6" width="7.8" height="9.6" fill="#00ff00" fill-opacity="0.75" stroke="#000" stroke-opacity="0.58" stroke-width="1.25"/>
<ellipse cx="1280.7" cy="585.1" rx="5.0" ry="6.05" fill="#00ff00" fill-opacity="0.75" stroke="#000" stroke-opacity="0.58" stroke-width="1.25"/>
<path d="M1275.4 584.9L1286.0 584.9L1280.7 597.0Z" fill="#00ff00" fill-opacity="0.75" stroke="#000" stroke-opacity="0.58" stroke-width="1.25"/>
<rect x="1276.8" y="618.8" width="7.8" height="9.6" fill="#00ff00" fill-opacity="0.75" stroke="#000" stroke-opacity="0.58" stroke-width="1.25"/>
<path d="M1288.5 580.1L1299.1 580.1L1293.8 592.2Z" fill="#00ff00" fill-opacity="0.75" stroke="#000" stroke-opacity="0.58" stroke-width="1.25"/>
<ellipse cx="1293.8" cy="585.9" rx="5.0" ry="6.05" fill="#00ff00" fill-opacity="0.75" stroke="#000" stroke-opacity="0.58" stroke-width="1.25"/>
<rect x="1289.9" y="616.4" width="7.8" height="9.6" fill="#00ff00" fill-opacity="0.75" stroke="#000" stroke-opacity="0.58" stroke-width="1.25"/>
<path d="M1301.6 580.1L1312.2 580.1L1306.9 592.2Z" fill="#00ff00" fill-opacity="0.75" stroke="#000" stroke-opacity="0.58" stroke-width="1.25"/>
<rect x="1303.0" y="611.3" width="7.8" height="9.6" fill="#00ff00" fill-opacity="0.75" stroke="#000" stroke-opacity="0.58" stroke-width="1.25"/>
<path d="M1314.8 581.7L1325.4 581.7L1320.1 593.8Z" fill="#00ff00" fill-opacity="0.75" stroke="#000" stroke-opacity="0.58" stroke-width="1.25"/>
<path d="M1316.3 594.0L1326.5 601.1L1316.3 608.2Z" fill="#00ff00" fill-opacity="0.75" stroke="#000" stroke-opacity="0.58" stroke-width="1.25"/>
<rect x="1316.2" y="612.4" width="7.8" height="9.6" fill="#00ff00" fill-opacity="0.75" stroke="#000" stroke-opacity="0.58" stroke-width="1.25"/>
<path d="M1320.1 617.7L1325.3 626.0L1320.1 634.3L1314.9 626.0Z" fill="#00ff00" fill-opacity="0.75" stroke="#000" stroke-opacity="0.58" stroke-width="1.25"/>
<path d="M1327.9 574.4L1338.5 574.4L1333.2 586.5Z" fill="#00ff00" fill-opacity="0.75" stroke="#000" stroke-opacity="0.58" stroke-width="1.25"/>
<path d="M1329.4 586.8L1339.6 593.9L1329.4 601.0Z" fill="#00ff00" fill-opacity="0.75" stroke="#000" stroke-opacity="0.58" stroke-width="1.25"/>
<rect x="1329.3" y="609.2" width="7.8" height="9.6" fill="#00ff00" fill-opacity="0.75" stroke="#000" stroke-opacity="0.58" stroke-width="1.25"/>
<path d="M1333.2 618.5L1338.4 626.8L1333.2 635.1L1328.0 626.8Z" fill="#00ff00" fill-opacity="0.75" stroke="#000" stroke-opacity="0.58" stroke-width="1.25"/>
<path d="M1341.0 574.4L1351.6 574.4L1346.3 586.5Z" fill="#00ff00" fill-opacity="0.75" stroke="#000" stroke-opacity="0.58" stroke-width="1.25"/>
<ellipse cx="1346.3" cy="585.1" rx="5.0" ry="6.05" fill="#00ff00" fill-opacity="0.75" stroke="#000" stroke-opacity="0.58" stroke-width="1.25"/>
<rect x="1342.4" y="609.2" width="7.8" height="9.6" fill="#00ff00" fill-opacity="0.75" stroke="#000" stroke-opacity="0.58" stroke-width="1.25"/>
<rect x="1342.4" y="613.2" width="7.8" height="9.6" fill="#00ff00" fill-opacity="0.75" stroke="#000" stroke-opacity="0.58" stroke-width="1.25"/>
<path d="M1354.1 568.8L1364.7 568.8L1359.4 580.9Z" fill="#00ff00" fill-opacity="0.75" stroke="#000" stroke-opacity="0.58" stroke-width="1.25"/>
<ellipse cx="1359.4" cy="574.6" rx="5.0" ry="6.05" fill="#00ff00" fill-opacity="0.75" stroke="#000" stroke-opacity="0.58" stroke-width="1.25"/>
<rect x="1355.5" y="610.0" width="7.8" height="9.6" fill="#00ff00" fill-opacity="0.75" stroke="#000" stroke-opacity="0.58" stroke-width="1.25"/>
<rect x="1355.5" y="631.2" width="7.8" height="9.6" fill="#00ff00" fill-opacity="0.75" stroke="#000" stroke-opacity="0.58" stroke-width="1.25"/>
<path d="M1367.3 579.3L1377.9 579.3L1372.6 591.4Z" fill="#00ff00" fill-opacity="0.75" stroke="#000" stroke-opacity="0.58" stroke-width="1.25"/>
<rect x="1368.7" y="614.5" width="7.8" height="9.6" fill="#00ff00" fill-opacity="0.75" stroke="#000" stroke-opacity="0.58" stroke-width="1.25"/>
<path d="M1380.4 552.8L1391.0 552.8L1385.7 564.9Z" fill="#00ff00" fill-opacity="0.75" stroke="#000" stroke-opacity="0.58" stroke-width="1.25"/>
<rect x="1381.8" y="605.2" width="7.8" height="9.6" fill="#00ff00" fill-opacity="0.75" stroke="#000" stroke-opacity="0.58" stroke-width="1.25"/>
<path d="M1393.5 581.7L1404.1 581.7L1398.8 593.8Z" fill="#00ff00" fill-opacity="0.75" stroke="#000" stroke-opacity="0.58" stroke-width="1.25"/>
<rect x="1394.9" y="611.3" width="7.8" height="9.6" fill="#00ff00" fill-opacity="0.75" stroke="#000" stroke-opacity="0.58" stroke-width="1.25"/>
<path d="M1406.6 573.6L1417.2 573.6L1411.9 585.7Z" fill="#00ff00" fill-opacity="0.75" stroke="#000" stroke-opacity="0.58" stroke-width="1.25"/>
<ellipse cx="1411.9" cy="585.1" rx="5.0" ry="6.05" fill="#00ff00" fill-opacity="0.75" stroke="#000" stroke-opacity="0.58" stroke-width="1.25"/>
<rect x="1408.0" y="606.8" width="7.8" height="9.6" fill="#00ff00" fill-opacity="0.75" stroke="#000" stroke-opacity="0.58" stroke-width="1.25"/>
<ellipse cx="1425.1" cy="576.2" rx="5.0" ry="6.05" fill="#00ff00" fill-opacity="0.75" stroke="#000" stroke-opacity="0.58" stroke-width="1.25"/>
<path d="M1419.8 582.5L1430.4 582.5L1425.1 594.6Z" fill="#00ff00" fill-opacity="0.75" stroke="#000" stroke-opacity="0.58" stroke-width="1.25"/>
<path d="M1421.3 578.9L1431.5 586.0L1421.3 593.1Z" fill="#00ff00" fill-opacity="0.75" stroke="#000" stroke-opacity="0.58" stroke-width="1.25"/>
<rect x="1421.2" y="605.2" width="7.8" height="9.6" fill="#00ff00" fill-opacity="0.75" stroke="#000" stroke-opacity="0.58" stroke-width="1.25"/>
<path d="M1425.1 623.4L1430.3 631.7L1425.1 640.0L1419.9 631.7Z" fill="#00ff00" fill-opacity="0.75" stroke="#000" stroke-opacity="0.58" stroke-width="1.25"/>
<rect x="1434.3" y="569.8" width="7.8" height="9.6" fill="#00ff00" fill-opacity="0.75" stroke="#000" stroke-opacity="0.58" stroke-width="1.25"/>
<path d="M1434.4 578.0L1444.6 585.1L1434.4 592.2Z" fill="#00ff00" fill-opacity="0.75" stroke="#000" stroke-opacity="0.58" stroke-width="1.25"/>
<path d="M1432.9 583.3L1443.5 583.3L1438.2 595.4Z" fill="#00ff00" fill-opacity="0.75" stroke="#000" stroke-opacity="0.58" stroke-width="1.25"/>
<path d="M1438.2 626.6L1443.4 634.9L1438.2 643.2L1433.0 634.9Z" fill="#00ff00" fill-opacity="0.75" stroke="#000" stroke-opacity="0.58" stroke-width="1.25"/>
<rect x="1447.4" y="535.8" width="7.8" height="9.6" fill="#00ff00" fill-opacity="0.75" stroke="#000" stroke-opacity="0.58" stroke-width="1.25"/>
<line x1="124.77" y1="745.70" x2="124.77" y2="739.20" stroke="#555555" stroke-width="1.4"/>
<line x1="124.77" y1="1.80" x2="124.77" y2="8.30" stroke="#555555" stroke-width="1.4"/>
<line x1="190.54" y1="745.70" x2="190.54" y2="739.20" stroke="#555555" stroke-width="1.4"/>
<line x1="190.54" y1="1.80" x2="190.54" y2="8.30" stroke="#555555" stroke-width="1.4"/>
<line x1="256.31" y1="745.70" x2="256.31" y2="739.20" stroke="#555555" stroke-width="1.4"/>
<line x1="256.31" y1="1.80" x2="256.31" y2="8.30" stroke="#555555" stroke-width="1.4"/>
<line x1="322.08" y1="745.70" x2="322.08" y2="739.20" stroke="#555555" stroke-width="1.4"/>
<line x1="322.08" y1="1.80" x2="322.08" y2="8.30" stroke="#555555" stroke-width="1.4"/>
<line x1="387.85" y1="745.70" x2="387.85" y2="739.20" stroke="#555555" stroke-width="1.4"/>
<line x1="387.85" y1="1.80" x2="387.85" y2="8.30" stroke="#555555" stroke-width="1.4"/>
<line x1="453.62" y1="745.70" x2="453.62" y2="739.20" stroke="#555555" stroke-width="1.4"/>
<line x1="453.62" y1="1.80" x2="453.62" y2="8.30" stroke="#555555" stroke-width="1.4"/>
<line x1="519.39" y1="745.70" x2="519.39" y2="739.20" stroke="#555555" stroke-width="1.4"/>
<line x1="519.39" y1="1.80" x2="519.39" y2="8.30" stroke="#555555" stroke-width="1.4"/>
<line x1="585.16" y1="745.70" x2="585.16" y2="739.20" stroke="#555555" stroke-width="1.4"/>
<line x1="585.16" y1="1.80" x2="585.16" y2="8.30" stroke="#555555" stroke-width="1.4"/>
<line x1="650.93" y1="745.70" x2="650.93" y2="739.20" stroke="#555555" stroke-width="1.4"/>
<line x1="650.93" y1="1.80" x2="650.93" y2="8.30" stroke="#555555" stroke-width="1.4"/>
<line x1="59.00" y1="662.74" x2="62.50" y2="662.74" stroke="#555555" stroke-width="1.4"/>
<line x1="716.70" y1="662.74" x2="713.20" y2="662.74" stroke="#555555" stroke-width="1.4"/>
<line x1="59.00" y1="614.21" x2="62.50" y2="614.21" stroke="#555555" stroke-width="1.4"/>
<line x1="716.70" y1="614.21" x2="713.20" y2="614.21" stroke="#555555" stroke-width="1.4"/>
<line x1="59.00" y1="579.77" x2="62.50" y2="579.77" stroke="#555555" stroke-width="1.4"/>
<line x1="716.70" y1="579.77" x2="713.20" y2="579.77" stroke="#555555" stroke-width="1.4"/>
<line x1="59.00" y1="553.06" x2="62.50" y2="553.06" stroke="#555555" stroke-width="1.4"/>
<line x1="716.70" y1="553.06" x2="713.20" y2="553.06" stroke="#555555" stroke-width="1.4"/>
<line x1="59.00" y1="531.24" x2="62.50" y2="531.24" stroke="#555555" stroke-width="1.4"/>
<line x1="716.70" y1="531.24" x2="713.20" y2="531.24" stroke="#555555" stroke-width="1.4"/>
<line x1="59.00" y1="512.79" x2="62.50" y2="512.79" stroke="#555555" stroke-width="1.4"/>
<line x1="716.70" y1="512.79" x2="713.20" y2="512.79" stroke="#555555" stroke-width="1.4"/>
<line x1="59.00" y1="496.81" x2="62.50" y2="496.81" stroke="#555555" stroke-width="1.4"/>
<line x1="716.70" y1="496.81" x2="713.20" y2="496.81" stroke="#555555" stroke-width="1.4"/>
<line x1="59.00" y1="482.71" x2="62.50" y2="482.71" stroke="#555555" stroke-width="1.4"/>
<line x1="716.70" y1="482.71" x2="713.20" y2="482.71" stroke="#555555" stroke-width="1.4"/>
<line x1="59.00" y1="470.10" x2="65.50" y2="470.10" stroke="#555555" stroke-width="1.4"/>
<line x1="716.70" y1="470.10" x2="710.20" y2="470.10" stroke="#555555" stroke-width="1.4"/>
<line x1="59.00" y1="387.14" x2="62.50" y2="387.14" stroke="#555555" stroke-width="1.4"/>
<line x1="716.70" y1="387.14" x2="713.20" y2="387.14" stroke="#555555" stroke-width="1.4"/>
<line x1="59.00" y1="338.61" x2="62.50" y2="338.61" stroke="#555555" stroke-width="1.4"/>
<line x1="716.70" y1="338.61" x2="713.20" y2="338.61" stroke="#555555" stroke-width="1.4"/>
<line x1="59.00" y1="304.17" x2="62.50" y2="304.17" stroke="#555555" stroke-width="1.4"/>
<line x1="716.70" y1="304.17" x2="713.20" y2="304.17" stroke="#555555" stroke-width="1.4"/>
<line x1="59.00" y1="277.46" x2="62.50" y2="277.46" stroke="#555555" stroke-width="1.4"/>
<line x1="716.70" y1="277.46" x2="713.20" y2="277.46" stroke="#555555" stroke-width="1.4"/>
<line x1="59.00" y1="255.64" x2="62.50" y2="255.64" stroke="#555555" stroke-width="1.4"/>
<line x1="716.70" y1="255.64" x2="713.20" y2="255.64" stroke="#555555" stroke-width="1.4"/>
<line x1="59.00" y1="237.19" x2="62.50" y2="237.19" stroke="#555555" stroke-width="1.4"/>
<line x1="716.70" y1="237.19" x2="713.20" y2="237.19" stroke="#555555" stroke-width="1.4"/>
<line x1="59.00" y1="221.21" x2="62.50" y2="221.21" stroke="#555555" stroke-width="1.4"/>
<line x1="716.70" y1="221.21" x2="713.20" y2="221.21" stroke="#555555" stroke-width="1.4"/>
<line x1="59.00" y1="207.11" x2="62.50" y2="207.11" stroke="#555555" stroke-width="1.4"/>
<line x1="716.70" y1="207.11" x2="713.20" y2="207.11" stroke="#555555" stroke-width="1.4"/>
<line x1="59.00" y1="194.50" x2="65.50" y2="194.50" stroke="#555555" stroke-width="1.4"/>
<line x1="716.70" y1="194.50" x2="710.20" y2="194.50" stroke="#555555" stroke-width="1.4"/>
<line x1="59.00" y1="111.54" x2="62.50" y2="111.54" stroke="#555555" stroke-width="1.4"/>
<line x1="716.70" y1="111.54" x2="713.20" y2="111.54" stroke="#555555" stroke-width="1.4"/>
<line x1="59.00" y1="63.01" x2="62.50" y2="63.01" stroke="#555555" stroke-width="1.4"/>
<line x1="716.70" y1="63.01" x2="713.20" y2="63.01" stroke="#555555" stroke-width="1.4"/>
<line x1="59.00" y1="28.57" x2="62.50" y2="28.57" stroke="#555555" stroke-width="1.4"/>
<line x1="716.70" y1="28.57" x2="713.20" y2="28.57" stroke="#555555" stroke-width="1.4"/>
<line x1="59.00" y1="1.86" x2="62.50" y2="1.86" stroke="#555555" stroke-width="1.4"/>
<line x1="716.70" y1="1.86" x2="713.20" y2="1.86" stroke="#555555" stroke-width="1.4"/>
<rect x="59.00" y="1.80" width="657.70" height="743.90" fill="none" stroke="#555555" stroke-width="1.9" stroke-linejoin="round"/>
<text transform="translate(59.00,776.60) scale(0.772,1)" font-size="21.6" text-anchor="middle" fill="#383838" >1970</text>
<text transform="translate(124.77,776.60) scale(0.772,1)" font-size="21.6" text-anchor="middle" fill="#383838" >1975</text>
<text transform="translate(190.54,776.60) scale(0.772,1)" font-size="21.6" text-anchor="middle" fill="#383838" >1980</text>
<text transform="translate(256.31,776.60) scale(0.772,1)" font-size="21.6" text-anchor="middle" fill="#383838" >1985</text>
<text transform="translate(322.08,776.60) scale(0.772,1)" font-size="21.6" text-anchor="middle" fill="#383838" >1990</text>
<text transform="translate(387.85,776.60) scale(0.772,1)" font-size="21.6" text-anchor="middle" fill="#383838" >1995</text>
<text transform="translate(453.62,776.60) scale(0.772,1)" font-size="21.6" text-anchor="middle" fill="#383838" >2000</text>
<text transform="translate(519.39,776.60) scale(0.772,1)" font-size="21.6" text-anchor="middle" fill="#383838" >2005</text>
<text transform="translate(585.16,776.60) scale(0.772,1)" font-size="21.6" text-anchor="middle" fill="#383838" >2010</text>
<text transform="translate(650.93,776.60) scale(0.772,1)" font-size="21.6" text-anchor="middle" fill="#383838" >2015</text>
<text transform="translate(716.70,776.60) scale(0.772,1)" font-size="21.6" text-anchor="middle" fill="#383838" >2020</text>
<text transform="translate(44.20,757.30) scale(0.8,1)" font-size="21.0" text-anchor="end" fill="#383838" >10</text>
<text transform="translate(44.20,747.80) scale(0.82,1)" font-size="17" text-anchor="start" fill="#383838" >0</text>
<text transform="translate(44.20,480.10) scale(0.8,1)" font-size="21.0" text-anchor="end" fill="#383838" >10</text>
<text transform="translate(44.20,470.60) scale(0.82,1)" font-size="17" text-anchor="start" fill="#383838" >1</text>
<text transform="translate(44.20,204.50) scale(0.8,1)" font-size="21.0" text-anchor="end" fill="#383838" >10</text>
<text transform="translate(44.20,195.00) scale(0.82,1)" font-size="17" text-anchor="start" fill="#383838" >2</text>
<line x1="887.62" y1="745.70" x2="887.62" y2="739.20" stroke="#555555" stroke-width="1.4"/>
<line x1="887.62" y1="5.60" x2="887.62" y2="12.10" stroke="#555555" stroke-width="1.4"/>
<line x1="953.04" y1="745.70" x2="953.04" y2="739.20" stroke="#555555" stroke-width="1.4"/>
<line x1="953.04" y1="5.60" x2="953.04" y2="12.10" stroke="#555555" stroke-width="1.4"/>
<line x1="1018.46" y1="745.70" x2="1018.46" y2="739.20" stroke="#555555" stroke-width="1.4"/>
<line x1="1018.46" y1="5.60" x2="1018.46" y2="12.10" stroke="#555555" stroke-width="1.4"/>
<line x1="1083.88" y1="745.70" x2="1083.88" y2="739.20" stroke="#555555" stroke-width="1.4"/>
<line x1="1083.88" y1="5.60" x2="1083.88" y2="12.10" stroke="#555555" stroke-width="1.4"/>
<line x1="1149.30" y1="745.70" x2="1149.30" y2="739.20" stroke="#555555" stroke-width="1.4"/>
<line x1="1149.30" y1="5.60" x2="1149.30" y2="12.10" stroke="#555555" stroke-width="1.4"/>
<line x1="1214.72" y1="745.70" x2="1214.72" y2="739.20" stroke="#555555" stroke-width="1.4"/>
<line x1="1214.72" y1="5.60" x2="1214.72" y2="12.10" stroke="#555555" stroke-width="1.4"/>
<line x1="1280.14" y1="745.70" x2="1280.14" y2="739.20" stroke="#555555" stroke-width="1.4"/>
<line x1="1280.14" y1="5.60" x2="1280.14" y2="12.10" stroke="#555555" stroke-width="1.4"/>
<line x1="1345.56" y1="745.70" x2="1345.56" y2="739.20" stroke="#555555" stroke-width="1.4"/>
<line x1="1345.56" y1="5.60" x2="1345.56" y2="12.10" stroke="#555555" stroke-width="1.4"/>
<line x1="1410.98" y1="745.70" x2="1410.98" y2="739.20" stroke="#555555" stroke-width="1.4"/>
<line x1="1410.98" y1="5.60" x2="1410.98" y2="12.10" stroke="#555555" stroke-width="1.4"/>
<line x1="822.20" y1="663.16" x2="825.70" y2="663.16" stroke="#555555" stroke-width="1.4"/>
<line x1="1476.40" y1="663.16" x2="1472.90" y2="663.16" stroke="#555555" stroke-width="1.4"/>
<line x1="822.20" y1="614.87" x2="825.70" y2="614.87" stroke="#555555" stroke-width="1.4"/>
<line x1="1476.40" y1="614.87" x2="1472.90" y2="614.87" stroke="#555555" stroke-width="1.4"/>
<line x1="822.20" y1="580.62" x2="825.70" y2="580.62" stroke="#555555" stroke-width="1.4"/>
<line x1="1476.40" y1="580.62" x2="1472.90" y2="580.62" stroke="#555555" stroke-width="1.4"/>
<line x1="822.20" y1="554.04" x2="825.70" y2="554.04" stroke="#555555" stroke-width="1.4"/>
<line x1="1476.40" y1="554.04" x2="1472.90" y2="554.04" stroke="#555555" stroke-width="1.4"/>
<line x1="822.20" y1="532.33" x2="825.70" y2="532.33" stroke="#555555" stroke-width="1.4"/>
<line x1="1476.40" y1="532.33" x2="1472.90" y2="532.33" stroke="#555555" stroke-width="1.4"/>
<line x1="822.20" y1="513.97" x2="825.70" y2="513.97" stroke="#555555" stroke-width="1.4"/>
<line x1="1476.40" y1="513.97" x2="1472.90" y2="513.97" stroke="#555555" stroke-width="1.4"/>
<line x1="822.20" y1="498.07" x2="825.70" y2="498.07" stroke="#555555" stroke-width="1.4"/>
<line x1="1476.40" y1="498.07" x2="1472.90" y2="498.07" stroke="#555555" stroke-width="1.4"/>
<line x1="822.20" y1="484.05" x2="825.70" y2="484.05" stroke="#555555" stroke-width="1.4"/>
<line x1="1476.40" y1="484.05" x2="1472.90" y2="484.05" stroke="#555555" stroke-width="1.4"/>
<line x1="822.20" y1="471.50" x2="828.70" y2="471.50" stroke="#555555" stroke-width="1.4"/>
<line x1="1476.40" y1="471.50" x2="1469.90" y2="471.50" stroke="#555555" stroke-width="1.4"/>
<line x1="822.20" y1="388.96" x2="825.70" y2="388.96" stroke="#555555" stroke-width="1.4"/>
<line x1="1476.40" y1="388.96" x2="1472.90" y2="388.96" stroke="#555555" stroke-width="1.4"/>
<line x1="822.20" y1="340.67" x2="825.70" y2="340.67" stroke="#555555" stroke-width="1.4"/>
<line x1="1476.40" y1="340.67" x2="1472.90" y2="340.67" stroke="#555555" stroke-width="1.4"/>
<line x1="822.20" y1="306.42" x2="825.70" y2="306.42" stroke="#555555" stroke-width="1.4"/>
<line x1="1476.40" y1="306.42" x2="1472.90" y2="306.42" stroke="#555555" stroke-width="1.4"/>
<line x1="822.20" y1="279.84" x2="825.70" y2="279.84" stroke="#555555" stroke-width="1.4"/>
<line x1="1476.40" y1="279.84" x2="1472.90" y2="279.84" stroke="#555555" stroke-width="1.4"/>
<line x1="822.20" y1="258.13" x2="825.70" y2="258.13" stroke="#555555" stroke-width="1.4"/>
<line x1="1476.40" y1="258.13" x2="1472.90" y2="258.13" stroke="#555555" stroke-width="1.4"/>
<line x1="822.20" y1="239.77" x2="825.70" y2="239.77" stroke="#555555" stroke-width="1.4"/>
<line x1="1476.40" y1="239.77" x2="1472.90" y2="239.77" stroke="#555555" stroke-width="1.4"/>
<line x1="822.20" y1="223.87" x2="825.70" y2="223.87" stroke="#555555" stroke-width="1.4"/>
<line x1="1476.40" y1="223.87" x2="1472.90" y2="223.87" stroke="#555555" stroke-width="1.4"/>
<line x1="822.20" y1="209.85" x2="825.70" y2="209.85" stroke="#555555" stroke-width="1.4"/>
<line x1="1476.40" y1="209.85" x2="1472.90" y2="209.85" stroke="#555555" stroke-width="1.4"/>
<line x1="822.20" y1="197.30" x2="828.70" y2="197.30" stroke="#555555" stroke-width="1.4"/>
<line x1="1476.40" y1="197.30" x2="1469.90" y2="197.30" stroke="#555555" stroke-width="1.4"/>
<line x1="822.20" y1="114.76" x2="825.70" y2="114.76" stroke="#555555" stroke-width="1.4"/>
<line x1="1476.40" y1="114.76" x2="1472.90" y2="114.76" stroke="#555555" stroke-width="1.4"/>
<line x1="822.20" y1="66.47" x2="825.70" y2="66.47" stroke="#555555" stroke-width="1.4"/>
<line x1="1476.40" y1="66.47" x2="1472.90" y2="66.47" stroke="#555555" stroke-width="1.4"/>
<line x1="822.20" y1="32.22" x2="825.70" y2="32.22" stroke="#555555" stroke-width="1.4"/>
<line x1="1476.40" y1="32.22" x2="1472.90" y2="32.22" stroke="#555555" stroke-width="1.4"/>
<line x1="822.20" y1="5.64" x2="825.70" y2="5.64" stroke="#555555" stroke-width="1.4"/>
<line x1="1476.40" y1="5.64" x2="1472.90" y2="5.64" stroke="#555555" stroke-width="1.4"/>
<rect x="822.20" y="5.60" width="654.20" height="740.10" fill="none" stroke="#555555" stroke-width="1.9" stroke-linejoin="round"/>
<text transform="translate(822.20,776.60) scale(0.772,1)" font-size="21.6" text-anchor="middle" fill="#383838" >1970</text>
<text transform="translate(887.62,776.60) scale(0.772,1)" font-size="21.6" text-anchor="middle" fill="#383838" >1975</text>
<text transform="translate(953.04,776.60) scale(0.772,1)" font-size="21.6" text-anchor="middle" fill="#383838" >1980</text>
<text transform="translate(1018.46,776.60) scale(0.772,1)" font-size="21.6" text-anchor="middle" fill="#383838" >1985</text>
<text transform="translate(1083.88,776.60) scale(0.772,1)" font-size="21.6" text-anchor="middle" fill="#383838" >1990</text>
<text transform="translate(1149.30,776.60) scale(0.772,1)" font-size="21.6" text-anchor="middle" fill="#383838" >1995</text>
<text transform="translate(1214.72,776.60) scale(0.772,1)" font-size="21.6" text-anchor="middle" fill="#383838" >2000</text>
<text transform="translate(1280.14,776.60) scale(0.772,1)" font-size="21.6" text-anchor="middle" fill="#383838" >2005</text>
<text transform="translate(1345.56,776.60) scale(0.772,1)" font-size="21.6" text-anchor="middle" fill="#383838" >2010</text>
<text transform="translate(1410.98,776.60) scale(0.772,1)" font-size="21.6" text-anchor="middle" fill="#383838" >2015</text>
<text transform="translate(1476.40,776.60) scale(0.772,1)" font-size="21.6" text-anchor="middle" fill="#383838" >2020</text>
<text transform="translate(807.40,757.30) scale(0.8,1)" font-size="21.0" text-anchor="end" fill="#383838" >10</text>
<text transform="translate(807.40,747.80) scale(0.82,1)" font-size="17" text-anchor="start" fill="#383838" >0</text>
<text transform="translate(807.40,481.50) scale(0.8,1)" font-size="21.0" text-anchor="end" fill="#383838" >10</text>
<text transform="translate(807.40,472.00) scale(0.82,1)" font-size="17" text-anchor="start" fill="#383838" >1</text>
<text transform="translate(807.40,207.30) scale(0.8,1)" font-size="21.0" text-anchor="end" fill="#383838" >10</text>
<text transform="translate(807.40,197.80) scale(0.82,1)" font-size="17" text-anchor="start" fill="#383838" >2</text>
<rect x="594.4" y="597.4" width="107.8" height="131" rx="1.5" fill="#fff" stroke="#333" stroke-width="1.7"/>
<ellipse cx="624.2" cy="612.1" rx="5.0" ry="6.05" fill="#ff0000" fill-opacity="0.75" stroke="#000" stroke-opacity="0.58" stroke-width="1.25"/>
<text transform="translate(653.50,619.80) scale(0.88,1)" font-size="17.3" text-anchor="start" fill="#1a1a1a" >cd</text>
<ellipse cx="624.2" cy="637.6" rx="5.0" ry="6.05" fill="#aeae00" fill-opacity="0.75" stroke="#000" stroke-opacity="0.58" stroke-width="1.25"/>
<text transform="translate(653.50,645.25) scale(0.88,1)" font-size="17.3" text-anchor="start" fill="#1a1a1a" >cdrtwk</text>
<ellipse cx="624.2" cy="663.0" rx="5.0" ry="6.05" fill="#3abebe" fill-opacity="0.75" stroke="#000" stroke-opacity="0.58" stroke-width="1.25"/>
<text transform="translate(653.50,670.70) scale(0.88,1)" font-size="17.3" text-anchor="start" fill="#1a1a1a" >d0</text>
<ellipse cx="624.2" cy="688.5" rx="5.0" ry="6.05" fill="#ffff00" fill-opacity="0.75" stroke="#000" stroke-opacity="0.58" stroke-width="1.25"/>
<text transform="translate(653.50,696.15) scale(0.88,1)" font-size="17.3" text-anchor="start" fill="#1a1a1a" >rt</text>
<ellipse cx="624.2" cy="713.9" rx="5.0" ry="6.05" fill="#00ff00" fill-opacity="0.75" stroke="#000" stroke-opacity="0.58" stroke-width="1.25"/>
<text transform="translate(653.50,721.60) scale(0.88,1)" font-size="17.3" text-anchor="start" fill="#1a1a1a" >wk</text>
<rect x="836.3" y="22.5" width="107.8" height="131" rx="1.5" fill="#fff" stroke="#333" stroke-width="1.7"/>
<ellipse cx="866.1" cy="37.2" rx="5.0" ry="6.05" fill="#ff0000" fill-opacity="0.75" stroke="#000" stroke-opacity="0.58" stroke-width="1.25"/>
<text transform="translate(895.40,44.90) scale(0.88,1)" font-size="17.3" text-anchor="start" fill="#1a1a1a" >cd</text>
<ellipse cx="866.1" cy="62.7" rx="5.0" ry="6.05" fill="#aeae00" fill-opacity="0.75" stroke="#000" stroke-opacity="0.58" stroke-width="1.25"/>
<text transform="translate(895.40,70.35) scale(0.88,1)" font-size="17.3" text-anchor="start" fill="#1a1a1a" >cdrtwk</text>
<ellipse cx="866.1" cy="88.1" rx="5.0" ry="6.05" fill="#3abebe" fill-opacity="0.75" stroke="#000" stroke-opacity="0.58" stroke-width="1.25"/>
<text transform="translate(895.40,95.80) scale(0.88,1)" font-size="17.3" text-anchor="start" fill="#1a1a1a" >d0</text>
<ellipse cx="866.1" cy="113.5" rx="5.0" ry="6.05" fill="#ffff00" fill-opacity="0.75" stroke="#000" stroke-opacity="0.58" stroke-width="1.25"/>
<text transform="translate(895.40,121.25) scale(0.88,1)" font-size="17.3" text-anchor="start" fill="#1a1a1a" >rt</text>
<ellipse cx="866.1" cy="139.0" rx="5.0" ry="6.05" fill="#00ff00" fill-opacity="0.75" stroke="#000" stroke-opacity="0.58" stroke-width="1.25"/>
<text transform="translate(895.40,146.70) scale(0.88,1)" font-size="17.3" text-anchor="start" fill="#1a1a1a" >wk</text>
<text transform="translate(391.50,806.50) scale(0.82,1)" font-size="23" text-anchor="middle" fill="#383838" >Years</text>
<text transform="translate(1149.50,806.50) scale(0.82,1)" font-size="23" text-anchor="middle" fill="#383838" >Years</text>
<text transform="translate(14.7,374.4) scale(0.82,1) rotate(-90)" font-size="22.9" text-anchor="middle" fill="#383838">Daily Travel Time per Capita by Mode of Transport in [min]</text>
<text transform="translate(779.2,372.35) scale(0.82,1) rotate(-90)" font-size="22.75" text-anchor="middle" fill="#383838">Daily Travelled Distance per Capita by Mode of Transport in [km]</text>
<text x="96" y="715.6" font-family='"Liberation Serif", serif' font-size="34" letter-spacing="-0.9" fill="#000">a)</text>
<text x="861" y="715.6" font-family='"Liberation Serif", serif' font-size="34" letter-spacing="-0.9" fill="#000">b)</text>
</svg></body></html>
